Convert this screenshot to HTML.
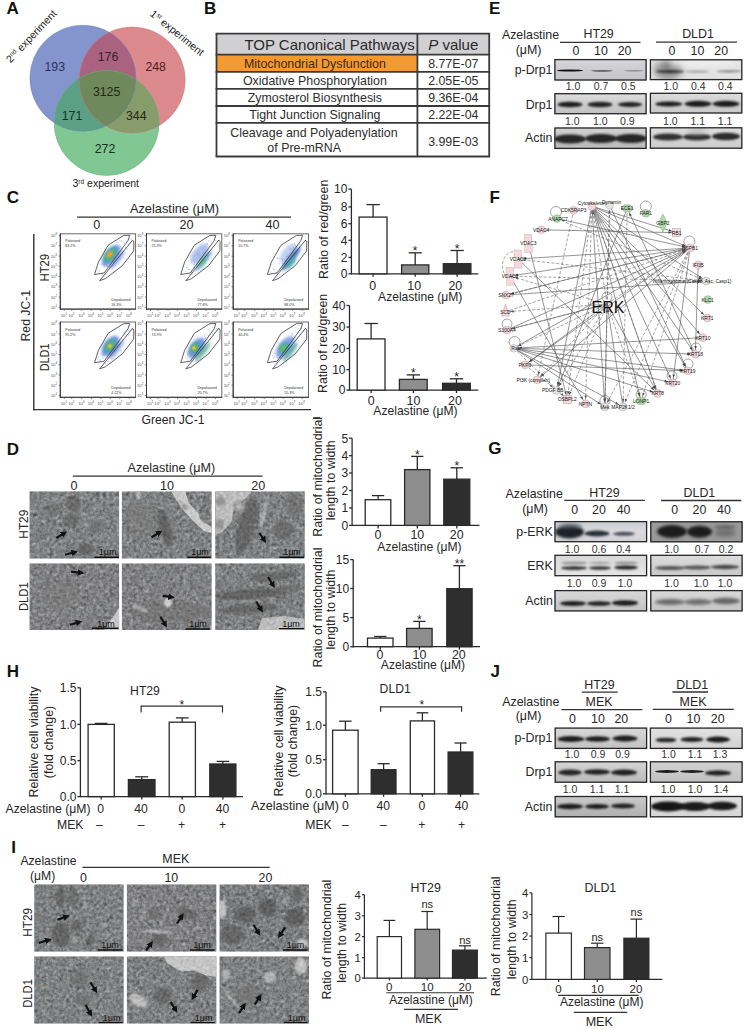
<!DOCTYPE html>
<html><head><meta charset="utf-8"><style>
html,body{margin:0;padding:0;background:#fff;}
body{width:747px;height:1030px;overflow:hidden;}
svg{display:block;font-family:"Liberation Sans", sans-serif;}
</style></head><body>
<svg width="747" height="1030" viewBox="0 0 747 1030">
<defs>
<filter id="b06" x="-50%" y="-50%" width="200%" height="200%"><feGaussianBlur stdDeviation="0.6"/></filter>
<filter id="b1" x="-50%" y="-50%" width="200%" height="200%"><feGaussianBlur stdDeviation="1"/></filter>
<filter id="b15" x="-50%" y="-50%" width="200%" height="200%"><feGaussianBlur stdDeviation="1.5"/></filter>
<filter id="b2" x="-50%" y="-50%" width="200%" height="200%"><feGaussianBlur stdDeviation="2"/></filter>
<filter id="b3" x="-50%" y="-50%" width="200%" height="200%"><feGaussianBlur stdDeviation="3"/></filter>
<clipPath id="cB"><circle cx="82.9" cy="78.2" r="53"/></clipPath>
<clipPath id="cR"><circle cx="132.2" cy="80" r="53"/></clipPath>
<clipPath id="cG"><circle cx="106.6" cy="123.0" r="52.5"/></clipPath>
<clipPath id="cl1"><rect x="554.3" y="59" width="92.40000000000009" height="21.599999999999994"/></clipPath>
<linearGradient id="g2" x1="0" y1="0" x2="0" y2="1"><stop offset="0" stop-color="#e0e0e4" stop-opacity="0.6"/><stop offset="1" stop-color="#b8b8bc" stop-opacity="0.4"/></linearGradient>
<clipPath id="cl3"><rect x="649.8" y="59.2" width="92.60000000000002" height="21.0"/></clipPath>
<clipPath id="cl4"><rect x="554.3" y="93.1" width="92.40000000000009" height="21.200000000000003"/></clipPath>
<linearGradient id="g5" x1="0" y1="0" x2="0" y2="1"><stop offset="0" stop-color="#e6e6e6" stop-opacity="0.6"/><stop offset="1" stop-color="#b0b0b0" stop-opacity="0.5"/></linearGradient>
<clipPath id="cl6"><rect x="649.8" y="92.7" width="92.60000000000002" height="20.89999999999999"/></clipPath>
<linearGradient id="g7" x1="0" y1="0" x2="0" y2="1"><stop offset="0" stop-color="#e2e2e2" stop-opacity="0.6"/><stop offset="1" stop-color="#bcbcbc" stop-opacity="0.5"/></linearGradient>
<clipPath id="cl8"><rect x="554.3" y="127.4" width="92.40000000000009" height="21.599999999999994"/></clipPath>
<linearGradient id="g9" x1="0" y1="0" x2="0" y2="1"><stop offset="0" stop-color="#dcdcdc" stop-opacity="0.6"/><stop offset="1" stop-color="#a8a8a8" stop-opacity="0.4"/></linearGradient>
<clipPath id="cl10"><rect x="649.8" y="127.2" width="92.60000000000002" height="21.60000000000001"/></clipPath>
<linearGradient id="g11" x1="0" y1="0" x2="0" y2="1"><stop offset="0" stop-color="#e4e4e4" stop-opacity="0.5"/><stop offset="1" stop-color="#c0c0c0" stop-opacity="0.5"/></linearGradient>
<clipPath id="cl12"><rect x="554.4" y="521" width="92.80000000000007" height="21.299999999999955"/></clipPath>
<linearGradient id="g13" x1="0" y1="0" x2="0" y2="1"><stop offset="0" stop-color="#b8bcc0" stop-opacity="0.5"/><stop offset="0.5" stop-color="#e4e4e8" stop-opacity="0.3"/><stop offset="1" stop-color="#c8c8cc" stop-opacity="0.4"/></linearGradient>
<clipPath id="cl14"><rect x="650.2" y="521.2" width="92.5" height="21.199999999999932"/></clipPath>
<clipPath id="cl15"><rect x="554.4" y="554.7" width="92.80000000000007" height="21.59999999999991"/></clipPath>
<linearGradient id="g16" x1="0" y1="0" x2="0" y2="1"><stop offset="0" stop-color="#cfcfcf" stop-opacity="0.4"/><stop offset="1" stop-color="#f0f0f0" stop-opacity="0.4"/></linearGradient>
<clipPath id="cl17"><rect x="650.2" y="554.7" width="92.5" height="21.59999999999991"/></clipPath>
<linearGradient id="g18" x1="0" y1="0" x2="0" y2="1"><stop offset="0" stop-color="#e4e4e4" stop-opacity="0.6"/><stop offset="1" stop-color="#bcbcbc" stop-opacity="0.5"/></linearGradient>
<clipPath id="cl19"><rect x="554.4" y="590" width="92.80000000000007" height="21.5"/></clipPath>
<linearGradient id="g20" x1="0" y1="0" x2="0" y2="1"><stop offset="0" stop-color="#e0e0e0" stop-opacity="0.5"/><stop offset="1" stop-color="#b4b4b4" stop-opacity="0.5"/></linearGradient>
<clipPath id="cl21"><rect x="650.2" y="590" width="92.5" height="21.5"/></clipPath>
<linearGradient id="g22" x1="0" y1="0" x2="0" y2="1"><stop offset="0" stop-color="#e2e2e2" stop-opacity="0.5"/><stop offset="1" stop-color="#b8b8b8" stop-opacity="0.5"/></linearGradient>
<clipPath id="cl23"><rect x="554.6" y="727.5" width="92.60000000000002" height="21.5"/></clipPath>
<linearGradient id="g24" x1="0" y1="0" x2="0" y2="1"><stop offset="0" stop-color="#e2e2e2" stop-opacity="0.5"/><stop offset="1" stop-color="#b4b4b4" stop-opacity="0.5"/></linearGradient>
<clipPath id="cl25"><rect x="649.8" y="727.5" width="92.90000000000009" height="21.5"/></clipPath>
<linearGradient id="g26" x1="0" y1="0" x2="0" y2="1"><stop offset="0" stop-color="#e8e8e8" stop-opacity="0.5"/><stop offset="1" stop-color="#c8c8c8" stop-opacity="0.5"/></linearGradient>
<clipPath id="cl27"><rect x="554.6" y="761.2" width="92.60000000000002" height="21.59999999999991"/></clipPath>
<linearGradient id="g28" x1="0" y1="0" x2="0" y2="1"><stop offset="0" stop-color="#e0e0e0" stop-opacity="0.5"/><stop offset="1" stop-color="#a8a8a8" stop-opacity="0.5"/></linearGradient>
<clipPath id="cl29"><rect x="649.8" y="761.2" width="92.90000000000009" height="21.59999999999991"/></clipPath>
<linearGradient id="g30" x1="0" y1="0" x2="0" y2="1"><stop offset="0" stop-color="#d8d8d8" stop-opacity="0.5"/><stop offset="1" stop-color="#b8b8b8" stop-opacity="0.5"/></linearGradient>
<clipPath id="cl31"><rect x="554.6" y="795.9" width="92.60000000000002" height="21.5"/></clipPath>
<linearGradient id="g32" x1="0" y1="0" x2="0" y2="1"><stop offset="0" stop-color="#d8d8d8" stop-opacity="0.5"/><stop offset="1" stop-color="#a0a0a0" stop-opacity="0.5"/></linearGradient>
<clipPath id="cl33"><rect x="649.8" y="795.9" width="92.90000000000009" height="21.5"/></clipPath>
<linearGradient id="g34" x1="0" y1="0" x2="0" y2="1"><stop offset="0" stop-color="#e8e8e8" stop-opacity="0.5"/><stop offset="1" stop-color="#d0d0d0" stop-opacity="0.5"/></linearGradient>
<clipPath id="cf35"><rect x="60.3" y="233.8" width="75.3" height="75.3"/></clipPath>
<clipPath id="cf36"><rect x="146.5" y="233.8" width="75.3" height="75.3"/></clipPath>
<clipPath id="cf37"><rect x="233.2" y="233.8" width="75.3" height="75.3"/></clipPath>
<clipPath id="cf38"><rect x="60.3" y="322" width="75.3" height="75.3"/></clipPath>
<clipPath id="cf39"><rect x="146.5" y="322" width="75.3" height="75.3"/></clipPath>
<clipPath id="cf40"><rect x="233.2" y="322" width="75.3" height="75.3"/></clipPath>
<filter id="emn1" x="0%" y="0%" width="100%" height="100%" color-interpolation-filters="sRGB"><feTurbulence type="fractalNoise" baseFrequency="0.3" numOctaves="3" seed="1"/><feColorMatrix type="matrix" values="0.33 0.33 0.33 0 0 0.33 0.33 0.33 0 0 0.33 0.33 0.33 0 0 0 0 0 0 1"/><feComponentTransfer><feFuncR type="linear" slope="1.6" intercept="-0.3"/><feFuncG type="linear" slope="1.6" intercept="-0.3"/><feFuncB type="linear" slope="1.6" intercept="-0.3"/></feComponentTransfer><feGaussianBlur stdDeviation="0.45"/></filter>
<filter id="emm1" x="0%" y="0%" width="100%" height="100%" color-interpolation-filters="sRGB"><feTurbulence type="fractalNoise" baseFrequency="0.12" numOctaves="2" seed="21"/><feColorMatrix type="matrix" values="0.33 0.33 0.33 0 0 0.33 0.33 0.33 0 0 0.33 0.33 0.33 0 0 0 0 0 0 1"/></filter>
<filter id="emn2" x="0%" y="0%" width="100%" height="100%" color-interpolation-filters="sRGB"><feTurbulence type="fractalNoise" baseFrequency="0.3" numOctaves="3" seed="2"/><feColorMatrix type="matrix" values="0.33 0.33 0.33 0 0 0.33 0.33 0.33 0 0 0.33 0.33 0.33 0 0 0 0 0 0 1"/><feComponentTransfer><feFuncR type="linear" slope="1.6" intercept="-0.3"/><feFuncG type="linear" slope="1.6" intercept="-0.3"/><feFuncB type="linear" slope="1.6" intercept="-0.3"/></feComponentTransfer><feGaussianBlur stdDeviation="0.45"/></filter>
<filter id="emm2" x="0%" y="0%" width="100%" height="100%" color-interpolation-filters="sRGB"><feTurbulence type="fractalNoise" baseFrequency="0.12" numOctaves="2" seed="22"/><feColorMatrix type="matrix" values="0.33 0.33 0.33 0 0 0.33 0.33 0.33 0 0 0.33 0.33 0.33 0 0 0 0 0 0 1"/></filter>
<filter id="emn3" x="0%" y="0%" width="100%" height="100%" color-interpolation-filters="sRGB"><feTurbulence type="fractalNoise" baseFrequency="0.3" numOctaves="3" seed="3"/><feColorMatrix type="matrix" values="0.33 0.33 0.33 0 0 0.33 0.33 0.33 0 0 0.33 0.33 0.33 0 0 0 0 0 0 1"/><feComponentTransfer><feFuncR type="linear" slope="1.6" intercept="-0.3"/><feFuncG type="linear" slope="1.6" intercept="-0.3"/><feFuncB type="linear" slope="1.6" intercept="-0.3"/></feComponentTransfer><feGaussianBlur stdDeviation="0.45"/></filter>
<filter id="emm3" x="0%" y="0%" width="100%" height="100%" color-interpolation-filters="sRGB"><feTurbulence type="fractalNoise" baseFrequency="0.12" numOctaves="2" seed="23"/><feColorMatrix type="matrix" values="0.33 0.33 0.33 0 0 0.33 0.33 0.33 0 0 0.33 0.33 0.33 0 0 0 0 0 0 1"/></filter>
<filter id="emn4" x="0%" y="0%" width="100%" height="100%" color-interpolation-filters="sRGB"><feTurbulence type="fractalNoise" baseFrequency="0.3" numOctaves="3" seed="4"/><feColorMatrix type="matrix" values="0.33 0.33 0.33 0 0 0.33 0.33 0.33 0 0 0.33 0.33 0.33 0 0 0 0 0 0 1"/><feComponentTransfer><feFuncR type="linear" slope="1.6" intercept="-0.3"/><feFuncG type="linear" slope="1.6" intercept="-0.3"/><feFuncB type="linear" slope="1.6" intercept="-0.3"/></feComponentTransfer><feGaussianBlur stdDeviation="0.45"/></filter>
<filter id="emm4" x="0%" y="0%" width="100%" height="100%" color-interpolation-filters="sRGB"><feTurbulence type="fractalNoise" baseFrequency="0.12" numOctaves="2" seed="24"/><feColorMatrix type="matrix" values="0.33 0.33 0.33 0 0 0.33 0.33 0.33 0 0 0.33 0.33 0.33 0 0 0 0 0 0 1"/></filter>
<filter id="emn5" x="0%" y="0%" width="100%" height="100%" color-interpolation-filters="sRGB"><feTurbulence type="fractalNoise" baseFrequency="0.3" numOctaves="3" seed="5"/><feColorMatrix type="matrix" values="0.33 0.33 0.33 0 0 0.33 0.33 0.33 0 0 0.33 0.33 0.33 0 0 0 0 0 0 1"/><feComponentTransfer><feFuncR type="linear" slope="1.6" intercept="-0.3"/><feFuncG type="linear" slope="1.6" intercept="-0.3"/><feFuncB type="linear" slope="1.6" intercept="-0.3"/></feComponentTransfer><feGaussianBlur stdDeviation="0.45"/></filter>
<filter id="emm5" x="0%" y="0%" width="100%" height="100%" color-interpolation-filters="sRGB"><feTurbulence type="fractalNoise" baseFrequency="0.12" numOctaves="2" seed="25"/><feColorMatrix type="matrix" values="0.33 0.33 0.33 0 0 0.33 0.33 0.33 0 0 0.33 0.33 0.33 0 0 0 0 0 0 1"/></filter>
<filter id="emn6" x="0%" y="0%" width="100%" height="100%" color-interpolation-filters="sRGB"><feTurbulence type="fractalNoise" baseFrequency="0.3" numOctaves="3" seed="6"/><feColorMatrix type="matrix" values="0.33 0.33 0.33 0 0 0.33 0.33 0.33 0 0 0.33 0.33 0.33 0 0 0 0 0 0 1"/><feComponentTransfer><feFuncR type="linear" slope="1.6" intercept="-0.3"/><feFuncG type="linear" slope="1.6" intercept="-0.3"/><feFuncB type="linear" slope="1.6" intercept="-0.3"/></feComponentTransfer><feGaussianBlur stdDeviation="0.45"/></filter>
<filter id="emm6" x="0%" y="0%" width="100%" height="100%" color-interpolation-filters="sRGB"><feTurbulence type="fractalNoise" baseFrequency="0.12" numOctaves="2" seed="26"/><feColorMatrix type="matrix" values="0.33 0.33 0.33 0 0 0.33 0.33 0.33 0 0 0.33 0.33 0.33 0 0 0 0 0 0 1"/></filter>
<filter id="emn7" x="0%" y="0%" width="100%" height="100%" color-interpolation-filters="sRGB"><feTurbulence type="fractalNoise" baseFrequency="0.3" numOctaves="3" seed="7"/><feColorMatrix type="matrix" values="0.33 0.33 0.33 0 0 0.33 0.33 0.33 0 0 0.33 0.33 0.33 0 0 0 0 0 0 1"/><feComponentTransfer><feFuncR type="linear" slope="1.6" intercept="-0.3"/><feFuncG type="linear" slope="1.6" intercept="-0.3"/><feFuncB type="linear" slope="1.6" intercept="-0.3"/></feComponentTransfer><feGaussianBlur stdDeviation="0.45"/></filter>
<filter id="emm7" x="0%" y="0%" width="100%" height="100%" color-interpolation-filters="sRGB"><feTurbulence type="fractalNoise" baseFrequency="0.12" numOctaves="2" seed="27"/><feColorMatrix type="matrix" values="0.33 0.33 0.33 0 0 0.33 0.33 0.33 0 0 0.33 0.33 0.33 0 0 0 0 0 0 1"/></filter>
<filter id="emn8" x="0%" y="0%" width="100%" height="100%" color-interpolation-filters="sRGB"><feTurbulence type="fractalNoise" baseFrequency="0.3" numOctaves="3" seed="8"/><feColorMatrix type="matrix" values="0.33 0.33 0.33 0 0 0.33 0.33 0.33 0 0 0.33 0.33 0.33 0 0 0 0 0 0 1"/><feComponentTransfer><feFuncR type="linear" slope="1.6" intercept="-0.3"/><feFuncG type="linear" slope="1.6" intercept="-0.3"/><feFuncB type="linear" slope="1.6" intercept="-0.3"/></feComponentTransfer><feGaussianBlur stdDeviation="0.45"/></filter>
<filter id="emm8" x="0%" y="0%" width="100%" height="100%" color-interpolation-filters="sRGB"><feTurbulence type="fractalNoise" baseFrequency="0.12" numOctaves="2" seed="28"/><feColorMatrix type="matrix" values="0.33 0.33 0.33 0 0 0.33 0.33 0.33 0 0 0.33 0.33 0.33 0 0 0 0 0 0 1"/></filter>
<filter id="emn9" x="0%" y="0%" width="100%" height="100%" color-interpolation-filters="sRGB"><feTurbulence type="fractalNoise" baseFrequency="0.3" numOctaves="3" seed="9"/><feColorMatrix type="matrix" values="0.33 0.33 0.33 0 0 0.33 0.33 0.33 0 0 0.33 0.33 0.33 0 0 0 0 0 0 1"/><feComponentTransfer><feFuncR type="linear" slope="1.6" intercept="-0.3"/><feFuncG type="linear" slope="1.6" intercept="-0.3"/><feFuncB type="linear" slope="1.6" intercept="-0.3"/></feComponentTransfer><feGaussianBlur stdDeviation="0.45"/></filter>
<filter id="emm9" x="0%" y="0%" width="100%" height="100%" color-interpolation-filters="sRGB"><feTurbulence type="fractalNoise" baseFrequency="0.12" numOctaves="2" seed="29"/><feColorMatrix type="matrix" values="0.33 0.33 0.33 0 0 0.33 0.33 0.33 0 0 0.33 0.33 0.33 0 0 0 0 0 0 1"/></filter>
<filter id="emn10" x="0%" y="0%" width="100%" height="100%" color-interpolation-filters="sRGB"><feTurbulence type="fractalNoise" baseFrequency="0.3" numOctaves="3" seed="10"/><feColorMatrix type="matrix" values="0.33 0.33 0.33 0 0 0.33 0.33 0.33 0 0 0.33 0.33 0.33 0 0 0 0 0 0 1"/><feComponentTransfer><feFuncR type="linear" slope="1.6" intercept="-0.3"/><feFuncG type="linear" slope="1.6" intercept="-0.3"/><feFuncB type="linear" slope="1.6" intercept="-0.3"/></feComponentTransfer><feGaussianBlur stdDeviation="0.45"/></filter>
<filter id="emm10" x="0%" y="0%" width="100%" height="100%" color-interpolation-filters="sRGB"><feTurbulence type="fractalNoise" baseFrequency="0.12" numOctaves="2" seed="30"/><feColorMatrix type="matrix" values="0.33 0.33 0.33 0 0 0.33 0.33 0.33 0 0 0.33 0.33 0.33 0 0 0 0 0 0 1"/></filter>
<filter id="emn11" x="0%" y="0%" width="100%" height="100%" color-interpolation-filters="sRGB"><feTurbulence type="fractalNoise" baseFrequency="0.3" numOctaves="3" seed="11"/><feColorMatrix type="matrix" values="0.33 0.33 0.33 0 0 0.33 0.33 0.33 0 0 0.33 0.33 0.33 0 0 0 0 0 0 1"/><feComponentTransfer><feFuncR type="linear" slope="1.6" intercept="-0.3"/><feFuncG type="linear" slope="1.6" intercept="-0.3"/><feFuncB type="linear" slope="1.6" intercept="-0.3"/></feComponentTransfer><feGaussianBlur stdDeviation="0.45"/></filter>
<filter id="emm11" x="0%" y="0%" width="100%" height="100%" color-interpolation-filters="sRGB"><feTurbulence type="fractalNoise" baseFrequency="0.12" numOctaves="2" seed="31"/><feColorMatrix type="matrix" values="0.33 0.33 0.33 0 0 0.33 0.33 0.33 0 0 0.33 0.33 0.33 0 0 0 0 0 0 1"/></filter>
<filter id="emn12" x="0%" y="0%" width="100%" height="100%" color-interpolation-filters="sRGB"><feTurbulence type="fractalNoise" baseFrequency="0.3" numOctaves="3" seed="12"/><feColorMatrix type="matrix" values="0.33 0.33 0.33 0 0 0.33 0.33 0.33 0 0 0.33 0.33 0.33 0 0 0 0 0 0 1"/><feComponentTransfer><feFuncR type="linear" slope="1.6" intercept="-0.3"/><feFuncG type="linear" slope="1.6" intercept="-0.3"/><feFuncB type="linear" slope="1.6" intercept="-0.3"/></feComponentTransfer><feGaussianBlur stdDeviation="0.45"/></filter>
<filter id="emm12" x="0%" y="0%" width="100%" height="100%" color-interpolation-filters="sRGB"><feTurbulence type="fractalNoise" baseFrequency="0.12" numOctaves="2" seed="32"/><feColorMatrix type="matrix" values="0.33 0.33 0.33 0 0 0.33 0.33 0.33 0 0 0.33 0.33 0.33 0 0 0 0 0 0 1"/></filter>
<marker id="ah" viewBox="0 0 10 10" refX="5" refY="5" markerWidth="3" markerHeight="3" orient="auto"><path d="M0,0 L10,5 L0,10 z" fill="#111"/></marker>
<clipPath id="ce41"><rect x="29.6" y="491.5" width="89.5" height="66.9"/></clipPath>
<clipPath id="ce42"><rect x="121.9" y="491.5" width="89.7" height="66.9"/></clipPath>
<clipPath id="ce43"><rect x="215.3" y="491.5" width="89.4" height="66.9"/></clipPath>
<clipPath id="ce44"><rect x="29.6" y="563.5" width="89.5" height="66.6"/></clipPath>
<clipPath id="ce45"><rect x="121.9" y="563.5" width="89.7" height="66.6"/></clipPath>
<clipPath id="ce46"><rect x="215.3" y="563.5" width="89.4" height="66.6"/></clipPath>
<clipPath id="ce47"><rect x="34.3" y="884.5" width="89.3" height="67.0"/></clipPath>
<clipPath id="ce48"><rect x="126.9" y="884.5" width="89.4" height="67.0"/></clipPath>
<clipPath id="ce49"><rect x="219.6" y="884.5" width="89.4" height="67.0"/></clipPath>
<clipPath id="ce50"><rect x="34.3" y="956.5" width="89.3" height="67.0"/></clipPath>
<clipPath id="ce51"><rect x="126.9" y="956.5" width="89.4" height="67.0"/></clipPath>
<clipPath id="ce52"><rect x="219.6" y="956.5" width="89.4" height="67.0"/></clipPath>
</defs>
<text x="6.5" y="14.2" font-size="17" text-anchor="start" fill="#111" font-weight="bold">A</text>
<circle cx="82.9" cy="78.2" r="53" fill="#8395cc"/>
<circle cx="132.2" cy="80" r="53" fill="#dc8a8e"/>
<circle cx="106.6" cy="123.0" r="52.5" fill="#80c793"/>
<circle cx="132.2" cy="80" r="53" fill="#a9627f" clip-path="url(#cB)"/>
<g clip-path="url(#cB)">
<circle cx="106.6" cy="123.0" r="52.5" fill="#5ca085"/>
</g>
<g clip-path="url(#cR)">
<circle cx="106.6" cy="123.0" r="52.5" fill="#869c6b"/>
</g>
<g clip-path="url(#cB)"><g clip-path="url(#cR)">
<circle cx="106.6" cy="123.0" r="52.5" fill="#6f885c"/>
</g></g>
<circle cx="82.9" cy="78.2" r="53" fill="none" stroke="#7083bd" stroke-width="0.8" opacity="0.6"/>
<circle cx="132.2" cy="80" r="53" fill="none" stroke="#c8767c" stroke-width="0.8" opacity="0.6"/>
<circle cx="106.6" cy="123.0" r="52.5" fill="none" stroke="#68ad7c" stroke-width="0.8" opacity="0.6"/>
<text x="54.8" y="70.8" font-size="12.3" text-anchor="middle" fill="#2a3160">193</text>
<text x="108.0" y="61.3" font-size="12.3" text-anchor="middle" fill="#3a1f2c">176</text>
<text x="155.7" y="70.5" font-size="12.3" text-anchor="middle" fill="#4a1c22">248</text>
<text x="106.6" y="96.1" font-size="12.3" text-anchor="middle" fill="#1f2a1a">3125</text>
<text x="72.0" y="119.5" font-size="12.3" text-anchor="middle" fill="#17302a">171</text>
<text x="136.3" y="119.5" font-size="12.3" text-anchor="middle" fill="#262a16">344</text>
<text x="105.0" y="153.3" font-size="12.3" text-anchor="middle" fill="#163020">272</text>
<text x="0" y="0" font-size="10.5" fill="#222" transform="translate(10.5,63.5) rotate(-46.5)">2<tspan font-size="6.5" dy="-3.5">nd</tspan><tspan dy="3.5"> experiment</tspan></text>
<text x="0" y="0" font-size="10.5" fill="#222" transform="translate(149.3,15) rotate(39)">1<tspan font-size="6.5" dy="-3.5">st</tspan><tspan dy="3.5"> experiment</tspan></text>
<text x="0" y="0" font-size="10.5" fill="#222" transform="translate(72.5,187)">3<tspan font-size="6.5" dy="-3.5">rd</tspan><tspan dy="3.5"> experiment</tspan></text>
<text x="204.0" y="14.2" font-size="17" text-anchor="start" fill="#111" font-weight="bold">B</text>
<rect x="216.5" y="33.7" width="272.7" height="20.9" fill="#d0d0d2" stroke="none" stroke-width="1"/>
<rect x="216.5" y="54.6" width="200.9" height="17.2" fill="#f39a33" stroke="none" stroke-width="1"/>
<line x1="215.6" y1="33.7" x2="490.1" y2="33.7" stroke="#3a3a3a" stroke-width="1.8"/>
<line x1="215.6" y1="54.6" x2="490.1" y2="54.6" stroke="#3a3a3a" stroke-width="1.8"/>
<line x1="215.6" y1="71.8" x2="490.1" y2="71.8" stroke="#3a3a3a" stroke-width="1.8"/>
<line x1="215.6" y1="88.9" x2="490.1" y2="88.9" stroke="#3a3a3a" stroke-width="1.8"/>
<line x1="215.6" y1="106.0" x2="490.1" y2="106.0" stroke="#3a3a3a" stroke-width="1.8"/>
<line x1="215.6" y1="122.9" x2="490.1" y2="122.9" stroke="#3a3a3a" stroke-width="1.8"/>
<line x1="215.6" y1="156.5" x2="490.1" y2="156.5" stroke="#3a3a3a" stroke-width="1.8"/>
<line x1="216.5" y1="33.7" x2="216.5" y2="156.5" stroke="#3a3a3a" stroke-width="1.8"/>
<line x1="417.4" y1="33.7" x2="417.4" y2="156.5" stroke="#3a3a3a" stroke-width="1.8"/>
<line x1="489.2" y1="33.7" x2="489.2" y2="156.5" stroke="#3a3a3a" stroke-width="1.8"/>
<text x="329.6" y="49.5" font-size="15" text-anchor="middle" fill="#2a2a2a">TOP Canonical Pathways</text>
<text x="453.3" y="49.5" font-size="15" text-anchor="middle" fill="#2a2a2a"><tspan font-style="italic">P</tspan> value</text>
<text x="314.9" y="67.6" font-size="12.4" text-anchor="middle" fill="#3a2a1a">Mitochondrial Dysfunction</text>
<text x="453.3" y="67.6" font-size="12.4" text-anchor="middle" fill="#2e2e2e">8.77E-07</text>
<text x="314.9" y="84.8" font-size="12.4" text-anchor="middle" fill="#2e2e2e">Oxidative Phosphorylation</text>
<text x="453.3" y="84.8" font-size="12.4" text-anchor="middle" fill="#2e2e2e">2.05E-05</text>
<text x="314.9" y="101.9" font-size="12.4" text-anchor="middle" fill="#2e2e2e">Zymosterol Biosynthesis</text>
<text x="453.3" y="101.9" font-size="12.4" text-anchor="middle" fill="#2e2e2e">9.36E-04</text>
<text x="314.9" y="118.9" font-size="12.4" text-anchor="middle" fill="#2e2e2e">Tight Junction Signaling</text>
<text x="453.3" y="118.9" font-size="12.4" text-anchor="middle" fill="#2e2e2e">2.22E-04</text>
<text x="313.9" y="136.5" font-size="12.4" text-anchor="middle" fill="#2e2e2e">Cleavage and Polyadenylation</text>
<text x="304.2" y="151.6" font-size="12.4" text-anchor="middle" fill="#2e2e2e">of Pre-mRNA</text>
<text x="453.3" y="145.6" font-size="12.4" text-anchor="middle" fill="#2e2e2e">3.99E-03</text>
<text x="489.0" y="14.4" font-size="17" text-anchor="start" fill="#111" font-weight="bold">E</text>
<text x="530.5" y="39.2" font-size="12.4" text-anchor="middle" fill="#262626">Azelastine</text>
<text x="528.6" y="54.3" font-size="12.4" text-anchor="middle" fill="#262626">(μM)</text>
<text x="598.6" y="37.9" font-size="12.4" text-anchor="middle" fill="#262626">HT29</text>
<text x="698.0" y="37.8" font-size="12.4" text-anchor="middle" fill="#262626">DLD1</text>
<line x1="560.0" y1="42.4" x2="640.5" y2="42.4" stroke="#333" stroke-width="1.3"/>
<line x1="656.0" y1="42.2" x2="737.0" y2="42.2" stroke="#333" stroke-width="1.3"/>
<text x="575.9" y="55.3" font-size="12.4" text-anchor="middle" fill="#262626">0</text>
<text x="601.0" y="55.3" font-size="12.4" text-anchor="middle" fill="#262626">10</text>
<text x="624.6" y="55.3" font-size="12.4" text-anchor="middle" fill="#262626">20</text>
<text x="671.9" y="55.3" font-size="12.4" text-anchor="middle" fill="#262626">0</text>
<text x="697.4" y="55.3" font-size="12.4" text-anchor="middle" fill="#262626">10</text>
<text x="721.2" y="55.3" font-size="12.4" text-anchor="middle" fill="#262626">20</text>
<text x="552.5" y="73.8" font-size="12.4" text-anchor="end" fill="#262626">p-Drp1</text>
<text x="552.5" y="108.6" font-size="12.4" text-anchor="end" fill="#262626">Drp1</text>
<text x="552.5" y="141.8" font-size="12.4" text-anchor="end" fill="#262626">Actin</text>
<g clip-path="url(#cl1)">
<rect x="554.3" y="59.0" width="92.4" height="21.6" fill="#cbcbd0" stroke="none" stroke-width="1"/>
<rect x="554.3" y="59.0" width="92.4" height="21.6" fill="url(#g2)" stroke="none" stroke-width="1"/>
<ellipse cx="570.0" cy="70.5" rx="13.0" ry="1.1" fill="#111" filter="url(#b06)" opacity="1"/>
<ellipse cx="602.0" cy="70.8" rx="11.0" ry="0.9" fill="#444" filter="url(#b06)" opacity="0.8"/>
<ellipse cx="634.0" cy="70.8" rx="10.0" ry="0.7" fill="#666" filter="url(#b06)" opacity="0.6"/>
</g>
<rect x="554.9" y="59.6" width="91.2" height="20.4" fill="none" stroke="#262626" stroke-width="1.3"/>
<g clip-path="url(#cl3)">
<rect x="649.8" y="59.2" width="92.6" height="21.0" fill="#e2e2e2" stroke="none" stroke-width="1"/>
<ellipse cx="668.0" cy="70.0" rx="14.0" ry="10.0" fill="#555" filter="url(#b3)" opacity="0.55"/>
<ellipse cx="670.0" cy="71.5" rx="14.0" ry="1.5" fill="#222" filter="url(#b1)" opacity="0.9"/>
<ellipse cx="667.0" cy="64.0" rx="4.0" ry="4.0" fill="#333" filter="url(#b2)" opacity="0.6"/>
<ellipse cx="697.0" cy="71.5" rx="12.0" ry="1.0" fill="#777" filter="url(#b1)" opacity="0.7"/>
<ellipse cx="729.0" cy="71.3" rx="12.0" ry="1.1" fill="#555" filter="url(#b1)" opacity="0.7"/>
<ellipse cx="700.0" cy="62.0" rx="40.0" ry="5.0" fill="#f4f4f4" filter="url(#b3)" opacity="0.7"/>
</g>
<rect x="650.4" y="59.8" width="91.4" height="19.8" fill="none" stroke="#262626" stroke-width="1.3"/>
<text x="573.0" y="90.0" font-size="10.5" text-anchor="middle" fill="#333">1.0</text>
<text x="601.0" y="90.0" font-size="10.5" text-anchor="middle" fill="#333">0.7</text>
<text x="628.4" y="90.0" font-size="10.5" text-anchor="middle" fill="#333">0.5</text>
<text x="670.7" y="90.0" font-size="10.5" text-anchor="middle" fill="#333">1.0</text>
<text x="698.2" y="90.0" font-size="10.5" text-anchor="middle" fill="#333">0.4</text>
<text x="725.4" y="90.0" font-size="10.5" text-anchor="middle" fill="#333">0.4</text>
<g clip-path="url(#cl4)">
<rect x="554.3" y="93.1" width="92.4" height="21.2" fill="#d2d2d2" stroke="none" stroke-width="1"/>
<rect x="554.3" y="93.1" width="92.4" height="21.2" fill="url(#g5)" stroke="none" stroke-width="1"/>
<ellipse cx="570.0" cy="104.5" rx="12.5" ry="2.8" fill="#1a1a1a" filter="url(#b1)" opacity="1"/>
<ellipse cx="600.0" cy="104.5" rx="12.5" ry="2.8" fill="#222" filter="url(#b1)" opacity="1"/>
<ellipse cx="630.0" cy="104.5" rx="12.0" ry="2.6" fill="#222" filter="url(#b1)" opacity="1"/>
</g>
<rect x="554.9" y="93.7" width="91.2" height="20.0" fill="none" stroke="#262626" stroke-width="1.3"/>
<g clip-path="url(#cl6)">
<rect x="649.8" y="92.7" width="92.6" height="20.9" fill="#d4d4d4" stroke="none" stroke-width="1"/>
<rect x="649.8" y="92.7" width="92.6" height="20.9" fill="url(#g7)" stroke="none" stroke-width="1"/>
<ellipse cx="668.8" cy="104.0" rx="13.5" ry="2.6" fill="#1e1e1e" filter="url(#b1)" opacity="1"/>
<ellipse cx="698.0" cy="103.8" rx="13.5" ry="3.0" fill="#1e1e1e" filter="url(#b1)" opacity="1"/>
<ellipse cx="726.0" cy="103.8" rx="13.5" ry="3.0" fill="#1e1e1e" filter="url(#b1)" opacity="1"/>
</g>
<rect x="650.4" y="93.3" width="91.4" height="19.7" fill="none" stroke="#262626" stroke-width="1.3"/>
<text x="572.2" y="124.6" font-size="10.5" text-anchor="middle" fill="#333">1.0</text>
<text x="600.3" y="124.6" font-size="10.5" text-anchor="middle" fill="#333">1.0</text>
<text x="627.4" y="124.6" font-size="10.5" text-anchor="middle" fill="#333">0.9</text>
<text x="670.4" y="124.6" font-size="10.5" text-anchor="middle" fill="#333">1.0</text>
<text x="697.8" y="124.6" font-size="10.5" text-anchor="middle" fill="#333">1.1</text>
<text x="725.0" y="124.6" font-size="10.5" text-anchor="middle" fill="#333">1.1</text>
<g clip-path="url(#cl8)">
<rect x="554.3" y="127.4" width="92.4" height="21.6" fill="#c6c6c6" stroke="none" stroke-width="1"/>
<rect x="554.3" y="127.4" width="92.4" height="21.6" fill="url(#g9)" stroke="none" stroke-width="1"/>
<ellipse cx="570.0" cy="139.0" rx="16.0" ry="4.5" fill="#262626" filter="url(#b1)" opacity="1"/>
<ellipse cx="601.0" cy="138.5" rx="16.0" ry="4.5" fill="#262626" filter="url(#b1)" opacity="1"/>
<ellipse cx="631.0" cy="138.5" rx="16.0" ry="4.5" fill="#262626" filter="url(#b1)" opacity="1"/>
</g>
<rect x="554.9" y="128.0" width="91.2" height="20.4" fill="none" stroke="#262626" stroke-width="1.3"/>
<g clip-path="url(#cl10)">
<rect x="649.8" y="127.2" width="92.6" height="21.6" fill="#d6d6d6" stroke="none" stroke-width="1"/>
<rect x="649.8" y="127.2" width="92.6" height="21.6" fill="url(#g11)" stroke="none" stroke-width="1"/>
<ellipse cx="668.0" cy="137.0" rx="15.0" ry="3.6" fill="#303030" filter="url(#b1)" opacity="1"/>
<ellipse cx="697.0" cy="137.0" rx="14.0" ry="3.6" fill="#303030" filter="url(#b1)" opacity="1"/>
<ellipse cx="726.0" cy="136.5" rx="14.0" ry="3.8" fill="#2a2a2a" filter="url(#b1)" opacity="1"/>
<ellipse cx="697.0" cy="131.0" rx="10.0" ry="3.0" fill="#c0c0c0" filter="url(#b2)" opacity="1"/>
</g>
<rect x="650.4" y="127.8" width="91.4" height="20.4" fill="none" stroke="#262626" stroke-width="1.3"/>
<text x="488.2" y="454.3" font-size="17" text-anchor="start" fill="#111" font-weight="bold">G</text>
<text x="534.2" y="497.7" font-size="12.4" text-anchor="middle" fill="#262626">Azelastine</text>
<text x="535.1" y="513.0" font-size="12.4" text-anchor="middle" fill="#262626">(μM)</text>
<text x="604.5" y="496.6" font-size="12.4" text-anchor="middle" fill="#262626">HT29</text>
<text x="699.4" y="496.6" font-size="12.4" text-anchor="middle" fill="#262626">DLD1</text>
<line x1="564.3" y1="500.3" x2="644.9" y2="500.3" stroke="#333" stroke-width="1.3"/>
<line x1="661.0" y1="500.5" x2="741.3" y2="500.5" stroke="#333" stroke-width="1.3"/>
<text x="574.6" y="513.5" font-size="12.4" text-anchor="middle" fill="#262626">0</text>
<text x="599.0" y="513.5" font-size="12.4" text-anchor="middle" fill="#262626">20</text>
<text x="623.6" y="513.5" font-size="12.4" text-anchor="middle" fill="#262626">40</text>
<text x="674.8" y="513.5" font-size="12.4" text-anchor="middle" fill="#262626">0</text>
<text x="699.4" y="513.5" font-size="12.4" text-anchor="middle" fill="#262626">20</text>
<text x="724.0" y="513.5" font-size="12.4" text-anchor="middle" fill="#262626">40</text>
<text x="552.8" y="536.3" font-size="12.4" text-anchor="end" fill="#262626">p-ERK</text>
<text x="552.8" y="570.0" font-size="12.4" text-anchor="end" fill="#262626">ERK</text>
<text x="552.8" y="605.3" font-size="12.4" text-anchor="end" fill="#262626">Actin</text>
<g clip-path="url(#cl12)">
<rect x="554.4" y="521.0" width="92.8" height="21.3" fill="#d6d6da" stroke="none" stroke-width="1"/>
<rect x="554.4" y="521.0" width="92.8" height="21.3" fill="url(#g13)" stroke="none" stroke-width="1"/>
<ellipse cx="569.5" cy="532.0" rx="14.5" ry="6.5" fill="#1c2228" filter="url(#b15)" opacity="1"/>
<ellipse cx="597.0" cy="533.5" rx="12.5" ry="3.0" fill="#2a3038" filter="url(#b1)" opacity="1"/>
<ellipse cx="624.0" cy="533.8" rx="11.0" ry="2.0" fill="#3a4048" filter="url(#b1)" opacity="0.9"/>
<ellipse cx="570.0" cy="526.0" rx="12.0" ry="3.0" fill="#55606a" filter="url(#b15)" opacity="0.6"/>
</g>
<rect x="555.0" y="521.6" width="91.6" height="20.1" fill="none" stroke="#262626" stroke-width="1.3"/>
<g clip-path="url(#cl14)">
<rect x="650.2" y="521.2" width="92.5" height="21.2" fill="#9a9a9a" stroke="none" stroke-width="1"/>
<ellipse cx="672.0" cy="531.5" rx="15.0" ry="6.5" fill="#1a1a1a" filter="url(#b15)" opacity="1"/>
<ellipse cx="699.5" cy="531.8" rx="12.5" ry="6.0" fill="#1c1c1c" filter="url(#b15)" opacity="1"/>
<ellipse cx="725.0" cy="533.0" rx="11.0" ry="3.5" fill="#606060" filter="url(#b2)" opacity="0.8"/>
<ellipse cx="725.0" cy="527.0" rx="11.0" ry="2.0" fill="#505050" filter="url(#b15)" opacity="0.7"/>
</g>
<rect x="650.8" y="521.8" width="91.3" height="20.0" fill="none" stroke="#262626" stroke-width="1.3"/>
<text x="572.0" y="552.5" font-size="10.5" text-anchor="middle" fill="#333">1.0</text>
<text x="599.0" y="552.5" font-size="10.5" text-anchor="middle" fill="#333">0.6</text>
<text x="623.5" y="552.5" font-size="10.5" text-anchor="middle" fill="#333">0.4</text>
<text x="671.5" y="552.5" font-size="10.5" text-anchor="middle" fill="#333">1.0</text>
<text x="702.0" y="552.5" font-size="10.5" text-anchor="middle" fill="#333">0.7</text>
<text x="726.0" y="552.5" font-size="10.5" text-anchor="middle" fill="#333">0.2</text>
<g clip-path="url(#cl15)">
<rect x="554.4" y="554.7" width="92.8" height="21.6" fill="#dedede" stroke="none" stroke-width="1"/>
<rect x="554.4" y="554.7" width="92.8" height="21.6" fill="url(#g16)" stroke="none" stroke-width="1"/>
<ellipse cx="574.0" cy="563.0" rx="13.0" ry="1.3" fill="#777" filter="url(#b1)" opacity="0.8"/>
<ellipse cx="600.0" cy="563.0" rx="12.0" ry="1.2" fill="#888" filter="url(#b1)" opacity="0.7"/>
<ellipse cx="626.0" cy="563.0" rx="12.0" ry="1.3" fill="#777" filter="url(#b1)" opacity="0.8"/>
<ellipse cx="574.0" cy="568.0" rx="13.0" ry="1.8" fill="#2a2a2a" filter="url(#b1)" opacity="1"/>
<ellipse cx="600.0" cy="568.0" rx="11.0" ry="1.7" fill="#333" filter="url(#b1)" opacity="1"/>
<ellipse cx="626.0" cy="567.5" rx="12.0" ry="2.0" fill="#222" filter="url(#b1)" opacity="1"/>
</g>
<rect x="555.0" y="555.3" width="91.6" height="20.4" fill="none" stroke="#262626" stroke-width="1.3"/>
<g clip-path="url(#cl17)">
<rect x="650.2" y="554.7" width="92.5" height="21.6" fill="#d4d4d4" stroke="none" stroke-width="1"/>
<rect x="650.2" y="554.7" width="92.5" height="21.6" fill="url(#g18)" stroke="none" stroke-width="1"/>
<ellipse cx="670.0" cy="568.0" rx="15.0" ry="2.0" fill="#555" filter="url(#b1)" opacity="1"/>
<ellipse cx="697.0" cy="567.5" rx="14.0" ry="2.0" fill="#555" filter="url(#b1)" opacity="1"/>
<ellipse cx="725.0" cy="567.0" rx="14.0" ry="2.2" fill="#4a4a4a" filter="url(#b1)" opacity="1"/>
</g>
<rect x="650.8" y="555.3" width="91.3" height="20.4" fill="none" stroke="#262626" stroke-width="1.3"/>
<text x="574.0" y="586.6" font-size="10.5" text-anchor="middle" fill="#333">1.0</text>
<text x="599.0" y="586.6" font-size="10.5" text-anchor="middle" fill="#333">0.9</text>
<text x="625.0" y="586.6" font-size="10.5" text-anchor="middle" fill="#333">1.0</text>
<text x="671.5" y="586.6" font-size="10.5" text-anchor="middle" fill="#333">1.0</text>
<text x="701.0" y="586.6" font-size="10.5" text-anchor="middle" fill="#333">1.0</text>
<text x="725.0" y="586.6" font-size="10.5" text-anchor="middle" fill="#333">1.0</text>
<g clip-path="url(#cl19)">
<rect x="554.4" y="590.0" width="92.8" height="21.5" fill="#d2d2d2" stroke="none" stroke-width="1"/>
<rect x="554.4" y="590.0" width="92.8" height="21.5" fill="url(#g20)" stroke="none" stroke-width="1"/>
<ellipse cx="573.0" cy="603.5" rx="13.0" ry="2.4" fill="#1e1e1e" filter="url(#b1)" opacity="1"/>
<ellipse cx="599.0" cy="603.5" rx="12.0" ry="2.3" fill="#222" filter="url(#b1)" opacity="1"/>
<ellipse cx="625.0" cy="603.0" rx="13.0" ry="2.7" fill="#1a1a1a" filter="url(#b1)" opacity="1"/>
</g>
<rect x="555.0" y="590.6" width="91.6" height="20.3" fill="none" stroke="#262626" stroke-width="1.3"/>
<g clip-path="url(#cl21)">
<rect x="650.2" y="590.0" width="92.5" height="21.5" fill="#d0d0d0" stroke="none" stroke-width="1"/>
<rect x="650.2" y="590.0" width="92.5" height="21.5" fill="url(#g22)" stroke="none" stroke-width="1"/>
<ellipse cx="670.0" cy="602.0" rx="15.0" ry="3.0" fill="#6a6a6a" filter="url(#b15)" opacity="1"/>
<ellipse cx="698.0" cy="602.0" rx="14.0" ry="3.0" fill="#6e6e6e" filter="url(#b15)" opacity="1"/>
<ellipse cx="726.0" cy="601.0" rx="14.0" ry="3.2" fill="#666" filter="url(#b15)" opacity="1"/>
</g>
<rect x="650.8" y="590.6" width="91.3" height="20.3" fill="none" stroke="#262626" stroke-width="1.3"/>
<text x="490.4" y="676.9" font-size="17" text-anchor="start" fill="#111" font-weight="bold">J</text>
<text x="530.8" y="705.9" font-size="12.4" text-anchor="middle" fill="#262626">Azelastine</text>
<text x="528.5" y="719.5" font-size="12.4" text-anchor="middle" fill="#262626">(μM)</text>
<text x="599.5" y="689.0" font-size="12.4" text-anchor="middle" fill="#262626">HT29</text>
<line x1="581.8" y1="692.2" x2="617.7" y2="692.2" stroke="#333" stroke-width="1.3"/>
<text x="692.2" y="689.1" font-size="12.4" text-anchor="middle" fill="#262626">DLD1</text>
<line x1="672.4" y1="692.0" x2="708.0" y2="692.0" stroke="#333" stroke-width="1.3"/>
<text x="599.0" y="705.9" font-size="12.4" text-anchor="middle" fill="#262626">MEK</text>
<text x="693.0" y="706.2" font-size="12.4" text-anchor="middle" fill="#262626">MEK</text>
<line x1="561.5" y1="709.7" x2="642.3" y2="709.7" stroke="#333" stroke-width="1.3"/>
<line x1="652.7" y1="709.4" x2="733.8" y2="709.4" stroke="#333" stroke-width="1.3"/>
<text x="572.4" y="722.8" font-size="12.4" text-anchor="middle" fill="#262626">0</text>
<text x="598.0" y="722.8" font-size="12.4" text-anchor="middle" fill="#262626">10</text>
<text x="621.3" y="722.8" font-size="12.4" text-anchor="middle" fill="#262626">20</text>
<text x="668.5" y="722.8" font-size="12.4" text-anchor="middle" fill="#262626">0</text>
<text x="693.5" y="722.8" font-size="12.4" text-anchor="middle" fill="#262626">10</text>
<text x="717.7" y="722.8" font-size="12.4" text-anchor="middle" fill="#262626">20</text>
<text x="552.3" y="742.0" font-size="12.4" text-anchor="end" fill="#262626">p-Drp1</text>
<text x="552.3" y="776.0" font-size="12.4" text-anchor="end" fill="#262626">Drp1</text>
<text x="552.3" y="810.5" font-size="12.4" text-anchor="end" fill="#262626">Actin</text>
<g clip-path="url(#cl23)">
<rect x="554.6" y="727.5" width="92.6" height="21.5" fill="#cfcfcf" stroke="none" stroke-width="1"/>
<rect x="554.6" y="727.5" width="92.6" height="21.5" fill="url(#g24)" stroke="none" stroke-width="1"/>
<ellipse cx="571.0" cy="739.0" rx="13.5" ry="3.0" fill="#1a1a1a" filter="url(#b1)" opacity="1"/>
<ellipse cx="597.5" cy="739.0" rx="12.5" ry="2.8" fill="#1e1e1e" filter="url(#b1)" opacity="1"/>
<ellipse cx="625.0" cy="738.5" rx="12.5" ry="3.0" fill="#1a1a1a" filter="url(#b1)" opacity="1"/>
</g>
<rect x="555.2" y="728.1" width="91.4" height="20.3" fill="none" stroke="#262626" stroke-width="1.3"/>
<g clip-path="url(#cl25)">
<rect x="649.8" y="727.5" width="92.9" height="21.5" fill="#dcdcdc" stroke="none" stroke-width="1"/>
<rect x="649.8" y="727.5" width="92.9" height="21.5" fill="url(#g26)" stroke="none" stroke-width="1"/>
<ellipse cx="666.0" cy="740.0" rx="10.5" ry="2.3" fill="#262626" filter="url(#b1)" opacity="1"/>
<ellipse cx="692.0" cy="739.5" rx="11.5" ry="2.6" fill="#222" filter="url(#b1)" opacity="1"/>
<ellipse cx="718.0" cy="739.5" rx="12.0" ry="3.0" fill="#1a1a1a" filter="url(#b1)" opacity="1"/>
</g>
<rect x="650.4" y="728.1" width="91.7" height="20.3" fill="none" stroke="#262626" stroke-width="1.3"/>
<text x="572.0" y="758.4" font-size="10.5" text-anchor="middle" fill="#333">1.0</text>
<text x="598.0" y="758.4" font-size="10.5" text-anchor="middle" fill="#333">0.9</text>
<text x="622.5" y="758.4" font-size="10.5" text-anchor="middle" fill="#333">0.9</text>
<text x="668.5" y="758.4" font-size="10.5" text-anchor="middle" fill="#333">1.0</text>
<text x="695.0" y="758.4" font-size="10.5" text-anchor="middle" fill="#333">1.1</text>
<text x="720.0" y="758.4" font-size="10.5" text-anchor="middle" fill="#333">1.3</text>
<g clip-path="url(#cl27)">
<rect x="554.6" y="761.2" width="92.6" height="21.6" fill="#cbcbcb" stroke="none" stroke-width="1"/>
<rect x="554.6" y="761.2" width="92.6" height="21.6" fill="url(#g28)" stroke="none" stroke-width="1"/>
<ellipse cx="570.0" cy="772.5" rx="12.0" ry="3.0" fill="#262626" filter="url(#b1)" opacity="1"/>
<ellipse cx="597.0" cy="772.0" rx="13.0" ry="2.8" fill="#222" filter="url(#b1)" opacity="1"/>
<ellipse cx="624.0" cy="772.5" rx="13.0" ry="3.0" fill="#222" filter="url(#b1)" opacity="1"/>
</g>
<rect x="555.2" y="761.8" width="91.4" height="20.4" fill="none" stroke="#262626" stroke-width="1.3"/>
<g clip-path="url(#cl29)">
<rect x="649.8" y="761.2" width="92.9" height="21.6" fill="#cacaca" stroke="none" stroke-width="1"/>
<rect x="649.8" y="761.2" width="92.9" height="21.6" fill="url(#g30)" stroke="none" stroke-width="1"/>
<ellipse cx="667.0" cy="771.5" rx="12.0" ry="1.4" fill="#1e1e1e" filter="url(#b06)" opacity="1"/>
<ellipse cx="692.0" cy="771.5" rx="12.0" ry="1.4" fill="#222" filter="url(#b06)" opacity="1"/>
<ellipse cx="718.0" cy="773.0" rx="13.0" ry="2.6" fill="#1a1a1a" filter="url(#b1)" opacity="1"/>
</g>
<rect x="650.4" y="761.8" width="91.7" height="20.4" fill="none" stroke="#262626" stroke-width="1.3"/>
<text x="570.0" y="793.0" font-size="10.5" text-anchor="middle" fill="#333">1.0</text>
<text x="597.0" y="793.0" font-size="10.5" text-anchor="middle" fill="#333">1.1</text>
<text x="622.0" y="793.0" font-size="10.5" text-anchor="middle" fill="#333">1.1</text>
<text x="668.0" y="793.0" font-size="10.5" text-anchor="middle" fill="#333">1.0</text>
<text x="695.0" y="793.0" font-size="10.5" text-anchor="middle" fill="#333">1.0</text>
<text x="721.0" y="793.0" font-size="10.5" text-anchor="middle" fill="#333">1.4</text>
<g clip-path="url(#cl31)">
<rect x="554.6" y="795.9" width="92.6" height="21.5" fill="#bdbdbd" stroke="none" stroke-width="1"/>
<rect x="554.6" y="795.9" width="92.6" height="21.5" fill="url(#g32)" stroke="none" stroke-width="1"/>
<ellipse cx="570.0" cy="806.5" rx="13.0" ry="2.8" fill="#1e1e1e" filter="url(#b1)" opacity="1"/>
<ellipse cx="597.0" cy="806.5" rx="12.0" ry="2.6" fill="#1e1e1e" filter="url(#b1)" opacity="1"/>
<ellipse cx="623.0" cy="806.0" rx="12.0" ry="2.6" fill="#222" filter="url(#b1)" opacity="1"/>
</g>
<rect x="555.2" y="796.5" width="91.4" height="20.3" fill="none" stroke="#262626" stroke-width="1.3"/>
<g clip-path="url(#cl33)">
<rect x="649.8" y="795.9" width="92.9" height="21.5" fill="#dadada" stroke="none" stroke-width="1"/>
<rect x="649.8" y="795.9" width="92.9" height="21.5" fill="url(#g34)" stroke="none" stroke-width="1"/>
<ellipse cx="668.0" cy="806.5" rx="17.0" ry="5.0" fill="#141414" filter="url(#b1)" opacity="1"/>
<ellipse cx="695.0" cy="806.5" rx="15.0" ry="4.5" fill="#1a1a1a" filter="url(#b1)" opacity="1"/>
<ellipse cx="722.0" cy="806.0" rx="15.0" ry="4.2" fill="#1a1a1a" filter="url(#b1)" opacity="1"/>
</g>
<rect x="650.4" y="796.5" width="91.7" height="20.3" fill="none" stroke="#262626" stroke-width="1.3"/>
<line x1="351.4" y1="273.8" x2="478.4" y2="273.8" stroke="#2a2a2a" stroke-width="1.3"/>
<line x1="351.4" y1="189.1" x2="351.4" y2="274.4" stroke="#2a2a2a" stroke-width="1.3"/>
<line x1="348.4" y1="189.1" x2="351.4" y2="189.1" stroke="#2a2a2a" stroke-width="1.3"/>
<text x="347.4" y="193.4" font-size="12" text-anchor="end" fill="#262626">10</text>
<line x1="348.4" y1="206.9" x2="351.4" y2="206.9" stroke="#2a2a2a" stroke-width="1.3"/>
<text x="347.4" y="211.2" font-size="12" text-anchor="end" fill="#262626">8</text>
<line x1="348.4" y1="223.7" x2="351.4" y2="223.7" stroke="#2a2a2a" stroke-width="1.3"/>
<text x="347.4" y="228.0" font-size="12" text-anchor="end" fill="#262626">6</text>
<line x1="348.4" y1="240.3" x2="351.4" y2="240.3" stroke="#2a2a2a" stroke-width="1.3"/>
<text x="347.4" y="244.6" font-size="12" text-anchor="end" fill="#262626">4</text>
<line x1="348.4" y1="257.4" x2="351.4" y2="257.4" stroke="#2a2a2a" stroke-width="1.3"/>
<text x="347.4" y="261.7" font-size="12" text-anchor="end" fill="#262626">2</text>
<line x1="348.4" y1="273.8" x2="351.4" y2="273.8" stroke="#2a2a2a" stroke-width="1.3"/>
<text x="347.4" y="278.1" font-size="12" text-anchor="end" fill="#262626">0</text>
<line x1="373.1" y1="217.1" x2="373.1" y2="204.6" stroke="#2a2a2a" stroke-width="1.3"/>
<line x1="366.4" y1="204.6" x2="379.8" y2="204.6" stroke="#2a2a2a" stroke-width="1.3"/>
<rect x="359.1" y="217.1" width="27.9" height="56.7" fill="#ffffff" stroke="#2a2a2a" stroke-width="1.3"/>
<line x1="373.1" y1="273.8" x2="373.1" y2="276.8" stroke="#2a2a2a" stroke-width="1.3"/>
<line x1="415.2" y1="264.9" x2="415.2" y2="252.8" stroke="#2a2a2a" stroke-width="1.3"/>
<line x1="408.7" y1="252.8" x2="421.8" y2="252.8" stroke="#2a2a2a" stroke-width="1.3"/>
<rect x="401.6" y="264.9" width="27.2" height="8.9" fill="#8e8e8e" stroke="#2a2a2a" stroke-width="1.3"/>
<line x1="415.2" y1="273.8" x2="415.2" y2="276.8" stroke="#2a2a2a" stroke-width="1.3"/>
<text x="415.2" y="255.0" font-size="12" text-anchor="middle" fill="#262626">*</text>
<line x1="457.1" y1="263.7" x2="457.1" y2="250.5" stroke="#2a2a2a" stroke-width="1.3"/>
<line x1="450.5" y1="250.5" x2="463.8" y2="250.5" stroke="#2a2a2a" stroke-width="1.3"/>
<rect x="443.3" y="263.7" width="27.6" height="10.1" fill="#2e2e2e" stroke="#2a2a2a" stroke-width="1.3"/>
<line x1="457.1" y1="273.8" x2="457.1" y2="276.8" stroke="#2a2a2a" stroke-width="1.3"/>
<text x="457.1" y="252.7" font-size="12" text-anchor="middle" fill="#262626">*</text>
<text x="372.8" y="289.9" font-size="12.4" text-anchor="middle" fill="#262626">0</text>
<text x="414.2" y="289.9" font-size="12.4" text-anchor="middle" fill="#262626">10</text>
<text x="455.3" y="289.9" font-size="12.4" text-anchor="middle" fill="#262626">20</text>
<text x="420.2" y="301.0" font-size="12.1" text-anchor="middle" fill="#262626">Azelastine (μM)</text>
<text x="0" y="0" font-size="12.4" text-anchor="middle" fill="#262626" transform="translate(328.2,229.3) rotate(-90)">Ratio of red/green</text>
<line x1="349.5" y1="390.1" x2="478.4" y2="390.1" stroke="#2a2a2a" stroke-width="1.3"/>
<line x1="349.5" y1="305.5" x2="349.5" y2="390.8" stroke="#2a2a2a" stroke-width="1.3"/>
<line x1="346.5" y1="305.5" x2="349.5" y2="305.5" stroke="#2a2a2a" stroke-width="1.3"/>
<text x="345.5" y="309.8" font-size="12" text-anchor="end" fill="#262626">40</text>
<line x1="346.5" y1="327.1" x2="349.5" y2="327.1" stroke="#2a2a2a" stroke-width="1.3"/>
<text x="345.5" y="331.4" font-size="12" text-anchor="end" fill="#262626">30</text>
<line x1="346.5" y1="348.5" x2="349.5" y2="348.5" stroke="#2a2a2a" stroke-width="1.3"/>
<text x="345.5" y="352.8" font-size="12" text-anchor="end" fill="#262626">20</text>
<line x1="346.5" y1="369.7" x2="349.5" y2="369.7" stroke="#2a2a2a" stroke-width="1.3"/>
<text x="345.5" y="374.0" font-size="12" text-anchor="end" fill="#262626">10</text>
<line x1="346.5" y1="390.1" x2="349.5" y2="390.1" stroke="#2a2a2a" stroke-width="1.3"/>
<text x="345.5" y="394.4" font-size="12" text-anchor="end" fill="#262626">0</text>
<line x1="371.1" y1="338.9" x2="371.1" y2="323.5" stroke="#2a2a2a" stroke-width="1.3"/>
<line x1="364.5" y1="323.5" x2="377.8" y2="323.5" stroke="#2a2a2a" stroke-width="1.3"/>
<rect x="357.2" y="338.9" width="27.8" height="51.2" fill="#ffffff" stroke="#2a2a2a" stroke-width="1.3"/>
<line x1="371.1" y1="390.1" x2="371.1" y2="393.1" stroke="#2a2a2a" stroke-width="1.3"/>
<line x1="413.4" y1="379.4" x2="413.4" y2="374.9" stroke="#2a2a2a" stroke-width="1.3"/>
<line x1="406.7" y1="374.9" x2="420.0" y2="374.9" stroke="#2a2a2a" stroke-width="1.3"/>
<rect x="399.4" y="379.4" width="27.8" height="10.7" fill="#8e8e8e" stroke="#2a2a2a" stroke-width="1.3"/>
<line x1="413.4" y1="390.1" x2="413.4" y2="393.1" stroke="#2a2a2a" stroke-width="1.3"/>
<text x="413.4" y="377.2" font-size="12" text-anchor="middle" fill="#262626">*</text>
<line x1="456.5" y1="383.3" x2="456.5" y2="378.8" stroke="#2a2a2a" stroke-width="1.3"/>
<line x1="449.8" y1="378.8" x2="463.2" y2="378.8" stroke="#2a2a2a" stroke-width="1.3"/>
<rect x="442.6" y="383.3" width="27.7" height="6.8" fill="#2e2e2e" stroke="#2a2a2a" stroke-width="1.3"/>
<line x1="456.5" y1="390.1" x2="456.5" y2="393.1" stroke="#2a2a2a" stroke-width="1.3"/>
<text x="456.5" y="381.2" font-size="12" text-anchor="middle" fill="#262626">*</text>
<text x="371.2" y="405.4" font-size="12.4" text-anchor="middle" fill="#262626">0</text>
<text x="413.4" y="405.4" font-size="12.4" text-anchor="middle" fill="#262626">10</text>
<text x="455.0" y="405.4" font-size="12.4" text-anchor="middle" fill="#262626">20</text>
<text x="415.5" y="415.3" font-size="12.1" text-anchor="middle" fill="#262626">Azelastine (μM)</text>
<text x="0" y="0" font-size="12.4" text-anchor="middle" fill="#262626" transform="translate(327.4,343.4) rotate(-90)">Ratio of red/green</text>
<line x1="352.1" y1="525.4" x2="479.5" y2="525.4" stroke="#2a2a2a" stroke-width="1.3"/>
<line x1="352.1" y1="438.2" x2="352.1" y2="526.0" stroke="#2a2a2a" stroke-width="1.3"/>
<line x1="349.1" y1="438.2" x2="352.1" y2="438.2" stroke="#2a2a2a" stroke-width="1.3"/>
<text x="348.1" y="442.5" font-size="12" text-anchor="end" fill="#262626">5</text>
<line x1="349.1" y1="455.7" x2="352.1" y2="455.7" stroke="#2a2a2a" stroke-width="1.3"/>
<text x="348.1" y="460.0" font-size="12" text-anchor="end" fill="#262626">4</text>
<line x1="349.1" y1="473.0" x2="352.1" y2="473.0" stroke="#2a2a2a" stroke-width="1.3"/>
<text x="348.1" y="477.3" font-size="12" text-anchor="end" fill="#262626">3</text>
<line x1="349.1" y1="490.5" x2="352.1" y2="490.5" stroke="#2a2a2a" stroke-width="1.3"/>
<text x="348.1" y="494.8" font-size="12" text-anchor="end" fill="#262626">2</text>
<line x1="349.1" y1="508.0" x2="352.1" y2="508.0" stroke="#2a2a2a" stroke-width="1.3"/>
<text x="348.1" y="512.3" font-size="12" text-anchor="end" fill="#262626">1</text>
<line x1="349.1" y1="525.4" x2="352.1" y2="525.4" stroke="#2a2a2a" stroke-width="1.3"/>
<text x="348.1" y="529.7" font-size="12" text-anchor="end" fill="#262626">0</text>
<line x1="378.1" y1="499.7" x2="378.1" y2="495.6" stroke="#2a2a2a" stroke-width="1.3"/>
<line x1="371.9" y1="495.6" x2="384.2" y2="495.6" stroke="#2a2a2a" stroke-width="1.3"/>
<rect x="365.2" y="499.7" width="25.6" height="25.7" fill="#ffffff" stroke="#2a2a2a" stroke-width="1.3"/>
<line x1="378.1" y1="525.4" x2="378.1" y2="528.4" stroke="#2a2a2a" stroke-width="1.3"/>
<line x1="417.3" y1="469.6" x2="417.3" y2="456.4" stroke="#2a2a2a" stroke-width="1.3"/>
<line x1="411.2" y1="456.4" x2="423.4" y2="456.4" stroke="#2a2a2a" stroke-width="1.3"/>
<rect x="404.6" y="469.6" width="25.3" height="55.8" fill="#8e8e8e" stroke="#2a2a2a" stroke-width="1.3"/>
<line x1="417.3" y1="525.4" x2="417.3" y2="528.4" stroke="#2a2a2a" stroke-width="1.3"/>
<text x="417.3" y="458.7" font-size="12" text-anchor="middle" fill="#262626">*</text>
<line x1="456.8" y1="479.2" x2="456.8" y2="467.8" stroke="#2a2a2a" stroke-width="1.3"/>
<line x1="450.5" y1="467.8" x2="463.0" y2="467.8" stroke="#2a2a2a" stroke-width="1.3"/>
<rect x="443.8" y="479.2" width="26.0" height="46.2" fill="#2e2e2e" stroke="#2a2a2a" stroke-width="1.3"/>
<line x1="456.8" y1="525.4" x2="456.8" y2="528.4" stroke="#2a2a2a" stroke-width="1.3"/>
<text x="456.8" y="470.2" font-size="12" text-anchor="middle" fill="#262626">*</text>
<text x="378.0" y="539.2" font-size="12.4" text-anchor="middle" fill="#262626">0</text>
<text x="417.3" y="539.2" font-size="12.4" text-anchor="middle" fill="#262626">10</text>
<text x="456.7" y="539.2" font-size="12.4" text-anchor="middle" fill="#262626">20</text>
<text x="419.5" y="551.0" font-size="12.1" text-anchor="middle" fill="#262626">Azelastine (μM)</text>
<text x="0" y="0" font-size="12.4" text-anchor="middle" fill="#262626" transform="translate(321.8,476.8) rotate(-90)">Ratio of mitochondrial</text>
<text x="0" y="0" font-size="12.4" text-anchor="middle" fill="#262626" transform="translate(334.5,480.3) rotate(-90)">length to width</text>
<line x1="353.2" y1="646.7" x2="480.0" y2="646.7" stroke="#2a2a2a" stroke-width="1.3"/>
<line x1="353.2" y1="559.6" x2="353.2" y2="647.4" stroke="#2a2a2a" stroke-width="1.3"/>
<line x1="350.2" y1="559.6" x2="353.2" y2="559.6" stroke="#2a2a2a" stroke-width="1.3"/>
<text x="349.2" y="563.9" font-size="12" text-anchor="end" fill="#262626">15</text>
<line x1="350.2" y1="588.5" x2="353.2" y2="588.5" stroke="#2a2a2a" stroke-width="1.3"/>
<text x="349.2" y="592.8" font-size="12" text-anchor="end" fill="#262626">10</text>
<line x1="350.2" y1="617.6" x2="353.2" y2="617.6" stroke="#2a2a2a" stroke-width="1.3"/>
<text x="349.2" y="621.9" font-size="12" text-anchor="end" fill="#262626">5</text>
<line x1="350.2" y1="646.7" x2="353.2" y2="646.7" stroke="#2a2a2a" stroke-width="1.3"/>
<text x="349.2" y="651.0" font-size="12" text-anchor="end" fill="#262626">0</text>
<line x1="380.3" y1="638.1" x2="380.3" y2="636.5" stroke="#2a2a2a" stroke-width="1.3"/>
<line x1="374.1" y1="636.5" x2="386.5" y2="636.5" stroke="#2a2a2a" stroke-width="1.3"/>
<rect x="367.5" y="638.1" width="25.5" height="8.6" fill="#ffffff" stroke="#2a2a2a" stroke-width="1.3"/>
<line x1="380.3" y1="646.7" x2="380.3" y2="649.7" stroke="#2a2a2a" stroke-width="1.3"/>
<line x1="419.4" y1="628.4" x2="419.4" y2="621.4" stroke="#2a2a2a" stroke-width="1.3"/>
<line x1="413.2" y1="621.4" x2="425.6" y2="621.4" stroke="#2a2a2a" stroke-width="1.3"/>
<rect x="406.6" y="628.4" width="25.5" height="18.3" fill="#8e8e8e" stroke="#2a2a2a" stroke-width="1.3"/>
<line x1="419.4" y1="646.7" x2="419.4" y2="649.7" stroke="#2a2a2a" stroke-width="1.3"/>
<text x="419.4" y="623.9" font-size="12" text-anchor="middle" fill="#262626">*</text>
<line x1="459.4" y1="588.7" x2="459.4" y2="565.7" stroke="#2a2a2a" stroke-width="1.3"/>
<line x1="453.3" y1="565.7" x2="465.5" y2="565.7" stroke="#2a2a2a" stroke-width="1.3"/>
<rect x="446.8" y="588.7" width="25.3" height="58.0" fill="#2e2e2e" stroke="#2a2a2a" stroke-width="1.3"/>
<line x1="459.4" y1="646.7" x2="459.4" y2="649.7" stroke="#2a2a2a" stroke-width="1.3"/>
<text x="459.4" y="568.2" font-size="12" text-anchor="middle" fill="#262626">**</text>
<text x="380.0" y="659.2" font-size="12.4" text-anchor="middle" fill="#262626">0</text>
<text x="419.4" y="659.2" font-size="12.4" text-anchor="middle" fill="#262626">10</text>
<text x="458.8" y="659.2" font-size="12.4" text-anchor="middle" fill="#262626">20</text>
<text x="423.0" y="669.2" font-size="12.1" text-anchor="middle" fill="#262626">Azelastine (μM)</text>
<text x="0" y="0" font-size="12.4" text-anchor="middle" fill="#262626" transform="translate(321.8,607.5) rotate(-90)">Ratio of mitochondrial</text>
<text x="0" y="0" font-size="12.4" text-anchor="middle" fill="#262626" transform="translate(334.5,609.5) rotate(-90)">length to width</text>
<text x="6.8" y="676.9" font-size="17" text-anchor="start" fill="#111" font-weight="bold">H</text>
<line x1="80.4" y1="796.6" x2="243.0" y2="796.6" stroke="#2a2a2a" stroke-width="1.3"/>
<line x1="80.4" y1="687.8" x2="80.4" y2="797.2" stroke="#2a2a2a" stroke-width="1.3"/>
<line x1="77.4" y1="687.8" x2="80.4" y2="687.8" stroke="#2a2a2a" stroke-width="1.3"/>
<text x="76.4" y="692.1" font-size="12" text-anchor="end" fill="#262626">1.5</text>
<line x1="77.4" y1="724.4" x2="80.4" y2="724.4" stroke="#2a2a2a" stroke-width="1.3"/>
<text x="76.4" y="728.7" font-size="12" text-anchor="end" fill="#262626">1.0</text>
<line x1="77.4" y1="760.6" x2="80.4" y2="760.6" stroke="#2a2a2a" stroke-width="1.3"/>
<text x="76.4" y="764.9" font-size="12" text-anchor="end" fill="#262626">0.5</text>
<line x1="77.4" y1="796.6" x2="80.4" y2="796.6" stroke="#2a2a2a" stroke-width="1.3"/>
<text x="76.4" y="800.9" font-size="12" text-anchor="end" fill="#262626">0.0</text>
<line x1="101.2" y1="724.4" x2="101.2" y2="723.4" stroke="#2a2a2a" stroke-width="1.3"/>
<line x1="94.8" y1="723.4" x2="107.5" y2="723.4" stroke="#2a2a2a" stroke-width="1.3"/>
<rect x="88.1" y="724.4" width="26.2" height="72.2" fill="#ffffff" stroke="#2a2a2a" stroke-width="1.3"/>
<line x1="101.2" y1="796.6" x2="101.2" y2="799.6" stroke="#2a2a2a" stroke-width="1.3"/>
<line x1="141.8" y1="779.6" x2="141.8" y2="776.8" stroke="#2a2a2a" stroke-width="1.3"/>
<line x1="135.3" y1="776.8" x2="148.2" y2="776.8" stroke="#2a2a2a" stroke-width="1.3"/>
<rect x="128.4" y="779.6" width="26.6" height="17.0" fill="#2e2e2e" stroke="#2a2a2a" stroke-width="1.3"/>
<line x1="141.8" y1="796.6" x2="141.8" y2="799.6" stroke="#2a2a2a" stroke-width="1.3"/>
<line x1="182.2" y1="722.2" x2="182.2" y2="717.9" stroke="#2a2a2a" stroke-width="1.3"/>
<line x1="175.9" y1="717.9" x2="188.6" y2="717.9" stroke="#2a2a2a" stroke-width="1.3"/>
<rect x="169.2" y="722.2" width="26.2" height="74.4" fill="#ffffff" stroke="#2a2a2a" stroke-width="1.3"/>
<line x1="182.2" y1="796.6" x2="182.2" y2="799.6" stroke="#2a2a2a" stroke-width="1.3"/>
<line x1="222.9" y1="764.0" x2="222.9" y2="761.4" stroke="#2a2a2a" stroke-width="1.3"/>
<line x1="216.6" y1="761.4" x2="229.2" y2="761.4" stroke="#2a2a2a" stroke-width="1.3"/>
<rect x="209.8" y="764.0" width="26.1" height="32.6" fill="#2e2e2e" stroke="#2a2a2a" stroke-width="1.3"/>
<line x1="222.9" y1="796.6" x2="222.9" y2="799.6" stroke="#2a2a2a" stroke-width="1.3"/>
<text x="145.0" y="694.6" font-size="12.2" text-anchor="middle" fill="#262626">HT29</text>
<line x1="141.1" y1="706.1" x2="222.5" y2="706.1" stroke="#333" stroke-width="1.2"/>
<line x1="141.1" y1="705.5" x2="141.1" y2="712.6" stroke="#333" stroke-width="1.2"/>
<line x1="222.5" y1="705.5" x2="222.5" y2="712.6" stroke="#333" stroke-width="1.2"/>
<text x="181.8" y="708.6" font-size="12" text-anchor="middle" fill="#262626">*</text>
<text x="5.6" y="812.5" font-size="12.2" text-anchor="start" fill="#262626">Azelastine (μM)</text>
<text x="100.6" y="812.5" font-size="12.2" text-anchor="middle" fill="#262626">0</text>
<text x="141.1" y="812.5" font-size="12.2" text-anchor="middle" fill="#262626">40</text>
<text x="181.8" y="812.5" font-size="12.2" text-anchor="middle" fill="#262626">0</text>
<text x="222.5" y="812.5" font-size="12.2" text-anchor="middle" fill="#262626">40</text>
<text x="57.0" y="829.4" font-size="12.2" text-anchor="start" fill="#262626">MEK</text>
<text x="99.4" y="829.4" font-size="12.2" text-anchor="middle" fill="#262626">–</text>
<text x="141.1" y="829.4" font-size="12.2" text-anchor="middle" fill="#262626">–</text>
<text x="181.5" y="829.4" font-size="12.2" text-anchor="middle" fill="#262626">+</text>
<text x="222.5" y="829.4" font-size="12.2" text-anchor="middle" fill="#262626">+</text>
<text x="0" y="0" font-size="12.4" text-anchor="middle" fill="#262626" transform="translate(38.0,742.0) rotate(-90)">Relative cell viability</text>
<text x="0" y="0" font-size="12.4" text-anchor="middle" fill="#262626" transform="translate(53.0,742.0) rotate(-90)">(fold change)</text>
<line x1="326.0" y1="793.8" x2="479.3" y2="793.8" stroke="#2a2a2a" stroke-width="1.3"/>
<line x1="326.0" y1="691.8" x2="326.0" y2="794.4" stroke="#2a2a2a" stroke-width="1.3"/>
<line x1="323.0" y1="691.8" x2="326.0" y2="691.8" stroke="#2a2a2a" stroke-width="1.3"/>
<text x="322.0" y="696.1" font-size="12" text-anchor="end" fill="#262626">1.5</text>
<line x1="323.0" y1="725.2" x2="326.0" y2="725.2" stroke="#2a2a2a" stroke-width="1.3"/>
<text x="322.0" y="729.5" font-size="12" text-anchor="end" fill="#262626">1.0</text>
<line x1="323.0" y1="759.7" x2="326.0" y2="759.7" stroke="#2a2a2a" stroke-width="1.3"/>
<text x="322.0" y="764.0" font-size="12" text-anchor="end" fill="#262626">0.5</text>
<line x1="323.0" y1="793.8" x2="326.0" y2="793.8" stroke="#2a2a2a" stroke-width="1.3"/>
<text x="322.0" y="798.1" font-size="12" text-anchor="end" fill="#262626">0.0</text>
<line x1="345.4" y1="730.2" x2="345.4" y2="721.2" stroke="#2a2a2a" stroke-width="1.3"/>
<line x1="339.2" y1="721.2" x2="351.6" y2="721.2" stroke="#2a2a2a" stroke-width="1.3"/>
<rect x="332.6" y="730.2" width="25.5" height="63.6" fill="#ffffff" stroke="#2a2a2a" stroke-width="1.3"/>
<line x1="345.4" y1="793.8" x2="345.4" y2="796.8" stroke="#2a2a2a" stroke-width="1.3"/>
<line x1="383.6" y1="769.7" x2="383.6" y2="763.7" stroke="#2a2a2a" stroke-width="1.3"/>
<line x1="377.6" y1="763.7" x2="389.7" y2="763.7" stroke="#2a2a2a" stroke-width="1.3"/>
<rect x="371.2" y="769.7" width="24.8" height="24.1" fill="#2e2e2e" stroke="#2a2a2a" stroke-width="1.3"/>
<line x1="383.6" y1="793.8" x2="383.6" y2="796.8" stroke="#2a2a2a" stroke-width="1.3"/>
<line x1="422.4" y1="720.9" x2="422.4" y2="712.8" stroke="#2a2a2a" stroke-width="1.3"/>
<line x1="416.6" y1="712.8" x2="428.3" y2="712.8" stroke="#2a2a2a" stroke-width="1.3"/>
<rect x="410.3" y="720.9" width="24.2" height="72.9" fill="#ffffff" stroke="#2a2a2a" stroke-width="1.3"/>
<line x1="422.4" y1="793.8" x2="422.4" y2="796.8" stroke="#2a2a2a" stroke-width="1.3"/>
<line x1="460.6" y1="752.0" x2="460.6" y2="743.0" stroke="#2a2a2a" stroke-width="1.3"/>
<line x1="454.5" y1="743.0" x2="466.6" y2="743.0" stroke="#2a2a2a" stroke-width="1.3"/>
<rect x="448.1" y="752.0" width="24.8" height="41.8" fill="#2e2e2e" stroke="#2a2a2a" stroke-width="1.3"/>
<line x1="460.6" y1="793.8" x2="460.6" y2="796.8" stroke="#2a2a2a" stroke-width="1.3"/>
<text x="395.2" y="692.8" font-size="12.2" text-anchor="middle" fill="#262626">DLD1</text>
<line x1="380.6" y1="706.8" x2="461.6" y2="706.8" stroke="#333" stroke-width="1.2"/>
<line x1="380.6" y1="706.2" x2="380.6" y2="711.8" stroke="#333" stroke-width="1.2"/>
<line x1="461.6" y1="706.2" x2="461.6" y2="711.8" stroke="#333" stroke-width="1.2"/>
<text x="421.8" y="709.0" font-size="12" text-anchor="middle" fill="#262626">*</text>
<text x="251.1" y="810.2" font-size="12.6" text-anchor="start" fill="#262626">Azelastine (μM)</text>
<text x="345.5" y="809.9" font-size="12.2" text-anchor="middle" fill="#262626">0</text>
<text x="383.3" y="809.9" font-size="12.2" text-anchor="middle" fill="#262626">40</text>
<text x="421.8" y="809.9" font-size="12.2" text-anchor="middle" fill="#262626">0</text>
<text x="461.6" y="809.9" font-size="12.2" text-anchor="middle" fill="#262626">40</text>
<text x="305.3" y="829.0" font-size="12.2" text-anchor="start" fill="#262626">MEK</text>
<text x="345.5" y="829.0" font-size="12.2" text-anchor="middle" fill="#262626">–</text>
<text x="383.3" y="829.0" font-size="12.2" text-anchor="middle" fill="#262626">–</text>
<text x="421.8" y="829.0" font-size="12.2" text-anchor="middle" fill="#262626">+</text>
<text x="461.6" y="829.0" font-size="12.2" text-anchor="middle" fill="#262626">+</text>
<text x="0" y="0" font-size="12.4" text-anchor="middle" fill="#262626" transform="translate(282.5,741.0) rotate(-90)">Relative cell viability</text>
<text x="0" y="0" font-size="12.4" text-anchor="middle" fill="#262626" transform="translate(297.0,741.0) rotate(-90)">(fold change)</text>
<line x1="364.4" y1="978.1" x2="486.8" y2="978.1" stroke="#2a2a2a" stroke-width="1.2"/>
<line x1="364.4" y1="894.7" x2="364.4" y2="978.7" stroke="#2a2a2a" stroke-width="1.2"/>
<line x1="361.9" y1="894.7" x2="364.4" y2="894.7" stroke="#2a2a2a" stroke-width="1.2"/>
<text x="360.9" y="898.8" font-size="11.3" text-anchor="end" fill="#262626">4</text>
<line x1="361.9" y1="915.8" x2="364.4" y2="915.8" stroke="#2a2a2a" stroke-width="1.2"/>
<text x="360.9" y="919.9" font-size="11.3" text-anchor="end" fill="#262626">3</text>
<line x1="361.9" y1="936.6" x2="364.4" y2="936.6" stroke="#2a2a2a" stroke-width="1.2"/>
<text x="360.9" y="940.7" font-size="11.3" text-anchor="end" fill="#262626">2</text>
<line x1="361.9" y1="957.7" x2="364.4" y2="957.7" stroke="#2a2a2a" stroke-width="1.2"/>
<text x="360.9" y="961.8" font-size="11.3" text-anchor="end" fill="#262626">1</text>
<line x1="361.9" y1="978.1" x2="364.4" y2="978.1" stroke="#2a2a2a" stroke-width="1.2"/>
<text x="360.9" y="982.2" font-size="11.3" text-anchor="end" fill="#262626">0</text>
<line x1="389.4" y1="936.6" x2="389.4" y2="920.4" stroke="#2a2a2a" stroke-width="1.2"/>
<line x1="383.5" y1="920.4" x2="395.2" y2="920.4" stroke="#2a2a2a" stroke-width="1.2"/>
<rect x="377.2" y="936.6" width="24.3" height="41.5" fill="#ffffff" stroke="#2a2a2a" stroke-width="1.2"/>
<line x1="389.4" y1="978.1" x2="389.4" y2="980.6" stroke="#2a2a2a" stroke-width="1.2"/>
<line x1="427.2" y1="929.3" x2="427.2" y2="911.5" stroke="#2a2a2a" stroke-width="1.2"/>
<line x1="421.3" y1="911.5" x2="433.2" y2="911.5" stroke="#2a2a2a" stroke-width="1.2"/>
<rect x="414.9" y="929.3" width="24.7" height="48.8" fill="#8e8e8e" stroke="#2a2a2a" stroke-width="1.2"/>
<line x1="427.2" y1="978.1" x2="427.2" y2="980.6" stroke="#2a2a2a" stroke-width="1.2"/>
<line x1="464.9" y1="950.1" x2="464.9" y2="945.8" stroke="#2a2a2a" stroke-width="1.2"/>
<line x1="458.9" y1="945.8" x2="470.9" y2="945.8" stroke="#2a2a2a" stroke-width="1.2"/>
<rect x="452.5" y="950.1" width="24.8" height="28.0" fill="#2e2e2e" stroke="#2a2a2a" stroke-width="1.2"/>
<line x1="464.9" y1="978.1" x2="464.9" y2="980.6" stroke="#2a2a2a" stroke-width="1.2"/>
<text x="425.7" y="892.4" font-size="12.4" text-anchor="middle" fill="#262626">HT29</text>
<text x="427.2" y="907.6" font-size="11" text-anchor="middle" fill="#262626">ns</text>
<text x="465.0" y="943.8" font-size="11" text-anchor="middle" fill="#262626">ns</text>
<text x="389.3" y="990.8" font-size="11.5" text-anchor="middle" fill="#262626">0</text>
<text x="427.2" y="990.8" font-size="11.5" text-anchor="middle" fill="#262626">10</text>
<text x="464.9" y="990.8" font-size="11.5" text-anchor="middle" fill="#262626">20</text>
<line x1="386.3" y1="992.8" x2="474.0" y2="992.8" stroke="#333" stroke-width="1.1"/>
<text x="431.0" y="1004.0" font-size="12" text-anchor="middle" fill="#262626">Azelastine (μM)</text>
<line x1="404.1" y1="1009.4" x2="458.0" y2="1009.4" stroke="#333" stroke-width="1.1"/>
<text x="428.5" y="1022.6" font-size="12.5" text-anchor="middle" fill="#262626">MEK</text>
<text x="0" y="0" font-size="12.4" text-anchor="middle" fill="#262626" transform="translate(330.9,939.7) rotate(-90)">Ratio of mitochondrial</text>
<text x="0" y="0" font-size="12.4" text-anchor="middle" fill="#262626" transform="translate(346.4,942.8) rotate(-90)">length to width</text>
<line x1="531.9" y1="979.4" x2="662.3" y2="979.4" stroke="#2a2a2a" stroke-width="1.2"/>
<line x1="531.9" y1="892.9" x2="531.9" y2="980.0" stroke="#2a2a2a" stroke-width="1.2"/>
<line x1="529.4" y1="892.9" x2="531.9" y2="892.9" stroke="#2a2a2a" stroke-width="1.2"/>
<text x="528.4" y="897.0" font-size="11.3" text-anchor="end" fill="#262626">4</text>
<line x1="529.4" y1="914.5" x2="531.9" y2="914.5" stroke="#2a2a2a" stroke-width="1.2"/>
<text x="528.4" y="918.6" font-size="11.3" text-anchor="end" fill="#262626">3</text>
<line x1="529.4" y1="936.1" x2="531.9" y2="936.1" stroke="#2a2a2a" stroke-width="1.2"/>
<text x="528.4" y="940.2" font-size="11.3" text-anchor="end" fill="#262626">2</text>
<line x1="529.4" y1="957.7" x2="531.9" y2="957.7" stroke="#2a2a2a" stroke-width="1.2"/>
<text x="528.4" y="961.8" font-size="11.3" text-anchor="end" fill="#262626">1</text>
<line x1="529.4" y1="979.4" x2="531.9" y2="979.4" stroke="#2a2a2a" stroke-width="1.2"/>
<text x="528.4" y="983.5" font-size="11.3" text-anchor="end" fill="#262626">0</text>
<line x1="558.6" y1="933.1" x2="558.6" y2="916.5" stroke="#2a2a2a" stroke-width="1.2"/>
<line x1="552.5" y1="916.5" x2="564.8" y2="916.5" stroke="#2a2a2a" stroke-width="1.2"/>
<rect x="545.9" y="933.1" width="25.5" height="46.3" fill="#ffffff" stroke="#2a2a2a" stroke-width="1.2"/>
<line x1="558.6" y1="979.4" x2="558.6" y2="981.9" stroke="#2a2a2a" stroke-width="1.2"/>
<line x1="597.2" y1="947.6" x2="597.2" y2="943.2" stroke="#2a2a2a" stroke-width="1.2"/>
<line x1="591.1" y1="943.2" x2="603.4" y2="943.2" stroke="#2a2a2a" stroke-width="1.2"/>
<rect x="584.5" y="947.6" width="25.5" height="31.8" fill="#8e8e8e" stroke="#2a2a2a" stroke-width="1.2"/>
<line x1="597.2" y1="979.4" x2="597.2" y2="981.9" stroke="#2a2a2a" stroke-width="1.2"/>
<line x1="636.4" y1="938.2" x2="636.4" y2="919.1" stroke="#2a2a2a" stroke-width="1.2"/>
<line x1="630.4" y1="919.1" x2="642.4" y2="919.1" stroke="#2a2a2a" stroke-width="1.2"/>
<rect x="623.9" y="938.2" width="25.0" height="41.2" fill="#2e2e2e" stroke="#2a2a2a" stroke-width="1.2"/>
<line x1="636.4" y1="979.4" x2="636.4" y2="981.9" stroke="#2a2a2a" stroke-width="1.2"/>
<text x="600.4" y="891.6" font-size="12.4" text-anchor="middle" fill="#262626">DLD1</text>
<text x="597.3" y="941.2" font-size="11" text-anchor="middle" fill="#262626">ns</text>
<text x="636.4" y="915.8" font-size="11" text-anchor="middle" fill="#262626">ns</text>
<text x="558.5" y="992.6" font-size="11.5" text-anchor="middle" fill="#262626">0</text>
<text x="597.4" y="992.6" font-size="11.5" text-anchor="middle" fill="#262626">10</text>
<text x="636.0" y="992.6" font-size="11.5" text-anchor="middle" fill="#262626">20</text>
<line x1="558.0" y1="995.4" x2="638.6" y2="995.4" stroke="#333" stroke-width="1.1"/>
<text x="601.7" y="1006.0" font-size="12" text-anchor="middle" fill="#262626">Azelastine (μM)</text>
<line x1="573.8" y1="1012.4" x2="627.2" y2="1012.4" stroke="#333" stroke-width="1.1"/>
<text x="599.2" y="1025.6" font-size="12.5" text-anchor="middle" fill="#262626">MEK</text>
<text x="0" y="0" font-size="12.4" text-anchor="middle" fill="#262626" transform="translate(500.1,936.3) rotate(-90)">Ratio of mitochondrial</text>
<text x="0" y="0" font-size="12.4" text-anchor="middle" fill="#262626" transform="translate(515.6,939.4) rotate(-90)">length to width</text>
<text x="6.8" y="203.0" font-size="17" text-anchor="start" fill="#111" font-weight="bold">C</text>
<text x="174.5" y="212.6" font-size="12.8" text-anchor="middle" fill="#262626">Azelastine (μM)</text>
<line x1="77.1" y1="217.2" x2="291.0" y2="217.2" stroke="#333" stroke-width="1.3"/>
<text x="96.8" y="229.2" font-size="12.6" text-anchor="middle" fill="#262626">0</text>
<text x="186.5" y="229.2" font-size="12.6" text-anchor="middle" fill="#262626">20</text>
<text x="272.4" y="229.2" font-size="12.6" text-anchor="middle" fill="#262626">40</text>
<line x1="33.8" y1="233.9" x2="33.8" y2="410.2" stroke="#333" stroke-width="1.4"/>
<line x1="33.1" y1="409.6" x2="311.0" y2="409.6" stroke="#333" stroke-width="1.4"/>
<line x1="313.4" y1="417.8" x2="320.0" y2="417.8" stroke="#333" stroke-width="1.2"/>
<text x="0" y="0" font-size="12.2" text-anchor="middle" fill="#262626" transform="translate(30.0,315.7) rotate(-90)">Red JC-1</text>
<text x="173.0" y="423.7" font-size="12.2" text-anchor="middle" fill="#262626">Green JC-1</text>
<text x="0" y="0" font-size="12.4" text-anchor="middle" fill="#262626" textLength="27.7" lengthAdjust="spacingAndGlyphs" transform="translate(48.7,267.7) rotate(-90)">HT29</text>
<text x="0" y="0" font-size="12.4" text-anchor="middle" fill="#262626" textLength="27.8" lengthAdjust="spacingAndGlyphs" transform="translate(48.7,357.4) rotate(-90)">DLD1</text>
<rect x="60.3" y="233.8" width="75.3" height="75.3" fill="#fff" stroke="#5a5a5a" stroke-width="0.9"/>
<line x1="60.3" y1="233.4" x2="60.3" y2="309.5" stroke="#333" stroke-width="1"/>
<line x1="59.9" y1="309.1" x2="136.0" y2="309.1" stroke="#333" stroke-width="1"/>
<line x1="58.5" y1="307.3" x2="60.3" y2="307.3" stroke="#444" stroke-width="0.6"/>
<text x="57.1" y="308.9" font-size="4.2" text-anchor="end" fill="#555">10<tspan font-size="3" dy="-2">1</tspan></text>
<line x1="58.5" y1="297.1" x2="60.3" y2="297.1" stroke="#444" stroke-width="0.6"/>
<text x="57.1" y="298.7" font-size="4.2" text-anchor="end" fill="#555">10<tspan font-size="3" dy="-2">2</tspan></text>
<line x1="58.5" y1="286.8" x2="60.3" y2="286.8" stroke="#444" stroke-width="0.6"/>
<text x="57.1" y="288.4" font-size="4.2" text-anchor="end" fill="#555">10<tspan font-size="3" dy="-2">3</tspan></text>
<line x1="58.5" y1="276.6" x2="60.3" y2="276.6" stroke="#444" stroke-width="0.6"/>
<text x="57.1" y="278.2" font-size="4.2" text-anchor="end" fill="#555">10<tspan font-size="3" dy="-2">4</tspan></text>
<line x1="58.5" y1="266.3" x2="60.3" y2="266.3" stroke="#444" stroke-width="0.6"/>
<text x="57.1" y="267.9" font-size="4.2" text-anchor="end" fill="#555">10<tspan font-size="3" dy="-2">5</tspan></text>
<line x1="58.5" y1="256.1" x2="60.3" y2="256.1" stroke="#444" stroke-width="0.6"/>
<text x="57.1" y="257.7" font-size="4.2" text-anchor="end" fill="#555">10<tspan font-size="3" dy="-2">6</tspan></text>
<line x1="58.5" y1="245.8" x2="60.3" y2="245.8" stroke="#444" stroke-width="0.6"/>
<text x="57.1" y="247.4" font-size="4.2" text-anchor="end" fill="#555">10<tspan font-size="3" dy="-2">7</tspan></text>
<line x1="58.5" y1="235.6" x2="60.3" y2="235.6" stroke="#444" stroke-width="0.6"/>
<text x="57.1" y="237.2" font-size="4.2" text-anchor="end" fill="#555">10<tspan font-size="3" dy="-2">8</tspan></text>
<line x1="64.3" y1="309.1" x2="64.3" y2="310.9" stroke="#444" stroke-width="0.6"/>
<text x="63.8" y="316.6" font-size="4.2" text-anchor="middle" fill="#555">10<tspan font-size="3" dy="-2">1</tspan></text>
<line x1="71.8" y1="309.1" x2="71.8" y2="310.9" stroke="#444" stroke-width="0.6"/>
<text x="71.3" y="316.6" font-size="4.2" text-anchor="middle" fill="#555">10<tspan font-size="3" dy="-2">2</tspan></text>
<line x1="81.8" y1="309.1" x2="81.8" y2="310.9" stroke="#444" stroke-width="0.6"/>
<text x="81.3" y="316.6" font-size="4.2" text-anchor="middle" fill="#555">10<tspan font-size="3" dy="-2">3</tspan></text>
<line x1="91.3" y1="309.1" x2="91.3" y2="310.9" stroke="#444" stroke-width="0.6"/>
<text x="90.8" y="316.6" font-size="4.2" text-anchor="middle" fill="#555">10<tspan font-size="3" dy="-2">4</tspan></text>
<line x1="100.8" y1="309.1" x2="100.8" y2="310.9" stroke="#444" stroke-width="0.6"/>
<text x="100.3" y="316.6" font-size="4.2" text-anchor="middle" fill="#555">10<tspan font-size="3" dy="-2">5</tspan></text>
<line x1="110.3" y1="309.1" x2="110.3" y2="310.9" stroke="#444" stroke-width="0.6"/>
<text x="109.8" y="316.6" font-size="4.2" text-anchor="middle" fill="#555">10<tspan font-size="3" dy="-2">6</tspan></text>
<line x1="119.8" y1="309.1" x2="119.8" y2="310.9" stroke="#444" stroke-width="0.6"/>
<text x="119.3" y="316.6" font-size="4.2" text-anchor="middle" fill="#555">10<tspan font-size="3" dy="-2">7</tspan></text>
<line x1="129.3" y1="309.1" x2="129.3" y2="310.9" stroke="#444" stroke-width="0.6"/>
<text x="128.8" y="316.6" font-size="4.2" text-anchor="middle" fill="#555">10<tspan font-size="3" dy="-2">8</tspan></text>
<line x1="59.3" y1="236.8" x2="60.3" y2="236.8" stroke="#777" stroke-width="0.4"/>
<line x1="63.3" y1="309.1" x2="63.3" y2="310.1" stroke="#777" stroke-width="0.4"/>
<line x1="59.3" y1="240.1" x2="60.3" y2="240.1" stroke="#777" stroke-width="0.4"/>
<line x1="66.6" y1="309.1" x2="66.6" y2="310.1" stroke="#777" stroke-width="0.4"/>
<line x1="59.3" y1="243.4" x2="60.3" y2="243.4" stroke="#777" stroke-width="0.4"/>
<line x1="69.9" y1="309.1" x2="69.9" y2="310.1" stroke="#777" stroke-width="0.4"/>
<line x1="59.3" y1="246.7" x2="60.3" y2="246.7" stroke="#777" stroke-width="0.4"/>
<line x1="73.2" y1="309.1" x2="73.2" y2="310.1" stroke="#777" stroke-width="0.4"/>
<line x1="59.3" y1="250.0" x2="60.3" y2="250.0" stroke="#777" stroke-width="0.4"/>
<line x1="76.5" y1="309.1" x2="76.5" y2="310.1" stroke="#777" stroke-width="0.4"/>
<line x1="59.3" y1="253.3" x2="60.3" y2="253.3" stroke="#777" stroke-width="0.4"/>
<line x1="79.8" y1="309.1" x2="79.8" y2="310.1" stroke="#777" stroke-width="0.4"/>
<line x1="59.3" y1="256.6" x2="60.3" y2="256.6" stroke="#777" stroke-width="0.4"/>
<line x1="83.1" y1="309.1" x2="83.1" y2="310.1" stroke="#777" stroke-width="0.4"/>
<line x1="59.3" y1="259.9" x2="60.3" y2="259.9" stroke="#777" stroke-width="0.4"/>
<line x1="86.4" y1="309.1" x2="86.4" y2="310.1" stroke="#777" stroke-width="0.4"/>
<line x1="59.3" y1="263.2" x2="60.3" y2="263.2" stroke="#777" stroke-width="0.4"/>
<line x1="89.7" y1="309.1" x2="89.7" y2="310.1" stroke="#777" stroke-width="0.4"/>
<line x1="59.3" y1="266.5" x2="60.3" y2="266.5" stroke="#777" stroke-width="0.4"/>
<line x1="93.0" y1="309.1" x2="93.0" y2="310.1" stroke="#777" stroke-width="0.4"/>
<line x1="59.3" y1="269.8" x2="60.3" y2="269.8" stroke="#777" stroke-width="0.4"/>
<line x1="96.3" y1="309.1" x2="96.3" y2="310.1" stroke="#777" stroke-width="0.4"/>
<line x1="59.3" y1="273.1" x2="60.3" y2="273.1" stroke="#777" stroke-width="0.4"/>
<line x1="99.6" y1="309.1" x2="99.6" y2="310.1" stroke="#777" stroke-width="0.4"/>
<line x1="59.3" y1="276.4" x2="60.3" y2="276.4" stroke="#777" stroke-width="0.4"/>
<line x1="102.9" y1="309.1" x2="102.9" y2="310.1" stroke="#777" stroke-width="0.4"/>
<line x1="59.3" y1="279.7" x2="60.3" y2="279.7" stroke="#777" stroke-width="0.4"/>
<line x1="106.2" y1="309.1" x2="106.2" y2="310.1" stroke="#777" stroke-width="0.4"/>
<line x1="59.3" y1="283.0" x2="60.3" y2="283.0" stroke="#777" stroke-width="0.4"/>
<line x1="109.5" y1="309.1" x2="109.5" y2="310.1" stroke="#777" stroke-width="0.4"/>
<line x1="59.3" y1="286.3" x2="60.3" y2="286.3" stroke="#777" stroke-width="0.4"/>
<line x1="112.8" y1="309.1" x2="112.8" y2="310.1" stroke="#777" stroke-width="0.4"/>
<line x1="59.3" y1="289.6" x2="60.3" y2="289.6" stroke="#777" stroke-width="0.4"/>
<line x1="116.1" y1="309.1" x2="116.1" y2="310.1" stroke="#777" stroke-width="0.4"/>
<line x1="59.3" y1="292.9" x2="60.3" y2="292.9" stroke="#777" stroke-width="0.4"/>
<line x1="119.4" y1="309.1" x2="119.4" y2="310.1" stroke="#777" stroke-width="0.4"/>
<line x1="59.3" y1="296.2" x2="60.3" y2="296.2" stroke="#777" stroke-width="0.4"/>
<line x1="122.7" y1="309.1" x2="122.7" y2="310.1" stroke="#777" stroke-width="0.4"/>
<line x1="59.3" y1="299.5" x2="60.3" y2="299.5" stroke="#777" stroke-width="0.4"/>
<line x1="126.0" y1="309.1" x2="126.0" y2="310.1" stroke="#777" stroke-width="0.4"/>
<line x1="59.3" y1="302.8" x2="60.3" y2="302.8" stroke="#777" stroke-width="0.4"/>
<line x1="129.3" y1="309.1" x2="129.3" y2="310.1" stroke="#777" stroke-width="0.4"/>
<line x1="59.3" y1="306.1" x2="60.3" y2="306.1" stroke="#777" stroke-width="0.4"/>
<line x1="132.6" y1="309.1" x2="132.6" y2="310.1" stroke="#777" stroke-width="0.4"/>
<g clip-path="url(#cf35)">
<ellipse cx="111.3" cy="255.8" rx="13" ry="6" fill="#4f78d8" opacity="0.7" filter="url(#b15)" transform="rotate(-52 111.3 255.8)"/>
<ellipse cx="110.3" cy="254.8" rx="10" ry="5" fill="#39a0b8" opacity="0.9" filter="url(#b15)" transform="rotate(-52 110.3 254.8)"/>
<ellipse cx="110.3" cy="254.8" rx="6" ry="3.5" fill="#7ac040" opacity="0.95" filter="url(#b15)" transform="rotate(-52 110.3 254.8)"/>
<ellipse cx="109.8" cy="254.3" rx="3" ry="2.2" fill="#f0a030" opacity="1" filter="url(#b06)" transform="rotate(-52 109.8 254.3)"/>
<ellipse cx="117.3" cy="259.8" rx="12" ry="2.5" fill="#4a70d0" opacity="0.6" filter="url(#b15)" transform="rotate(-52 117.3 259.8)"/>
<rect x="107.4" y="271.6" width="0.8" height="0.8" fill="#6a88d8" opacity="0.6"/>
<rect x="103.6" y="260.9" width="0.8" height="0.8" fill="#6a88d8" opacity="0.6"/>
<rect x="110.8" y="252.2" width="0.8" height="0.8" fill="#6a88d8" opacity="0.6"/>
<rect x="125.4" y="246.6" width="0.8" height="0.8" fill="#6a88d8" opacity="0.6"/>
<rect x="109.0" y="275.5" width="0.8" height="0.8" fill="#6a88d8" opacity="0.6"/>
<rect x="114.3" y="259.1" width="0.8" height="0.8" fill="#6a88d8" opacity="0.6"/>
<rect x="126.6" y="249.3" width="0.8" height="0.8" fill="#6a88d8" opacity="0.6"/>
<rect x="122.0" y="247.9" width="0.8" height="0.8" fill="#6a88d8" opacity="0.6"/>
<rect x="113.5" y="271.0" width="0.8" height="0.8" fill="#6a88d8" opacity="0.6"/>
<rect x="98.9" y="270.7" width="0.8" height="0.8" fill="#6a88d8" opacity="0.6"/>
<rect x="93.9" y="266.7" width="0.8" height="0.8" fill="#6a88d8" opacity="0.6"/>
<rect x="109.8" y="258.4" width="0.8" height="0.8" fill="#6a88d8" opacity="0.6"/>
<rect x="106.1" y="265.4" width="0.8" height="0.8" fill="#6a88d8" opacity="0.6"/>
<rect x="107.3" y="266.1" width="0.8" height="0.8" fill="#6a88d8" opacity="0.6"/>
<rect x="111.1" y="256.1" width="0.8" height="0.8" fill="#6a88d8" opacity="0.6"/>
<rect x="107.3" y="265.5" width="0.8" height="0.8" fill="#6a88d8" opacity="0.6"/>
<rect x="104.3" y="263.8" width="0.8" height="0.8" fill="#6a88d8" opacity="0.6"/>
<rect x="101.6" y="273.6" width="0.8" height="0.8" fill="#6a88d8" opacity="0.6"/>
<rect x="121.2" y="240.0" width="0.8" height="0.8" fill="#6a88d8" opacity="0.6"/>
<rect x="104.3" y="265.8" width="0.8" height="0.8" fill="#6a88d8" opacity="0.6"/>
<rect x="131.1" y="238.9" width="0.8" height="0.8" fill="#6a88d8" opacity="0.6"/>
<rect x="109.0" y="260.8" width="0.8" height="0.8" fill="#6a88d8" opacity="0.6"/>
<rect x="120.2" y="246.3" width="0.8" height="0.8" fill="#6a88d8" opacity="0.6"/>
<rect x="105.8" y="252.5" width="0.8" height="0.8" fill="#6a88d8" opacity="0.6"/>
<rect x="123.9" y="242.8" width="0.8" height="0.8" fill="#6a88d8" opacity="0.6"/>
<rect x="115.6" y="250.6" width="0.8" height="0.8" fill="#6a88d8" opacity="0.6"/>
<rect x="128.9" y="243.9" width="0.8" height="0.8" fill="#6a88d8" opacity="0.6"/>
<rect x="114.9" y="250.0" width="0.8" height="0.8" fill="#6a88d8" opacity="0.6"/>
<rect x="101.6" y="272.8" width="0.8" height="0.8" fill="#6a88d8" opacity="0.6"/>
<rect x="118.4" y="263.7" width="0.8" height="0.8" fill="#6a88d8" opacity="0.6"/>
<rect x="100.8" y="263.6" width="0.8" height="0.8" fill="#6a88d8" opacity="0.6"/>
<rect x="119.1" y="248.2" width="0.8" height="0.8" fill="#6a88d8" opacity="0.6"/>
<rect x="108.1" y="257.3" width="0.8" height="0.8" fill="#6a88d8" opacity="0.6"/>
<rect x="125.1" y="247.0" width="0.8" height="0.8" fill="#6a88d8" opacity="0.6"/>
<rect x="113.1" y="252.6" width="0.8" height="0.8" fill="#6a88d8" opacity="0.6"/>
<rect x="103.5" y="274.7" width="0.8" height="0.8" fill="#6a88d8" opacity="0.6"/>
<rect x="99.0" y="270.0" width="0.8" height="0.8" fill="#6a88d8" opacity="0.6"/>
<rect x="109.5" y="245.1" width="0.8" height="0.8" fill="#6a88d8" opacity="0.6"/>
<rect x="113.9" y="261.2" width="0.8" height="0.8" fill="#6a88d8" opacity="0.6"/>
<rect x="133.0" y="241.2" width="0.8" height="0.8" fill="#6a88d8" opacity="0.6"/>
<rect x="117.4" y="240.9" width="0.8" height="0.8" fill="#6a88d8" opacity="0.6"/>
<rect x="105.7" y="264.1" width="0.8" height="0.8" fill="#6a88d8" opacity="0.6"/>
<rect x="119.7" y="258.7" width="0.8" height="0.8" fill="#6a88d8" opacity="0.6"/>
<rect x="112.9" y="256.2" width="0.8" height="0.8" fill="#6a88d8" opacity="0.6"/>
<rect x="100.8" y="257.6" width="0.8" height="0.8" fill="#6a88d8" opacity="0.6"/>
<rect x="98.1" y="271.6" width="0.8" height="0.8" fill="#6a88d8" opacity="0.6"/>
<rect x="126.6" y="248.0" width="0.8" height="0.8" fill="#6a88d8" opacity="0.6"/>
<rect x="116.6" y="242.1" width="0.8" height="0.8" fill="#6a88d8" opacity="0.6"/>
<rect x="120.6" y="241.2" width="0.8" height="0.8" fill="#6a88d8" opacity="0.6"/>
<rect x="112.6" y="258.1" width="0.8" height="0.8" fill="#6a88d8" opacity="0.6"/>
<rect x="104.8" y="274.2" width="0.8" height="0.8" fill="#6a88d8" opacity="0.6"/>
<rect x="103.3" y="264.0" width="0.8" height="0.8" fill="#6a88d8" opacity="0.6"/>
<rect x="112.5" y="253.1" width="0.8" height="0.8" fill="#6a88d8" opacity="0.6"/>
<rect x="111.0" y="261.6" width="0.8" height="0.8" fill="#6a88d8" opacity="0.6"/>
<rect x="113.4" y="251.8" width="0.8" height="0.8" fill="#6a88d8" opacity="0.6"/>
<rect x="111.0" y="254.7" width="0.8" height="0.8" fill="#6a88d8" opacity="0.6"/>
<rect x="101.4" y="273.0" width="0.8" height="0.8" fill="#6a88d8" opacity="0.6"/>
<rect x="119.8" y="254.4" width="0.8" height="0.8" fill="#6a88d8" opacity="0.6"/>
<rect x="127.8" y="244.2" width="0.8" height="0.8" fill="#6a88d8" opacity="0.6"/>
<rect x="119.4" y="239.8" width="0.8" height="0.8" fill="#6a88d8" opacity="0.6"/>
</g>
<polygon points="94.5,274.5 98.4,262.2 108.1,245.2 123.5,235.5 129.7,235.2 128.0,240.6 104.1,273.0" fill="none" stroke="#3a3a3a" stroke-width="0.8"/>
<polygon points="99.6,280.7 132.6,240.1 133.9,241.8 133.7,250.9 122.3,265.7 105.3,278.7" fill="none" stroke="#3a3a3a" stroke-width="0.8"/>
<text x="65.3" y="242.4" font-size="3.6" text-anchor="start" fill="#333">Polarized</text>
<text x="65.3" y="247.3" font-size="3.6" text-anchor="start" fill="#333">83.2%</text>
<text x="111.3" y="300.8" font-size="3.6" text-anchor="start" fill="#333">Depolarized</text>
<text x="111.3" y="305.8" font-size="3.6" text-anchor="start" fill="#333">16.3%</text>
<rect x="146.5" y="233.8" width="75.3" height="75.3" fill="#fff" stroke="#5a5a5a" stroke-width="0.9"/>
<line x1="146.5" y1="233.4" x2="146.5" y2="309.5" stroke="#333" stroke-width="1"/>
<line x1="146.1" y1="309.1" x2="222.2" y2="309.1" stroke="#333" stroke-width="1"/>
<line x1="144.7" y1="307.3" x2="146.5" y2="307.3" stroke="#444" stroke-width="0.6"/>
<text x="143.3" y="308.9" font-size="4.2" text-anchor="end" fill="#555">10<tspan font-size="3" dy="-2">1</tspan></text>
<line x1="144.7" y1="297.1" x2="146.5" y2="297.1" stroke="#444" stroke-width="0.6"/>
<text x="143.3" y="298.7" font-size="4.2" text-anchor="end" fill="#555">10<tspan font-size="3" dy="-2">2</tspan></text>
<line x1="144.7" y1="286.8" x2="146.5" y2="286.8" stroke="#444" stroke-width="0.6"/>
<text x="143.3" y="288.4" font-size="4.2" text-anchor="end" fill="#555">10<tspan font-size="3" dy="-2">3</tspan></text>
<line x1="144.7" y1="276.6" x2="146.5" y2="276.6" stroke="#444" stroke-width="0.6"/>
<text x="143.3" y="278.2" font-size="4.2" text-anchor="end" fill="#555">10<tspan font-size="3" dy="-2">4</tspan></text>
<line x1="144.7" y1="266.3" x2="146.5" y2="266.3" stroke="#444" stroke-width="0.6"/>
<text x="143.3" y="267.9" font-size="4.2" text-anchor="end" fill="#555">10<tspan font-size="3" dy="-2">5</tspan></text>
<line x1="144.7" y1="256.1" x2="146.5" y2="256.1" stroke="#444" stroke-width="0.6"/>
<text x="143.3" y="257.7" font-size="4.2" text-anchor="end" fill="#555">10<tspan font-size="3" dy="-2">6</tspan></text>
<line x1="144.7" y1="245.8" x2="146.5" y2="245.8" stroke="#444" stroke-width="0.6"/>
<text x="143.3" y="247.4" font-size="4.2" text-anchor="end" fill="#555">10<tspan font-size="3" dy="-2">7</tspan></text>
<line x1="144.7" y1="235.6" x2="146.5" y2="235.6" stroke="#444" stroke-width="0.6"/>
<text x="143.3" y="237.2" font-size="4.2" text-anchor="end" fill="#555">10<tspan font-size="3" dy="-2">8</tspan></text>
<line x1="150.5" y1="309.1" x2="150.5" y2="310.9" stroke="#444" stroke-width="0.6"/>
<text x="150.0" y="316.6" font-size="4.2" text-anchor="middle" fill="#555">10<tspan font-size="3" dy="-2">1</tspan></text>
<line x1="158.0" y1="309.1" x2="158.0" y2="310.9" stroke="#444" stroke-width="0.6"/>
<text x="157.5" y="316.6" font-size="4.2" text-anchor="middle" fill="#555">10<tspan font-size="3" dy="-2">2</tspan></text>
<line x1="168.0" y1="309.1" x2="168.0" y2="310.9" stroke="#444" stroke-width="0.6"/>
<text x="167.5" y="316.6" font-size="4.2" text-anchor="middle" fill="#555">10<tspan font-size="3" dy="-2">3</tspan></text>
<line x1="177.5" y1="309.1" x2="177.5" y2="310.9" stroke="#444" stroke-width="0.6"/>
<text x="177.0" y="316.6" font-size="4.2" text-anchor="middle" fill="#555">10<tspan font-size="3" dy="-2">4</tspan></text>
<line x1="187.0" y1="309.1" x2="187.0" y2="310.9" stroke="#444" stroke-width="0.6"/>
<text x="186.5" y="316.6" font-size="4.2" text-anchor="middle" fill="#555">10<tspan font-size="3" dy="-2">5</tspan></text>
<line x1="196.5" y1="309.1" x2="196.5" y2="310.9" stroke="#444" stroke-width="0.6"/>
<text x="196.0" y="316.6" font-size="4.2" text-anchor="middle" fill="#555">10<tspan font-size="3" dy="-2">6</tspan></text>
<line x1="206.0" y1="309.1" x2="206.0" y2="310.9" stroke="#444" stroke-width="0.6"/>
<text x="205.5" y="316.6" font-size="4.2" text-anchor="middle" fill="#555">10<tspan font-size="3" dy="-2">7</tspan></text>
<line x1="215.5" y1="309.1" x2="215.5" y2="310.9" stroke="#444" stroke-width="0.6"/>
<text x="215.0" y="316.6" font-size="4.2" text-anchor="middle" fill="#555">10<tspan font-size="3" dy="-2">8</tspan></text>
<line x1="145.5" y1="236.8" x2="146.5" y2="236.8" stroke="#777" stroke-width="0.4"/>
<line x1="149.5" y1="309.1" x2="149.5" y2="310.1" stroke="#777" stroke-width="0.4"/>
<line x1="145.5" y1="240.1" x2="146.5" y2="240.1" stroke="#777" stroke-width="0.4"/>
<line x1="152.8" y1="309.1" x2="152.8" y2="310.1" stroke="#777" stroke-width="0.4"/>
<line x1="145.5" y1="243.4" x2="146.5" y2="243.4" stroke="#777" stroke-width="0.4"/>
<line x1="156.1" y1="309.1" x2="156.1" y2="310.1" stroke="#777" stroke-width="0.4"/>
<line x1="145.5" y1="246.7" x2="146.5" y2="246.7" stroke="#777" stroke-width="0.4"/>
<line x1="159.4" y1="309.1" x2="159.4" y2="310.1" stroke="#777" stroke-width="0.4"/>
<line x1="145.5" y1="250.0" x2="146.5" y2="250.0" stroke="#777" stroke-width="0.4"/>
<line x1="162.7" y1="309.1" x2="162.7" y2="310.1" stroke="#777" stroke-width="0.4"/>
<line x1="145.5" y1="253.3" x2="146.5" y2="253.3" stroke="#777" stroke-width="0.4"/>
<line x1="166.0" y1="309.1" x2="166.0" y2="310.1" stroke="#777" stroke-width="0.4"/>
<line x1="145.5" y1="256.6" x2="146.5" y2="256.6" stroke="#777" stroke-width="0.4"/>
<line x1="169.3" y1="309.1" x2="169.3" y2="310.1" stroke="#777" stroke-width="0.4"/>
<line x1="145.5" y1="259.9" x2="146.5" y2="259.9" stroke="#777" stroke-width="0.4"/>
<line x1="172.6" y1="309.1" x2="172.6" y2="310.1" stroke="#777" stroke-width="0.4"/>
<line x1="145.5" y1="263.2" x2="146.5" y2="263.2" stroke="#777" stroke-width="0.4"/>
<line x1="175.9" y1="309.1" x2="175.9" y2="310.1" stroke="#777" stroke-width="0.4"/>
<line x1="145.5" y1="266.5" x2="146.5" y2="266.5" stroke="#777" stroke-width="0.4"/>
<line x1="179.2" y1="309.1" x2="179.2" y2="310.1" stroke="#777" stroke-width="0.4"/>
<line x1="145.5" y1="269.8" x2="146.5" y2="269.8" stroke="#777" stroke-width="0.4"/>
<line x1="182.5" y1="309.1" x2="182.5" y2="310.1" stroke="#777" stroke-width="0.4"/>
<line x1="145.5" y1="273.1" x2="146.5" y2="273.1" stroke="#777" stroke-width="0.4"/>
<line x1="185.8" y1="309.1" x2="185.8" y2="310.1" stroke="#777" stroke-width="0.4"/>
<line x1="145.5" y1="276.4" x2="146.5" y2="276.4" stroke="#777" stroke-width="0.4"/>
<line x1="189.1" y1="309.1" x2="189.1" y2="310.1" stroke="#777" stroke-width="0.4"/>
<line x1="145.5" y1="279.7" x2="146.5" y2="279.7" stroke="#777" stroke-width="0.4"/>
<line x1="192.4" y1="309.1" x2="192.4" y2="310.1" stroke="#777" stroke-width="0.4"/>
<line x1="145.5" y1="283.0" x2="146.5" y2="283.0" stroke="#777" stroke-width="0.4"/>
<line x1="195.7" y1="309.1" x2="195.7" y2="310.1" stroke="#777" stroke-width="0.4"/>
<line x1="145.5" y1="286.3" x2="146.5" y2="286.3" stroke="#777" stroke-width="0.4"/>
<line x1="199.0" y1="309.1" x2="199.0" y2="310.1" stroke="#777" stroke-width="0.4"/>
<line x1="145.5" y1="289.6" x2="146.5" y2="289.6" stroke="#777" stroke-width="0.4"/>
<line x1="202.3" y1="309.1" x2="202.3" y2="310.1" stroke="#777" stroke-width="0.4"/>
<line x1="145.5" y1="292.9" x2="146.5" y2="292.9" stroke="#777" stroke-width="0.4"/>
<line x1="205.6" y1="309.1" x2="205.6" y2="310.1" stroke="#777" stroke-width="0.4"/>
<line x1="145.5" y1="296.2" x2="146.5" y2="296.2" stroke="#777" stroke-width="0.4"/>
<line x1="208.9" y1="309.1" x2="208.9" y2="310.1" stroke="#777" stroke-width="0.4"/>
<line x1="145.5" y1="299.5" x2="146.5" y2="299.5" stroke="#777" stroke-width="0.4"/>
<line x1="212.2" y1="309.1" x2="212.2" y2="310.1" stroke="#777" stroke-width="0.4"/>
<line x1="145.5" y1="302.8" x2="146.5" y2="302.8" stroke="#777" stroke-width="0.4"/>
<line x1="215.5" y1="309.1" x2="215.5" y2="310.1" stroke="#777" stroke-width="0.4"/>
<line x1="145.5" y1="306.1" x2="146.5" y2="306.1" stroke="#777" stroke-width="0.4"/>
<line x1="218.8" y1="309.1" x2="218.8" y2="310.1" stroke="#777" stroke-width="0.4"/>
<g clip-path="url(#cf36)">
<ellipse cx="199.5" cy="253.8" rx="12" ry="6" fill="#5a80dc" opacity="0.5" filter="url(#b15)" transform="rotate(-52 199.5 253.8)"/>
<ellipse cx="203.5" cy="260.8" rx="13" ry="2.5" fill="#3a8ac0" opacity="0.8" filter="url(#b15)" transform="rotate(-52 203.5 260.8)"/>
<ellipse cx="202.5" cy="261.8" rx="5" ry="2" fill="#60c070" opacity="0.9" filter="url(#b15)" transform="rotate(-52 202.5 261.8)"/>
<rect x="188.4" y="268.8" width="0.8" height="0.8" fill="#6a88d8" opacity="0.6"/>
<rect x="210.3" y="236.2" width="0.8" height="0.8" fill="#6a88d8" opacity="0.6"/>
<rect x="194.4" y="263.9" width="0.8" height="0.8" fill="#6a88d8" opacity="0.6"/>
<rect x="211.4" y="254.5" width="0.8" height="0.8" fill="#6a88d8" opacity="0.6"/>
<rect x="194.3" y="261.8" width="0.8" height="0.8" fill="#6a88d8" opacity="0.6"/>
<rect x="206.9" y="243.3" width="0.8" height="0.8" fill="#6a88d8" opacity="0.6"/>
<rect x="191.2" y="270.5" width="0.8" height="0.8" fill="#6a88d8" opacity="0.6"/>
<rect x="203.9" y="266.6" width="0.8" height="0.8" fill="#6a88d8" opacity="0.6"/>
<rect x="195.8" y="265.7" width="0.8" height="0.8" fill="#6a88d8" opacity="0.6"/>
<rect x="186.8" y="264.8" width="0.8" height="0.8" fill="#6a88d8" opacity="0.6"/>
<rect x="202.1" y="253.1" width="0.8" height="0.8" fill="#6a88d8" opacity="0.6"/>
<rect x="204.4" y="248.9" width="0.8" height="0.8" fill="#6a88d8" opacity="0.6"/>
<rect x="189.5" y="268.8" width="0.8" height="0.8" fill="#6a88d8" opacity="0.6"/>
<rect x="193.8" y="267.4" width="0.8" height="0.8" fill="#6a88d8" opacity="0.6"/>
<rect x="207.9" y="231.8" width="0.8" height="0.8" fill="#6a88d8" opacity="0.6"/>
<rect x="205.1" y="262.7" width="0.8" height="0.8" fill="#6a88d8" opacity="0.6"/>
<rect x="208.1" y="254.8" width="0.8" height="0.8" fill="#6a88d8" opacity="0.6"/>
<rect x="186.4" y="266.8" width="0.8" height="0.8" fill="#6a88d8" opacity="0.6"/>
<rect x="202.8" y="251.5" width="0.8" height="0.8" fill="#6a88d8" opacity="0.6"/>
<rect x="187.9" y="269.1" width="0.8" height="0.8" fill="#6a88d8" opacity="0.6"/>
<rect x="210.7" y="240.5" width="0.8" height="0.8" fill="#6a88d8" opacity="0.6"/>
<rect x="199.9" y="257.4" width="0.8" height="0.8" fill="#6a88d8" opacity="0.6"/>
<rect x="194.2" y="266.9" width="0.8" height="0.8" fill="#6a88d8" opacity="0.6"/>
<rect x="186.0" y="267.1" width="0.8" height="0.8" fill="#6a88d8" opacity="0.6"/>
<rect x="213.2" y="246.2" width="0.8" height="0.8" fill="#6a88d8" opacity="0.6"/>
<rect x="188.7" y="274.0" width="0.8" height="0.8" fill="#6a88d8" opacity="0.6"/>
<rect x="211.6" y="249.6" width="0.8" height="0.8" fill="#6a88d8" opacity="0.6"/>
<rect x="191.8" y="272.6" width="0.8" height="0.8" fill="#6a88d8" opacity="0.6"/>
<rect x="199.4" y="255.2" width="0.8" height="0.8" fill="#6a88d8" opacity="0.6"/>
<rect x="196.6" y="254.3" width="0.8" height="0.8" fill="#6a88d8" opacity="0.6"/>
<rect x="197.1" y="253.0" width="0.8" height="0.8" fill="#6a88d8" opacity="0.6"/>
<rect x="191.0" y="271.8" width="0.8" height="0.8" fill="#6a88d8" opacity="0.6"/>
<rect x="201.3" y="257.2" width="0.8" height="0.8" fill="#6a88d8" opacity="0.6"/>
<rect x="221.0" y="245.4" width="0.8" height="0.8" fill="#6a88d8" opacity="0.6"/>
<rect x="191.5" y="274.0" width="0.8" height="0.8" fill="#6a88d8" opacity="0.6"/>
<rect x="207.5" y="256.5" width="0.8" height="0.8" fill="#6a88d8" opacity="0.6"/>
<rect x="185.0" y="271.3" width="0.8" height="0.8" fill="#6a88d8" opacity="0.6"/>
<rect x="191.9" y="252.3" width="0.8" height="0.8" fill="#6a88d8" opacity="0.6"/>
<rect x="190.2" y="255.5" width="0.8" height="0.8" fill="#6a88d8" opacity="0.6"/>
<rect x="191.3" y="261.6" width="0.8" height="0.8" fill="#6a88d8" opacity="0.6"/>
<rect x="197.2" y="264.3" width="0.8" height="0.8" fill="#6a88d8" opacity="0.6"/>
<rect x="204.7" y="260.4" width="0.8" height="0.8" fill="#6a88d8" opacity="0.6"/>
<rect x="193.5" y="264.0" width="0.8" height="0.8" fill="#6a88d8" opacity="0.6"/>
<rect x="196.4" y="263.0" width="0.8" height="0.8" fill="#6a88d8" opacity="0.6"/>
<rect x="213.8" y="236.5" width="0.8" height="0.8" fill="#6a88d8" opacity="0.6"/>
<rect x="213.3" y="239.0" width="0.8" height="0.8" fill="#6a88d8" opacity="0.6"/>
<rect x="197.2" y="260.9" width="0.8" height="0.8" fill="#6a88d8" opacity="0.6"/>
<rect x="191.7" y="269.3" width="0.8" height="0.8" fill="#6a88d8" opacity="0.6"/>
<rect x="193.3" y="267.3" width="0.8" height="0.8" fill="#6a88d8" opacity="0.6"/>
<rect x="200.8" y="269.7" width="0.8" height="0.8" fill="#6a88d8" opacity="0.6"/>
<rect x="188.4" y="260.1" width="0.8" height="0.8" fill="#6a88d8" opacity="0.6"/>
<rect x="191.0" y="259.6" width="0.8" height="0.8" fill="#6a88d8" opacity="0.6"/>
<rect x="206.6" y="244.0" width="0.8" height="0.8" fill="#6a88d8" opacity="0.6"/>
<rect x="207.3" y="254.9" width="0.8" height="0.8" fill="#6a88d8" opacity="0.6"/>
<rect x="214.9" y="240.0" width="0.8" height="0.8" fill="#6a88d8" opacity="0.6"/>
<rect x="208.0" y="240.3" width="0.8" height="0.8" fill="#6a88d8" opacity="0.6"/>
<rect x="191.5" y="255.5" width="0.8" height="0.8" fill="#6a88d8" opacity="0.6"/>
<rect x="208.2" y="258.7" width="0.8" height="0.8" fill="#6a88d8" opacity="0.6"/>
<rect x="206.9" y="243.6" width="0.8" height="0.8" fill="#6a88d8" opacity="0.6"/>
<rect x="211.3" y="257.3" width="0.8" height="0.8" fill="#6a88d8" opacity="0.6"/>
</g>
<polygon points="180.7,274.5 184.6,262.2 194.3,245.2 209.7,235.5 215.9,235.2 214.2,240.6 190.3,273.0" fill="none" stroke="#3a3a3a" stroke-width="0.8"/>
<polygon points="185.8,280.7 218.8,240.1 220.1,241.8 219.9,250.9 208.5,265.7 191.5,278.7" fill="none" stroke="#3a3a3a" stroke-width="0.8"/>
<text x="151.5" y="242.4" font-size="3.6" text-anchor="start" fill="#333">Polarized</text>
<text x="151.5" y="247.3" font-size="3.6" text-anchor="start" fill="#333">21.3%</text>
<text x="197.5" y="300.8" font-size="3.6" text-anchor="start" fill="#333">Depolarized</text>
<text x="197.5" y="305.8" font-size="3.6" text-anchor="start" fill="#333">77.8%</text>
<rect x="233.2" y="233.8" width="75.3" height="75.3" fill="#fff" stroke="#5a5a5a" stroke-width="0.9"/>
<line x1="233.2" y1="233.4" x2="233.2" y2="309.5" stroke="#333" stroke-width="1"/>
<line x1="232.8" y1="309.1" x2="308.9" y2="309.1" stroke="#333" stroke-width="1"/>
<line x1="231.4" y1="307.3" x2="233.2" y2="307.3" stroke="#444" stroke-width="0.6"/>
<text x="230.0" y="308.9" font-size="4.2" text-anchor="end" fill="#555">10<tspan font-size="3" dy="-2">1</tspan></text>
<line x1="231.4" y1="297.1" x2="233.2" y2="297.1" stroke="#444" stroke-width="0.6"/>
<text x="230.0" y="298.7" font-size="4.2" text-anchor="end" fill="#555">10<tspan font-size="3" dy="-2">2</tspan></text>
<line x1="231.4" y1="286.8" x2="233.2" y2="286.8" stroke="#444" stroke-width="0.6"/>
<text x="230.0" y="288.4" font-size="4.2" text-anchor="end" fill="#555">10<tspan font-size="3" dy="-2">3</tspan></text>
<line x1="231.4" y1="276.6" x2="233.2" y2="276.6" stroke="#444" stroke-width="0.6"/>
<text x="230.0" y="278.2" font-size="4.2" text-anchor="end" fill="#555">10<tspan font-size="3" dy="-2">4</tspan></text>
<line x1="231.4" y1="266.3" x2="233.2" y2="266.3" stroke="#444" stroke-width="0.6"/>
<text x="230.0" y="267.9" font-size="4.2" text-anchor="end" fill="#555">10<tspan font-size="3" dy="-2">5</tspan></text>
<line x1="231.4" y1="256.1" x2="233.2" y2="256.1" stroke="#444" stroke-width="0.6"/>
<text x="230.0" y="257.7" font-size="4.2" text-anchor="end" fill="#555">10<tspan font-size="3" dy="-2">6</tspan></text>
<line x1="231.4" y1="245.8" x2="233.2" y2="245.8" stroke="#444" stroke-width="0.6"/>
<text x="230.0" y="247.4" font-size="4.2" text-anchor="end" fill="#555">10<tspan font-size="3" dy="-2">7</tspan></text>
<line x1="231.4" y1="235.6" x2="233.2" y2="235.6" stroke="#444" stroke-width="0.6"/>
<text x="230.0" y="237.2" font-size="4.2" text-anchor="end" fill="#555">10<tspan font-size="3" dy="-2">8</tspan></text>
<line x1="237.2" y1="309.1" x2="237.2" y2="310.9" stroke="#444" stroke-width="0.6"/>
<text x="236.7" y="316.6" font-size="4.2" text-anchor="middle" fill="#555">10<tspan font-size="3" dy="-2">1</tspan></text>
<line x1="244.7" y1="309.1" x2="244.7" y2="310.9" stroke="#444" stroke-width="0.6"/>
<text x="244.2" y="316.6" font-size="4.2" text-anchor="middle" fill="#555">10<tspan font-size="3" dy="-2">2</tspan></text>
<line x1="254.7" y1="309.1" x2="254.7" y2="310.9" stroke="#444" stroke-width="0.6"/>
<text x="254.2" y="316.6" font-size="4.2" text-anchor="middle" fill="#555">10<tspan font-size="3" dy="-2">3</tspan></text>
<line x1="264.2" y1="309.1" x2="264.2" y2="310.9" stroke="#444" stroke-width="0.6"/>
<text x="263.7" y="316.6" font-size="4.2" text-anchor="middle" fill="#555">10<tspan font-size="3" dy="-2">4</tspan></text>
<line x1="273.7" y1="309.1" x2="273.7" y2="310.9" stroke="#444" stroke-width="0.6"/>
<text x="273.2" y="316.6" font-size="4.2" text-anchor="middle" fill="#555">10<tspan font-size="3" dy="-2">5</tspan></text>
<line x1="283.2" y1="309.1" x2="283.2" y2="310.9" stroke="#444" stroke-width="0.6"/>
<text x="282.7" y="316.6" font-size="4.2" text-anchor="middle" fill="#555">10<tspan font-size="3" dy="-2">6</tspan></text>
<line x1="292.7" y1="309.1" x2="292.7" y2="310.9" stroke="#444" stroke-width="0.6"/>
<text x="292.2" y="316.6" font-size="4.2" text-anchor="middle" fill="#555">10<tspan font-size="3" dy="-2">7</tspan></text>
<line x1="302.2" y1="309.1" x2="302.2" y2="310.9" stroke="#444" stroke-width="0.6"/>
<text x="301.7" y="316.6" font-size="4.2" text-anchor="middle" fill="#555">10<tspan font-size="3" dy="-2">8</tspan></text>
<line x1="232.2" y1="236.8" x2="233.2" y2="236.8" stroke="#777" stroke-width="0.4"/>
<line x1="236.2" y1="309.1" x2="236.2" y2="310.1" stroke="#777" stroke-width="0.4"/>
<line x1="232.2" y1="240.1" x2="233.2" y2="240.1" stroke="#777" stroke-width="0.4"/>
<line x1="239.5" y1="309.1" x2="239.5" y2="310.1" stroke="#777" stroke-width="0.4"/>
<line x1="232.2" y1="243.4" x2="233.2" y2="243.4" stroke="#777" stroke-width="0.4"/>
<line x1="242.8" y1="309.1" x2="242.8" y2="310.1" stroke="#777" stroke-width="0.4"/>
<line x1="232.2" y1="246.7" x2="233.2" y2="246.7" stroke="#777" stroke-width="0.4"/>
<line x1="246.1" y1="309.1" x2="246.1" y2="310.1" stroke="#777" stroke-width="0.4"/>
<line x1="232.2" y1="250.0" x2="233.2" y2="250.0" stroke="#777" stroke-width="0.4"/>
<line x1="249.4" y1="309.1" x2="249.4" y2="310.1" stroke="#777" stroke-width="0.4"/>
<line x1="232.2" y1="253.3" x2="233.2" y2="253.3" stroke="#777" stroke-width="0.4"/>
<line x1="252.7" y1="309.1" x2="252.7" y2="310.1" stroke="#777" stroke-width="0.4"/>
<line x1="232.2" y1="256.6" x2="233.2" y2="256.6" stroke="#777" stroke-width="0.4"/>
<line x1="256.0" y1="309.1" x2="256.0" y2="310.1" stroke="#777" stroke-width="0.4"/>
<line x1="232.2" y1="259.9" x2="233.2" y2="259.9" stroke="#777" stroke-width="0.4"/>
<line x1="259.3" y1="309.1" x2="259.3" y2="310.1" stroke="#777" stroke-width="0.4"/>
<line x1="232.2" y1="263.2" x2="233.2" y2="263.2" stroke="#777" stroke-width="0.4"/>
<line x1="262.6" y1="309.1" x2="262.6" y2="310.1" stroke="#777" stroke-width="0.4"/>
<line x1="232.2" y1="266.5" x2="233.2" y2="266.5" stroke="#777" stroke-width="0.4"/>
<line x1="265.9" y1="309.1" x2="265.9" y2="310.1" stroke="#777" stroke-width="0.4"/>
<line x1="232.2" y1="269.8" x2="233.2" y2="269.8" stroke="#777" stroke-width="0.4"/>
<line x1="269.2" y1="309.1" x2="269.2" y2="310.1" stroke="#777" stroke-width="0.4"/>
<line x1="232.2" y1="273.1" x2="233.2" y2="273.1" stroke="#777" stroke-width="0.4"/>
<line x1="272.5" y1="309.1" x2="272.5" y2="310.1" stroke="#777" stroke-width="0.4"/>
<line x1="232.2" y1="276.4" x2="233.2" y2="276.4" stroke="#777" stroke-width="0.4"/>
<line x1="275.8" y1="309.1" x2="275.8" y2="310.1" stroke="#777" stroke-width="0.4"/>
<line x1="232.2" y1="279.7" x2="233.2" y2="279.7" stroke="#777" stroke-width="0.4"/>
<line x1="279.1" y1="309.1" x2="279.1" y2="310.1" stroke="#777" stroke-width="0.4"/>
<line x1="232.2" y1="283.0" x2="233.2" y2="283.0" stroke="#777" stroke-width="0.4"/>
<line x1="282.4" y1="309.1" x2="282.4" y2="310.1" stroke="#777" stroke-width="0.4"/>
<line x1="232.2" y1="286.3" x2="233.2" y2="286.3" stroke="#777" stroke-width="0.4"/>
<line x1="285.7" y1="309.1" x2="285.7" y2="310.1" stroke="#777" stroke-width="0.4"/>
<line x1="232.2" y1="289.6" x2="233.2" y2="289.6" stroke="#777" stroke-width="0.4"/>
<line x1="289.0" y1="309.1" x2="289.0" y2="310.1" stroke="#777" stroke-width="0.4"/>
<line x1="232.2" y1="292.9" x2="233.2" y2="292.9" stroke="#777" stroke-width="0.4"/>
<line x1="292.3" y1="309.1" x2="292.3" y2="310.1" stroke="#777" stroke-width="0.4"/>
<line x1="232.2" y1="296.2" x2="233.2" y2="296.2" stroke="#777" stroke-width="0.4"/>
<line x1="295.6" y1="309.1" x2="295.6" y2="310.1" stroke="#777" stroke-width="0.4"/>
<line x1="232.2" y1="299.5" x2="233.2" y2="299.5" stroke="#777" stroke-width="0.4"/>
<line x1="298.9" y1="309.1" x2="298.9" y2="310.1" stroke="#777" stroke-width="0.4"/>
<line x1="232.2" y1="302.8" x2="233.2" y2="302.8" stroke="#777" stroke-width="0.4"/>
<line x1="302.2" y1="309.1" x2="302.2" y2="310.1" stroke="#777" stroke-width="0.4"/>
<line x1="232.2" y1="306.1" x2="233.2" y2="306.1" stroke="#777" stroke-width="0.4"/>
<line x1="305.5" y1="309.1" x2="305.5" y2="310.1" stroke="#777" stroke-width="0.4"/>
<g clip-path="url(#cf37)">
<ellipse cx="288.2" cy="253.8" rx="12" ry="6" fill="#6a8ce0" opacity="0.4" filter="url(#b15)" transform="rotate(-52 288.2 253.8)"/>
<ellipse cx="291.2" cy="258.8" rx="15" ry="3" fill="#2f66b8" opacity="0.85" filter="url(#b15)" transform="rotate(-52 291.2 258.8)"/>
<ellipse cx="291.2" cy="262.8" rx="7" ry="2.5" fill="#40b0a0" opacity="0.9" filter="url(#b15)" transform="rotate(-52 291.2 262.8)"/>
<rect x="290.3" y="248.4" width="0.8" height="0.8" fill="#6a88d8" opacity="0.6"/>
<rect x="271.6" y="260.3" width="0.8" height="0.8" fill="#6a88d8" opacity="0.6"/>
<rect x="276.4" y="272.5" width="0.8" height="0.8" fill="#6a88d8" opacity="0.6"/>
<rect x="281.8" y="258.2" width="0.8" height="0.8" fill="#6a88d8" opacity="0.6"/>
<rect x="300.5" y="246.9" width="0.8" height="0.8" fill="#6a88d8" opacity="0.6"/>
<rect x="294.2" y="261.5" width="0.8" height="0.8" fill="#6a88d8" opacity="0.6"/>
<rect x="278.9" y="274.3" width="0.8" height="0.8" fill="#6a88d8" opacity="0.6"/>
<rect x="273.5" y="269.2" width="0.8" height="0.8" fill="#6a88d8" opacity="0.6"/>
<rect x="299.2" y="244.3" width="0.8" height="0.8" fill="#6a88d8" opacity="0.6"/>
<rect x="287.8" y="245.7" width="0.8" height="0.8" fill="#6a88d8" opacity="0.6"/>
<rect x="311.5" y="245.4" width="0.8" height="0.8" fill="#6a88d8" opacity="0.6"/>
<rect x="293.1" y="251.2" width="0.8" height="0.8" fill="#6a88d8" opacity="0.6"/>
<rect x="278.6" y="262.8" width="0.8" height="0.8" fill="#6a88d8" opacity="0.6"/>
<rect x="290.9" y="248.8" width="0.8" height="0.8" fill="#6a88d8" opacity="0.6"/>
<rect x="292.9" y="247.2" width="0.8" height="0.8" fill="#6a88d8" opacity="0.6"/>
<rect x="284.7" y="259.5" width="0.8" height="0.8" fill="#6a88d8" opacity="0.6"/>
<rect x="282.2" y="262.9" width="0.8" height="0.8" fill="#6a88d8" opacity="0.6"/>
<rect x="289.2" y="239.6" width="0.8" height="0.8" fill="#6a88d8" opacity="0.6"/>
<rect x="291.5" y="256.7" width="0.8" height="0.8" fill="#6a88d8" opacity="0.6"/>
<rect x="285.5" y="268.0" width="0.8" height="0.8" fill="#6a88d8" opacity="0.6"/>
<rect x="307.0" y="241.2" width="0.8" height="0.8" fill="#6a88d8" opacity="0.6"/>
<rect x="281.0" y="279.5" width="0.8" height="0.8" fill="#6a88d8" opacity="0.6"/>
<rect x="294.2" y="243.7" width="0.8" height="0.8" fill="#6a88d8" opacity="0.6"/>
<rect x="289.1" y="261.7" width="0.8" height="0.8" fill="#6a88d8" opacity="0.6"/>
<rect x="277.1" y="258.1" width="0.8" height="0.8" fill="#6a88d8" opacity="0.6"/>
<rect x="286.0" y="263.0" width="0.8" height="0.8" fill="#6a88d8" opacity="0.6"/>
<rect x="284.4" y="261.1" width="0.8" height="0.8" fill="#6a88d8" opacity="0.6"/>
<rect x="282.0" y="259.3" width="0.8" height="0.8" fill="#6a88d8" opacity="0.6"/>
<rect x="286.8" y="253.6" width="0.8" height="0.8" fill="#6a88d8" opacity="0.6"/>
<rect x="295.9" y="246.1" width="0.8" height="0.8" fill="#6a88d8" opacity="0.6"/>
<rect x="290.3" y="258.3" width="0.8" height="0.8" fill="#6a88d8" opacity="0.6"/>
<rect x="276.5" y="273.1" width="0.8" height="0.8" fill="#6a88d8" opacity="0.6"/>
<rect x="285.3" y="263.0" width="0.8" height="0.8" fill="#6a88d8" opacity="0.6"/>
<rect x="291.5" y="255.1" width="0.8" height="0.8" fill="#6a88d8" opacity="0.6"/>
<rect x="292.8" y="248.0" width="0.8" height="0.8" fill="#6a88d8" opacity="0.6"/>
<rect x="291.9" y="258.2" width="0.8" height="0.8" fill="#6a88d8" opacity="0.6"/>
<rect x="292.6" y="254.3" width="0.8" height="0.8" fill="#6a88d8" opacity="0.6"/>
<rect x="295.2" y="244.9" width="0.8" height="0.8" fill="#6a88d8" opacity="0.6"/>
<rect x="293.6" y="257.1" width="0.8" height="0.8" fill="#6a88d8" opacity="0.6"/>
<rect x="270.4" y="271.1" width="0.8" height="0.8" fill="#6a88d8" opacity="0.6"/>
<rect x="275.7" y="272.4" width="0.8" height="0.8" fill="#6a88d8" opacity="0.6"/>
<rect x="289.1" y="249.5" width="0.8" height="0.8" fill="#6a88d8" opacity="0.6"/>
<rect x="273.1" y="267.7" width="0.8" height="0.8" fill="#6a88d8" opacity="0.6"/>
<rect x="285.8" y="256.2" width="0.8" height="0.8" fill="#6a88d8" opacity="0.6"/>
<rect x="278.1" y="277.8" width="0.8" height="0.8" fill="#6a88d8" opacity="0.6"/>
<rect x="291.8" y="243.9" width="0.8" height="0.8" fill="#6a88d8" opacity="0.6"/>
<rect x="292.1" y="251.7" width="0.8" height="0.8" fill="#6a88d8" opacity="0.6"/>
<rect x="300.4" y="245.4" width="0.8" height="0.8" fill="#6a88d8" opacity="0.6"/>
<rect x="278.3" y="257.8" width="0.8" height="0.8" fill="#6a88d8" opacity="0.6"/>
<rect x="287.9" y="265.1" width="0.8" height="0.8" fill="#6a88d8" opacity="0.6"/>
<rect x="305.5" y="240.2" width="0.8" height="0.8" fill="#6a88d8" opacity="0.6"/>
<rect x="287.7" y="268.0" width="0.8" height="0.8" fill="#6a88d8" opacity="0.6"/>
<rect x="271.6" y="264.0" width="0.8" height="0.8" fill="#6a88d8" opacity="0.6"/>
<rect x="277.7" y="271.3" width="0.8" height="0.8" fill="#6a88d8" opacity="0.6"/>
<rect x="291.5" y="252.8" width="0.8" height="0.8" fill="#6a88d8" opacity="0.6"/>
<rect x="287.3" y="255.6" width="0.8" height="0.8" fill="#6a88d8" opacity="0.6"/>
<rect x="276.8" y="257.6" width="0.8" height="0.8" fill="#6a88d8" opacity="0.6"/>
<rect x="287.5" y="259.1" width="0.8" height="0.8" fill="#6a88d8" opacity="0.6"/>
<rect x="284.0" y="264.3" width="0.8" height="0.8" fill="#6a88d8" opacity="0.6"/>
<rect x="283.3" y="273.2" width="0.8" height="0.8" fill="#6a88d8" opacity="0.6"/>
</g>
<polygon points="267.4,274.5 271.3,262.2 281.0,245.2 296.4,235.5 302.6,235.2 300.9,240.6 277.0,273.0" fill="none" stroke="#3a3a3a" stroke-width="0.8"/>
<polygon points="272.5,280.7 305.5,240.1 306.8,241.8 306.6,250.9 295.2,265.7 278.2,278.7" fill="none" stroke="#3a3a3a" stroke-width="0.8"/>
<text x="238.2" y="242.4" font-size="3.6" text-anchor="start" fill="#333">Polarized</text>
<text x="238.2" y="247.3" font-size="3.6" text-anchor="start" fill="#333">10.7%</text>
<text x="284.2" y="300.8" font-size="3.6" text-anchor="start" fill="#333">Depolarized</text>
<text x="284.2" y="305.8" font-size="3.6" text-anchor="start" fill="#333">88.0%</text>
<rect x="60.3" y="322.0" width="75.3" height="75.3" fill="#fff" stroke="#5a5a5a" stroke-width="0.9"/>
<line x1="60.3" y1="321.6" x2="60.3" y2="397.7" stroke="#333" stroke-width="1"/>
<line x1="59.9" y1="397.3" x2="136.0" y2="397.3" stroke="#333" stroke-width="1"/>
<line x1="58.5" y1="395.5" x2="60.3" y2="395.5" stroke="#444" stroke-width="0.6"/>
<text x="57.1" y="397.1" font-size="4.2" text-anchor="end" fill="#555">10<tspan font-size="3" dy="-2">1</tspan></text>
<line x1="58.5" y1="385.2" x2="60.3" y2="385.2" stroke="#444" stroke-width="0.6"/>
<text x="57.1" y="386.9" font-size="4.2" text-anchor="end" fill="#555">10<tspan font-size="3" dy="-2">2</tspan></text>
<line x1="58.5" y1="375.0" x2="60.3" y2="375.0" stroke="#444" stroke-width="0.6"/>
<text x="57.1" y="376.6" font-size="4.2" text-anchor="end" fill="#555">10<tspan font-size="3" dy="-2">3</tspan></text>
<line x1="58.5" y1="364.8" x2="60.3" y2="364.8" stroke="#444" stroke-width="0.6"/>
<text x="57.1" y="366.4" font-size="4.2" text-anchor="end" fill="#555">10<tspan font-size="3" dy="-2">4</tspan></text>
<line x1="58.5" y1="354.5" x2="60.3" y2="354.5" stroke="#444" stroke-width="0.6"/>
<text x="57.1" y="356.1" font-size="4.2" text-anchor="end" fill="#555">10<tspan font-size="3" dy="-2">5</tspan></text>
<line x1="58.5" y1="344.2" x2="60.3" y2="344.2" stroke="#444" stroke-width="0.6"/>
<text x="57.1" y="345.9" font-size="4.2" text-anchor="end" fill="#555">10<tspan font-size="3" dy="-2">6</tspan></text>
<line x1="58.5" y1="334.0" x2="60.3" y2="334.0" stroke="#444" stroke-width="0.6"/>
<text x="57.1" y="335.6" font-size="4.2" text-anchor="end" fill="#555">10<tspan font-size="3" dy="-2">7</tspan></text>
<line x1="58.5" y1="323.8" x2="60.3" y2="323.8" stroke="#444" stroke-width="0.6"/>
<text x="57.1" y="325.4" font-size="4.2" text-anchor="end" fill="#555">10<tspan font-size="3" dy="-2">8</tspan></text>
<line x1="64.3" y1="397.3" x2="64.3" y2="399.1" stroke="#444" stroke-width="0.6"/>
<text x="63.8" y="404.8" font-size="4.2" text-anchor="middle" fill="#555">10<tspan font-size="3" dy="-2">1</tspan></text>
<line x1="71.8" y1="397.3" x2="71.8" y2="399.1" stroke="#444" stroke-width="0.6"/>
<text x="71.3" y="404.8" font-size="4.2" text-anchor="middle" fill="#555">10<tspan font-size="3" dy="-2">2</tspan></text>
<line x1="81.8" y1="397.3" x2="81.8" y2="399.1" stroke="#444" stroke-width="0.6"/>
<text x="81.3" y="404.8" font-size="4.2" text-anchor="middle" fill="#555">10<tspan font-size="3" dy="-2">3</tspan></text>
<line x1="91.3" y1="397.3" x2="91.3" y2="399.1" stroke="#444" stroke-width="0.6"/>
<text x="90.8" y="404.8" font-size="4.2" text-anchor="middle" fill="#555">10<tspan font-size="3" dy="-2">4</tspan></text>
<line x1="100.8" y1="397.3" x2="100.8" y2="399.1" stroke="#444" stroke-width="0.6"/>
<text x="100.3" y="404.8" font-size="4.2" text-anchor="middle" fill="#555">10<tspan font-size="3" dy="-2">5</tspan></text>
<line x1="110.3" y1="397.3" x2="110.3" y2="399.1" stroke="#444" stroke-width="0.6"/>
<text x="109.8" y="404.8" font-size="4.2" text-anchor="middle" fill="#555">10<tspan font-size="3" dy="-2">6</tspan></text>
<line x1="119.8" y1="397.3" x2="119.8" y2="399.1" stroke="#444" stroke-width="0.6"/>
<text x="119.3" y="404.8" font-size="4.2" text-anchor="middle" fill="#555">10<tspan font-size="3" dy="-2">7</tspan></text>
<line x1="129.3" y1="397.3" x2="129.3" y2="399.1" stroke="#444" stroke-width="0.6"/>
<text x="128.8" y="404.8" font-size="4.2" text-anchor="middle" fill="#555">10<tspan font-size="3" dy="-2">8</tspan></text>
<line x1="59.3" y1="325.0" x2="60.3" y2="325.0" stroke="#777" stroke-width="0.4"/>
<line x1="63.3" y1="397.3" x2="63.3" y2="398.3" stroke="#777" stroke-width="0.4"/>
<line x1="59.3" y1="328.3" x2="60.3" y2="328.3" stroke="#777" stroke-width="0.4"/>
<line x1="66.6" y1="397.3" x2="66.6" y2="398.3" stroke="#777" stroke-width="0.4"/>
<line x1="59.3" y1="331.6" x2="60.3" y2="331.6" stroke="#777" stroke-width="0.4"/>
<line x1="69.9" y1="397.3" x2="69.9" y2="398.3" stroke="#777" stroke-width="0.4"/>
<line x1="59.3" y1="334.9" x2="60.3" y2="334.9" stroke="#777" stroke-width="0.4"/>
<line x1="73.2" y1="397.3" x2="73.2" y2="398.3" stroke="#777" stroke-width="0.4"/>
<line x1="59.3" y1="338.2" x2="60.3" y2="338.2" stroke="#777" stroke-width="0.4"/>
<line x1="76.5" y1="397.3" x2="76.5" y2="398.3" stroke="#777" stroke-width="0.4"/>
<line x1="59.3" y1="341.5" x2="60.3" y2="341.5" stroke="#777" stroke-width="0.4"/>
<line x1="79.8" y1="397.3" x2="79.8" y2="398.3" stroke="#777" stroke-width="0.4"/>
<line x1="59.3" y1="344.8" x2="60.3" y2="344.8" stroke="#777" stroke-width="0.4"/>
<line x1="83.1" y1="397.3" x2="83.1" y2="398.3" stroke="#777" stroke-width="0.4"/>
<line x1="59.3" y1="348.1" x2="60.3" y2="348.1" stroke="#777" stroke-width="0.4"/>
<line x1="86.4" y1="397.3" x2="86.4" y2="398.3" stroke="#777" stroke-width="0.4"/>
<line x1="59.3" y1="351.4" x2="60.3" y2="351.4" stroke="#777" stroke-width="0.4"/>
<line x1="89.7" y1="397.3" x2="89.7" y2="398.3" stroke="#777" stroke-width="0.4"/>
<line x1="59.3" y1="354.7" x2="60.3" y2="354.7" stroke="#777" stroke-width="0.4"/>
<line x1="93.0" y1="397.3" x2="93.0" y2="398.3" stroke="#777" stroke-width="0.4"/>
<line x1="59.3" y1="358.0" x2="60.3" y2="358.0" stroke="#777" stroke-width="0.4"/>
<line x1="96.3" y1="397.3" x2="96.3" y2="398.3" stroke="#777" stroke-width="0.4"/>
<line x1="59.3" y1="361.3" x2="60.3" y2="361.3" stroke="#777" stroke-width="0.4"/>
<line x1="99.6" y1="397.3" x2="99.6" y2="398.3" stroke="#777" stroke-width="0.4"/>
<line x1="59.3" y1="364.6" x2="60.3" y2="364.6" stroke="#777" stroke-width="0.4"/>
<line x1="102.9" y1="397.3" x2="102.9" y2="398.3" stroke="#777" stroke-width="0.4"/>
<line x1="59.3" y1="367.9" x2="60.3" y2="367.9" stroke="#777" stroke-width="0.4"/>
<line x1="106.2" y1="397.3" x2="106.2" y2="398.3" stroke="#777" stroke-width="0.4"/>
<line x1="59.3" y1="371.2" x2="60.3" y2="371.2" stroke="#777" stroke-width="0.4"/>
<line x1="109.5" y1="397.3" x2="109.5" y2="398.3" stroke="#777" stroke-width="0.4"/>
<line x1="59.3" y1="374.5" x2="60.3" y2="374.5" stroke="#777" stroke-width="0.4"/>
<line x1="112.8" y1="397.3" x2="112.8" y2="398.3" stroke="#777" stroke-width="0.4"/>
<line x1="59.3" y1="377.8" x2="60.3" y2="377.8" stroke="#777" stroke-width="0.4"/>
<line x1="116.1" y1="397.3" x2="116.1" y2="398.3" stroke="#777" stroke-width="0.4"/>
<line x1="59.3" y1="381.1" x2="60.3" y2="381.1" stroke="#777" stroke-width="0.4"/>
<line x1="119.4" y1="397.3" x2="119.4" y2="398.3" stroke="#777" stroke-width="0.4"/>
<line x1="59.3" y1="384.4" x2="60.3" y2="384.4" stroke="#777" stroke-width="0.4"/>
<line x1="122.7" y1="397.3" x2="122.7" y2="398.3" stroke="#777" stroke-width="0.4"/>
<line x1="59.3" y1="387.7" x2="60.3" y2="387.7" stroke="#777" stroke-width="0.4"/>
<line x1="126.0" y1="397.3" x2="126.0" y2="398.3" stroke="#777" stroke-width="0.4"/>
<line x1="59.3" y1="391.0" x2="60.3" y2="391.0" stroke="#777" stroke-width="0.4"/>
<line x1="129.3" y1="397.3" x2="129.3" y2="398.3" stroke="#777" stroke-width="0.4"/>
<line x1="59.3" y1="394.3" x2="60.3" y2="394.3" stroke="#777" stroke-width="0.4"/>
<line x1="132.6" y1="397.3" x2="132.6" y2="398.3" stroke="#777" stroke-width="0.4"/>
<g clip-path="url(#cf38)">
<ellipse cx="110.3" cy="346.0" rx="12" ry="6.5" fill="#4f78d8" opacity="0.75" filter="url(#b15)" transform="rotate(-52 110.3 346.0)"/>
<ellipse cx="110.3" cy="346.0" rx="8" ry="5" fill="#39a0b8" opacity="0.9" filter="url(#b15)" transform="rotate(-52 110.3 346.0)"/>
<ellipse cx="110.3" cy="346.0" rx="4.5" ry="3.5" fill="#7ac040" opacity="0.95" filter="url(#b15)" transform="rotate(-52 110.3 346.0)"/>
<ellipse cx="109.8" cy="346.0" rx="2" ry="1.8" fill="#e8c030" opacity="1" filter="url(#b06)" transform="rotate(-52 109.8 346.0)"/>
<ellipse cx="116.3" cy="350.0" rx="12" ry="2.5" fill="#4a70d0" opacity="0.6" filter="url(#b15)" transform="rotate(-52 116.3 350.0)"/>
<rect x="114.6" y="346.0" width="0.8" height="0.8" fill="#6a88d8" opacity="0.6"/>
<rect x="108.2" y="351.4" width="0.8" height="0.8" fill="#6a88d8" opacity="0.6"/>
<rect x="128.3" y="326.6" width="0.8" height="0.8" fill="#6a88d8" opacity="0.6"/>
<rect x="109.3" y="348.2" width="0.8" height="0.8" fill="#6a88d8" opacity="0.6"/>
<rect x="126.0" y="329.7" width="0.8" height="0.8" fill="#6a88d8" opacity="0.6"/>
<rect x="127.5" y="330.0" width="0.8" height="0.8" fill="#6a88d8" opacity="0.6"/>
<rect x="101.4" y="355.0" width="0.8" height="0.8" fill="#6a88d8" opacity="0.6"/>
<rect x="110.7" y="342.5" width="0.8" height="0.8" fill="#6a88d8" opacity="0.6"/>
<rect x="131.1" y="329.0" width="0.8" height="0.8" fill="#6a88d8" opacity="0.6"/>
<rect x="107.6" y="361.2" width="0.8" height="0.8" fill="#6a88d8" opacity="0.6"/>
<rect x="131.6" y="329.2" width="0.8" height="0.8" fill="#6a88d8" opacity="0.6"/>
<rect x="128.3" y="334.6" width="0.8" height="0.8" fill="#6a88d8" opacity="0.6"/>
<rect x="132.1" y="334.7" width="0.8" height="0.8" fill="#6a88d8" opacity="0.6"/>
<rect x="129.3" y="334.8" width="0.8" height="0.8" fill="#6a88d8" opacity="0.6"/>
<rect x="109.9" y="350.7" width="0.8" height="0.8" fill="#6a88d8" opacity="0.6"/>
<rect x="102.7" y="354.5" width="0.8" height="0.8" fill="#6a88d8" opacity="0.6"/>
<rect x="103.1" y="354.3" width="0.8" height="0.8" fill="#6a88d8" opacity="0.6"/>
<rect x="119.7" y="350.1" width="0.8" height="0.8" fill="#6a88d8" opacity="0.6"/>
<rect x="131.7" y="327.9" width="0.8" height="0.8" fill="#6a88d8" opacity="0.6"/>
<rect x="112.0" y="345.2" width="0.8" height="0.8" fill="#6a88d8" opacity="0.6"/>
<rect x="98.5" y="356.5" width="0.8" height="0.8" fill="#6a88d8" opacity="0.6"/>
<rect x="115.7" y="339.1" width="0.8" height="0.8" fill="#6a88d8" opacity="0.6"/>
<rect x="101.8" y="357.8" width="0.8" height="0.8" fill="#6a88d8" opacity="0.6"/>
<rect x="124.5" y="330.9" width="0.8" height="0.8" fill="#6a88d8" opacity="0.6"/>
<rect x="121.2" y="351.5" width="0.8" height="0.8" fill="#6a88d8" opacity="0.6"/>
<rect x="133.7" y="332.4" width="0.8" height="0.8" fill="#6a88d8" opacity="0.6"/>
<rect x="112.6" y="352.1" width="0.8" height="0.8" fill="#6a88d8" opacity="0.6"/>
<rect x="115.2" y="341.9" width="0.8" height="0.8" fill="#6a88d8" opacity="0.6"/>
<rect x="117.8" y="341.6" width="0.8" height="0.8" fill="#6a88d8" opacity="0.6"/>
<rect x="100.3" y="359.7" width="0.8" height="0.8" fill="#6a88d8" opacity="0.6"/>
<rect x="100.5" y="353.0" width="0.8" height="0.8" fill="#6a88d8" opacity="0.6"/>
<rect x="125.7" y="339.2" width="0.8" height="0.8" fill="#6a88d8" opacity="0.6"/>
<rect x="103.3" y="357.9" width="0.8" height="0.8" fill="#6a88d8" opacity="0.6"/>
<rect x="98.8" y="359.6" width="0.8" height="0.8" fill="#6a88d8" opacity="0.6"/>
<rect x="120.5" y="349.7" width="0.8" height="0.8" fill="#6a88d8" opacity="0.6"/>
<rect x="109.8" y="343.0" width="0.8" height="0.8" fill="#6a88d8" opacity="0.6"/>
<rect x="124.9" y="333.8" width="0.8" height="0.8" fill="#6a88d8" opacity="0.6"/>
<rect x="130.8" y="329.0" width="0.8" height="0.8" fill="#6a88d8" opacity="0.6"/>
<rect x="121.8" y="339.0" width="0.8" height="0.8" fill="#6a88d8" opacity="0.6"/>
<rect x="126.0" y="336.3" width="0.8" height="0.8" fill="#6a88d8" opacity="0.6"/>
<rect x="104.2" y="361.8" width="0.8" height="0.8" fill="#6a88d8" opacity="0.6"/>
<rect x="112.6" y="358.0" width="0.8" height="0.8" fill="#6a88d8" opacity="0.6"/>
<rect x="109.6" y="344.1" width="0.8" height="0.8" fill="#6a88d8" opacity="0.6"/>
<rect x="111.1" y="352.2" width="0.8" height="0.8" fill="#6a88d8" opacity="0.6"/>
<rect x="109.4" y="354.5" width="0.8" height="0.8" fill="#6a88d8" opacity="0.6"/>
<rect x="123.7" y="323.6" width="0.8" height="0.8" fill="#6a88d8" opacity="0.6"/>
<rect x="104.9" y="363.4" width="0.8" height="0.8" fill="#6a88d8" opacity="0.6"/>
<rect x="114.8" y="355.2" width="0.8" height="0.8" fill="#6a88d8" opacity="0.6"/>
<rect x="123.0" y="332.6" width="0.8" height="0.8" fill="#6a88d8" opacity="0.6"/>
<rect x="123.4" y="340.4" width="0.8" height="0.8" fill="#6a88d8" opacity="0.6"/>
<rect x="112.2" y="345.9" width="0.8" height="0.8" fill="#6a88d8" opacity="0.6"/>
<rect x="125.8" y="331.1" width="0.8" height="0.8" fill="#6a88d8" opacity="0.6"/>
<rect x="118.7" y="339.6" width="0.8" height="0.8" fill="#6a88d8" opacity="0.6"/>
<rect x="123.0" y="342.1" width="0.8" height="0.8" fill="#6a88d8" opacity="0.6"/>
<rect x="135.4" y="334.5" width="0.8" height="0.8" fill="#6a88d8" opacity="0.6"/>
<rect x="118.9" y="341.7" width="0.8" height="0.8" fill="#6a88d8" opacity="0.6"/>
<rect x="98.2" y="357.6" width="0.8" height="0.8" fill="#6a88d8" opacity="0.6"/>
<rect x="107.5" y="361.2" width="0.8" height="0.8" fill="#6a88d8" opacity="0.6"/>
<rect x="114.1" y="337.5" width="0.8" height="0.8" fill="#6a88d8" opacity="0.6"/>
<rect x="99.6" y="359.7" width="0.8" height="0.8" fill="#6a88d8" opacity="0.6"/>
</g>
<polygon points="94.5,362.7 98.4,350.4 108.1,333.4 123.5,323.7 129.7,323.4 128.0,328.8 104.1,361.2" fill="none" stroke="#3a3a3a" stroke-width="0.8"/>
<polygon points="99.6,368.9 132.6,328.3 133.9,330.0 133.7,339.1 122.3,353.9 105.3,366.9" fill="none" stroke="#3a3a3a" stroke-width="0.8"/>
<text x="65.3" y="330.6" font-size="3.6" text-anchor="start" fill="#333">Polarized</text>
<text x="65.3" y="335.5" font-size="3.6" text-anchor="start" fill="#333">95.2%</text>
<text x="111.3" y="389.0" font-size="3.6" text-anchor="start" fill="#333">Depolarized</text>
<text x="111.3" y="394.0" font-size="3.6" text-anchor="start" fill="#333">4.22%</text>
<rect x="146.5" y="322.0" width="75.3" height="75.3" fill="#fff" stroke="#5a5a5a" stroke-width="0.9"/>
<line x1="146.5" y1="321.6" x2="146.5" y2="397.7" stroke="#333" stroke-width="1"/>
<line x1="146.1" y1="397.3" x2="222.2" y2="397.3" stroke="#333" stroke-width="1"/>
<line x1="144.7" y1="395.5" x2="146.5" y2="395.5" stroke="#444" stroke-width="0.6"/>
<text x="143.3" y="397.1" font-size="4.2" text-anchor="end" fill="#555">10<tspan font-size="3" dy="-2">1</tspan></text>
<line x1="144.7" y1="385.2" x2="146.5" y2="385.2" stroke="#444" stroke-width="0.6"/>
<text x="143.3" y="386.9" font-size="4.2" text-anchor="end" fill="#555">10<tspan font-size="3" dy="-2">2</tspan></text>
<line x1="144.7" y1="375.0" x2="146.5" y2="375.0" stroke="#444" stroke-width="0.6"/>
<text x="143.3" y="376.6" font-size="4.2" text-anchor="end" fill="#555">10<tspan font-size="3" dy="-2">3</tspan></text>
<line x1="144.7" y1="364.8" x2="146.5" y2="364.8" stroke="#444" stroke-width="0.6"/>
<text x="143.3" y="366.4" font-size="4.2" text-anchor="end" fill="#555">10<tspan font-size="3" dy="-2">4</tspan></text>
<line x1="144.7" y1="354.5" x2="146.5" y2="354.5" stroke="#444" stroke-width="0.6"/>
<text x="143.3" y="356.1" font-size="4.2" text-anchor="end" fill="#555">10<tspan font-size="3" dy="-2">5</tspan></text>
<line x1="144.7" y1="344.2" x2="146.5" y2="344.2" stroke="#444" stroke-width="0.6"/>
<text x="143.3" y="345.9" font-size="4.2" text-anchor="end" fill="#555">10<tspan font-size="3" dy="-2">6</tspan></text>
<line x1="144.7" y1="334.0" x2="146.5" y2="334.0" stroke="#444" stroke-width="0.6"/>
<text x="143.3" y="335.6" font-size="4.2" text-anchor="end" fill="#555">10<tspan font-size="3" dy="-2">7</tspan></text>
<line x1="144.7" y1="323.8" x2="146.5" y2="323.8" stroke="#444" stroke-width="0.6"/>
<text x="143.3" y="325.4" font-size="4.2" text-anchor="end" fill="#555">10<tspan font-size="3" dy="-2">8</tspan></text>
<line x1="150.5" y1="397.3" x2="150.5" y2="399.1" stroke="#444" stroke-width="0.6"/>
<text x="150.0" y="404.8" font-size="4.2" text-anchor="middle" fill="#555">10<tspan font-size="3" dy="-2">1</tspan></text>
<line x1="158.0" y1="397.3" x2="158.0" y2="399.1" stroke="#444" stroke-width="0.6"/>
<text x="157.5" y="404.8" font-size="4.2" text-anchor="middle" fill="#555">10<tspan font-size="3" dy="-2">2</tspan></text>
<line x1="168.0" y1="397.3" x2="168.0" y2="399.1" stroke="#444" stroke-width="0.6"/>
<text x="167.5" y="404.8" font-size="4.2" text-anchor="middle" fill="#555">10<tspan font-size="3" dy="-2">3</tspan></text>
<line x1="177.5" y1="397.3" x2="177.5" y2="399.1" stroke="#444" stroke-width="0.6"/>
<text x="177.0" y="404.8" font-size="4.2" text-anchor="middle" fill="#555">10<tspan font-size="3" dy="-2">4</tspan></text>
<line x1="187.0" y1="397.3" x2="187.0" y2="399.1" stroke="#444" stroke-width="0.6"/>
<text x="186.5" y="404.8" font-size="4.2" text-anchor="middle" fill="#555">10<tspan font-size="3" dy="-2">5</tspan></text>
<line x1="196.5" y1="397.3" x2="196.5" y2="399.1" stroke="#444" stroke-width="0.6"/>
<text x="196.0" y="404.8" font-size="4.2" text-anchor="middle" fill="#555">10<tspan font-size="3" dy="-2">6</tspan></text>
<line x1="206.0" y1="397.3" x2="206.0" y2="399.1" stroke="#444" stroke-width="0.6"/>
<text x="205.5" y="404.8" font-size="4.2" text-anchor="middle" fill="#555">10<tspan font-size="3" dy="-2">7</tspan></text>
<line x1="215.5" y1="397.3" x2="215.5" y2="399.1" stroke="#444" stroke-width="0.6"/>
<text x="215.0" y="404.8" font-size="4.2" text-anchor="middle" fill="#555">10<tspan font-size="3" dy="-2">8</tspan></text>
<line x1="145.5" y1="325.0" x2="146.5" y2="325.0" stroke="#777" stroke-width="0.4"/>
<line x1="149.5" y1="397.3" x2="149.5" y2="398.3" stroke="#777" stroke-width="0.4"/>
<line x1="145.5" y1="328.3" x2="146.5" y2="328.3" stroke="#777" stroke-width="0.4"/>
<line x1="152.8" y1="397.3" x2="152.8" y2="398.3" stroke="#777" stroke-width="0.4"/>
<line x1="145.5" y1="331.6" x2="146.5" y2="331.6" stroke="#777" stroke-width="0.4"/>
<line x1="156.1" y1="397.3" x2="156.1" y2="398.3" stroke="#777" stroke-width="0.4"/>
<line x1="145.5" y1="334.9" x2="146.5" y2="334.9" stroke="#777" stroke-width="0.4"/>
<line x1="159.4" y1="397.3" x2="159.4" y2="398.3" stroke="#777" stroke-width="0.4"/>
<line x1="145.5" y1="338.2" x2="146.5" y2="338.2" stroke="#777" stroke-width="0.4"/>
<line x1="162.7" y1="397.3" x2="162.7" y2="398.3" stroke="#777" stroke-width="0.4"/>
<line x1="145.5" y1="341.5" x2="146.5" y2="341.5" stroke="#777" stroke-width="0.4"/>
<line x1="166.0" y1="397.3" x2="166.0" y2="398.3" stroke="#777" stroke-width="0.4"/>
<line x1="145.5" y1="344.8" x2="146.5" y2="344.8" stroke="#777" stroke-width="0.4"/>
<line x1="169.3" y1="397.3" x2="169.3" y2="398.3" stroke="#777" stroke-width="0.4"/>
<line x1="145.5" y1="348.1" x2="146.5" y2="348.1" stroke="#777" stroke-width="0.4"/>
<line x1="172.6" y1="397.3" x2="172.6" y2="398.3" stroke="#777" stroke-width="0.4"/>
<line x1="145.5" y1="351.4" x2="146.5" y2="351.4" stroke="#777" stroke-width="0.4"/>
<line x1="175.9" y1="397.3" x2="175.9" y2="398.3" stroke="#777" stroke-width="0.4"/>
<line x1="145.5" y1="354.7" x2="146.5" y2="354.7" stroke="#777" stroke-width="0.4"/>
<line x1="179.2" y1="397.3" x2="179.2" y2="398.3" stroke="#777" stroke-width="0.4"/>
<line x1="145.5" y1="358.0" x2="146.5" y2="358.0" stroke="#777" stroke-width="0.4"/>
<line x1="182.5" y1="397.3" x2="182.5" y2="398.3" stroke="#777" stroke-width="0.4"/>
<line x1="145.5" y1="361.3" x2="146.5" y2="361.3" stroke="#777" stroke-width="0.4"/>
<line x1="185.8" y1="397.3" x2="185.8" y2="398.3" stroke="#777" stroke-width="0.4"/>
<line x1="145.5" y1="364.6" x2="146.5" y2="364.6" stroke="#777" stroke-width="0.4"/>
<line x1="189.1" y1="397.3" x2="189.1" y2="398.3" stroke="#777" stroke-width="0.4"/>
<line x1="145.5" y1="367.9" x2="146.5" y2="367.9" stroke="#777" stroke-width="0.4"/>
<line x1="192.4" y1="397.3" x2="192.4" y2="398.3" stroke="#777" stroke-width="0.4"/>
<line x1="145.5" y1="371.2" x2="146.5" y2="371.2" stroke="#777" stroke-width="0.4"/>
<line x1="195.7" y1="397.3" x2="195.7" y2="398.3" stroke="#777" stroke-width="0.4"/>
<line x1="145.5" y1="374.5" x2="146.5" y2="374.5" stroke="#777" stroke-width="0.4"/>
<line x1="199.0" y1="397.3" x2="199.0" y2="398.3" stroke="#777" stroke-width="0.4"/>
<line x1="145.5" y1="377.8" x2="146.5" y2="377.8" stroke="#777" stroke-width="0.4"/>
<line x1="202.3" y1="397.3" x2="202.3" y2="398.3" stroke="#777" stroke-width="0.4"/>
<line x1="145.5" y1="381.1" x2="146.5" y2="381.1" stroke="#777" stroke-width="0.4"/>
<line x1="205.6" y1="397.3" x2="205.6" y2="398.3" stroke="#777" stroke-width="0.4"/>
<line x1="145.5" y1="384.4" x2="146.5" y2="384.4" stroke="#777" stroke-width="0.4"/>
<line x1="208.9" y1="397.3" x2="208.9" y2="398.3" stroke="#777" stroke-width="0.4"/>
<line x1="145.5" y1="387.7" x2="146.5" y2="387.7" stroke="#777" stroke-width="0.4"/>
<line x1="212.2" y1="397.3" x2="212.2" y2="398.3" stroke="#777" stroke-width="0.4"/>
<line x1="145.5" y1="391.0" x2="146.5" y2="391.0" stroke="#777" stroke-width="0.4"/>
<line x1="215.5" y1="397.3" x2="215.5" y2="398.3" stroke="#777" stroke-width="0.4"/>
<line x1="145.5" y1="394.3" x2="146.5" y2="394.3" stroke="#777" stroke-width="0.4"/>
<line x1="218.8" y1="397.3" x2="218.8" y2="398.3" stroke="#777" stroke-width="0.4"/>
<g clip-path="url(#cf39)">
<ellipse cx="196.5" cy="348.0" rx="12" ry="6.5" fill="#4f78d8" opacity="0.75" filter="url(#b15)" transform="rotate(-52 196.5 348.0)"/>
<ellipse cx="195.5" cy="348.0" rx="7" ry="4.5" fill="#39a0b8" opacity="0.85" filter="url(#b15)" transform="rotate(-52 195.5 348.0)"/>
<ellipse cx="194.5" cy="348.0" rx="4" ry="3" fill="#7ac040" opacity="0.95" filter="url(#b15)" transform="rotate(-52 194.5 348.0)"/>
<ellipse cx="194.0" cy="348.0" rx="1.8" ry="1.8" fill="#f0c030" opacity="1" filter="url(#b06)" transform="rotate(-52 194.0 348.0)"/>
<ellipse cx="202.5" cy="352.0" rx="12" ry="3" fill="#45a088" opacity="0.7" filter="url(#b15)" transform="rotate(-52 202.5 352.0)"/>
<rect x="207.7" y="342.1" width="0.8" height="0.8" fill="#6a88d8" opacity="0.6"/>
<rect x="205.6" y="334.5" width="0.8" height="0.8" fill="#6a88d8" opacity="0.6"/>
<rect x="209.5" y="323.9" width="0.8" height="0.8" fill="#6a88d8" opacity="0.6"/>
<rect x="207.7" y="335.2" width="0.8" height="0.8" fill="#6a88d8" opacity="0.6"/>
<rect x="214.1" y="332.7" width="0.8" height="0.8" fill="#6a88d8" opacity="0.6"/>
<rect x="216.8" y="326.5" width="0.8" height="0.8" fill="#6a88d8" opacity="0.6"/>
<rect x="208.5" y="334.8" width="0.8" height="0.8" fill="#6a88d8" opacity="0.6"/>
<rect x="196.8" y="360.3" width="0.8" height="0.8" fill="#6a88d8" opacity="0.6"/>
<rect x="195.2" y="347.2" width="0.8" height="0.8" fill="#6a88d8" opacity="0.6"/>
<rect x="191.5" y="357.7" width="0.8" height="0.8" fill="#6a88d8" opacity="0.6"/>
<rect x="200.1" y="342.3" width="0.8" height="0.8" fill="#6a88d8" opacity="0.6"/>
<rect x="204.1" y="336.3" width="0.8" height="0.8" fill="#6a88d8" opacity="0.6"/>
<rect x="218.4" y="328.7" width="0.8" height="0.8" fill="#6a88d8" opacity="0.6"/>
<rect x="190.1" y="359.5" width="0.8" height="0.8" fill="#6a88d8" opacity="0.6"/>
<rect x="203.9" y="335.1" width="0.8" height="0.8" fill="#6a88d8" opacity="0.6"/>
<rect x="195.7" y="354.6" width="0.8" height="0.8" fill="#6a88d8" opacity="0.6"/>
<rect x="210.0" y="334.2" width="0.8" height="0.8" fill="#6a88d8" opacity="0.6"/>
<rect x="207.8" y="329.4" width="0.8" height="0.8" fill="#6a88d8" opacity="0.6"/>
<rect x="189.0" y="349.9" width="0.8" height="0.8" fill="#6a88d8" opacity="0.6"/>
<rect x="199.9" y="359.4" width="0.8" height="0.8" fill="#6a88d8" opacity="0.6"/>
<rect x="195.4" y="360.8" width="0.8" height="0.8" fill="#6a88d8" opacity="0.6"/>
<rect x="212.1" y="333.3" width="0.8" height="0.8" fill="#6a88d8" opacity="0.6"/>
<rect x="184.9" y="357.5" width="0.8" height="0.8" fill="#6a88d8" opacity="0.6"/>
<rect x="196.8" y="350.6" width="0.8" height="0.8" fill="#6a88d8" opacity="0.6"/>
<rect x="192.2" y="352.4" width="0.8" height="0.8" fill="#6a88d8" opacity="0.6"/>
<rect x="215.3" y="329.8" width="0.8" height="0.8" fill="#6a88d8" opacity="0.6"/>
<rect x="188.1" y="351.1" width="0.8" height="0.8" fill="#6a88d8" opacity="0.6"/>
<rect x="205.2" y="337.5" width="0.8" height="0.8" fill="#6a88d8" opacity="0.6"/>
<rect x="193.4" y="338.7" width="0.8" height="0.8" fill="#6a88d8" opacity="0.6"/>
<rect x="190.6" y="354.8" width="0.8" height="0.8" fill="#6a88d8" opacity="0.6"/>
<rect x="190.9" y="353.4" width="0.8" height="0.8" fill="#6a88d8" opacity="0.6"/>
<rect x="204.1" y="350.9" width="0.8" height="0.8" fill="#6a88d8" opacity="0.6"/>
<rect x="199.6" y="349.2" width="0.8" height="0.8" fill="#6a88d8" opacity="0.6"/>
<rect x="206.8" y="339.2" width="0.8" height="0.8" fill="#6a88d8" opacity="0.6"/>
<rect x="191.1" y="351.8" width="0.8" height="0.8" fill="#6a88d8" opacity="0.6"/>
<rect x="196.4" y="351.3" width="0.8" height="0.8" fill="#6a88d8" opacity="0.6"/>
<rect x="195.9" y="358.3" width="0.8" height="0.8" fill="#6a88d8" opacity="0.6"/>
<rect x="198.7" y="342.4" width="0.8" height="0.8" fill="#6a88d8" opacity="0.6"/>
<rect x="195.5" y="355.6" width="0.8" height="0.8" fill="#6a88d8" opacity="0.6"/>
<rect x="187.1" y="354.2" width="0.8" height="0.8" fill="#6a88d8" opacity="0.6"/>
<rect x="194.6" y="357.8" width="0.8" height="0.8" fill="#6a88d8" opacity="0.6"/>
<rect x="198.0" y="346.5" width="0.8" height="0.8" fill="#6a88d8" opacity="0.6"/>
<rect x="191.0" y="360.0" width="0.8" height="0.8" fill="#6a88d8" opacity="0.6"/>
<rect x="201.7" y="340.3" width="0.8" height="0.8" fill="#6a88d8" opacity="0.6"/>
<rect x="205.2" y="333.4" width="0.8" height="0.8" fill="#6a88d8" opacity="0.6"/>
<rect x="193.6" y="352.0" width="0.8" height="0.8" fill="#6a88d8" opacity="0.6"/>
<rect x="207.1" y="336.9" width="0.8" height="0.8" fill="#6a88d8" opacity="0.6"/>
<rect x="219.6" y="331.3" width="0.8" height="0.8" fill="#6a88d8" opacity="0.6"/>
<rect x="212.2" y="327.1" width="0.8" height="0.8" fill="#6a88d8" opacity="0.6"/>
<rect x="187.5" y="353.1" width="0.8" height="0.8" fill="#6a88d8" opacity="0.6"/>
<rect x="213.3" y="334.8" width="0.8" height="0.8" fill="#6a88d8" opacity="0.6"/>
<rect x="186.8" y="358.4" width="0.8" height="0.8" fill="#6a88d8" opacity="0.6"/>
<rect x="196.9" y="338.1" width="0.8" height="0.8" fill="#6a88d8" opacity="0.6"/>
<rect x="211.7" y="337.1" width="0.8" height="0.8" fill="#6a88d8" opacity="0.6"/>
<rect x="195.9" y="343.4" width="0.8" height="0.8" fill="#6a88d8" opacity="0.6"/>
<rect x="205.6" y="337.6" width="0.8" height="0.8" fill="#6a88d8" opacity="0.6"/>
<rect x="204.5" y="338.0" width="0.8" height="0.8" fill="#6a88d8" opacity="0.6"/>
<rect x="208.8" y="331.5" width="0.8" height="0.8" fill="#6a88d8" opacity="0.6"/>
<rect x="187.8" y="359.8" width="0.8" height="0.8" fill="#6a88d8" opacity="0.6"/>
<rect x="191.3" y="364.5" width="0.8" height="0.8" fill="#6a88d8" opacity="0.6"/>
</g>
<polygon points="180.7,362.7 184.6,350.4 194.3,333.4 209.7,323.7 215.9,323.4 214.2,328.8 190.3,361.2" fill="none" stroke="#3a3a3a" stroke-width="0.8"/>
<polygon points="185.8,368.9 218.8,328.3 220.1,330.0 219.9,339.1 208.5,353.9 191.5,366.9" fill="none" stroke="#3a3a3a" stroke-width="0.8"/>
<text x="151.5" y="330.6" font-size="3.6" text-anchor="start" fill="#333">Polarized</text>
<text x="151.5" y="335.5" font-size="3.6" text-anchor="start" fill="#333">74.9%</text>
<text x="197.5" y="389.0" font-size="3.6" text-anchor="start" fill="#333">Depolarized</text>
<text x="197.5" y="394.0" font-size="3.6" text-anchor="start" fill="#333">20.7%</text>
<rect x="233.2" y="322.0" width="75.3" height="75.3" fill="#fff" stroke="#5a5a5a" stroke-width="0.9"/>
<line x1="233.2" y1="321.6" x2="233.2" y2="397.7" stroke="#333" stroke-width="1"/>
<line x1="232.8" y1="397.3" x2="308.9" y2="397.3" stroke="#333" stroke-width="1"/>
<line x1="231.4" y1="395.5" x2="233.2" y2="395.5" stroke="#444" stroke-width="0.6"/>
<text x="230.0" y="397.1" font-size="4.2" text-anchor="end" fill="#555">10<tspan font-size="3" dy="-2">1</tspan></text>
<line x1="231.4" y1="385.2" x2="233.2" y2="385.2" stroke="#444" stroke-width="0.6"/>
<text x="230.0" y="386.9" font-size="4.2" text-anchor="end" fill="#555">10<tspan font-size="3" dy="-2">2</tspan></text>
<line x1="231.4" y1="375.0" x2="233.2" y2="375.0" stroke="#444" stroke-width="0.6"/>
<text x="230.0" y="376.6" font-size="4.2" text-anchor="end" fill="#555">10<tspan font-size="3" dy="-2">3</tspan></text>
<line x1="231.4" y1="364.8" x2="233.2" y2="364.8" stroke="#444" stroke-width="0.6"/>
<text x="230.0" y="366.4" font-size="4.2" text-anchor="end" fill="#555">10<tspan font-size="3" dy="-2">4</tspan></text>
<line x1="231.4" y1="354.5" x2="233.2" y2="354.5" stroke="#444" stroke-width="0.6"/>
<text x="230.0" y="356.1" font-size="4.2" text-anchor="end" fill="#555">10<tspan font-size="3" dy="-2">5</tspan></text>
<line x1="231.4" y1="344.2" x2="233.2" y2="344.2" stroke="#444" stroke-width="0.6"/>
<text x="230.0" y="345.9" font-size="4.2" text-anchor="end" fill="#555">10<tspan font-size="3" dy="-2">6</tspan></text>
<line x1="231.4" y1="334.0" x2="233.2" y2="334.0" stroke="#444" stroke-width="0.6"/>
<text x="230.0" y="335.6" font-size="4.2" text-anchor="end" fill="#555">10<tspan font-size="3" dy="-2">7</tspan></text>
<line x1="231.4" y1="323.8" x2="233.2" y2="323.8" stroke="#444" stroke-width="0.6"/>
<text x="230.0" y="325.4" font-size="4.2" text-anchor="end" fill="#555">10<tspan font-size="3" dy="-2">8</tspan></text>
<line x1="237.2" y1="397.3" x2="237.2" y2="399.1" stroke="#444" stroke-width="0.6"/>
<text x="236.7" y="404.8" font-size="4.2" text-anchor="middle" fill="#555">10<tspan font-size="3" dy="-2">1</tspan></text>
<line x1="244.7" y1="397.3" x2="244.7" y2="399.1" stroke="#444" stroke-width="0.6"/>
<text x="244.2" y="404.8" font-size="4.2" text-anchor="middle" fill="#555">10<tspan font-size="3" dy="-2">2</tspan></text>
<line x1="254.7" y1="397.3" x2="254.7" y2="399.1" stroke="#444" stroke-width="0.6"/>
<text x="254.2" y="404.8" font-size="4.2" text-anchor="middle" fill="#555">10<tspan font-size="3" dy="-2">3</tspan></text>
<line x1="264.2" y1="397.3" x2="264.2" y2="399.1" stroke="#444" stroke-width="0.6"/>
<text x="263.7" y="404.8" font-size="4.2" text-anchor="middle" fill="#555">10<tspan font-size="3" dy="-2">4</tspan></text>
<line x1="273.7" y1="397.3" x2="273.7" y2="399.1" stroke="#444" stroke-width="0.6"/>
<text x="273.2" y="404.8" font-size="4.2" text-anchor="middle" fill="#555">10<tspan font-size="3" dy="-2">5</tspan></text>
<line x1="283.2" y1="397.3" x2="283.2" y2="399.1" stroke="#444" stroke-width="0.6"/>
<text x="282.7" y="404.8" font-size="4.2" text-anchor="middle" fill="#555">10<tspan font-size="3" dy="-2">6</tspan></text>
<line x1="292.7" y1="397.3" x2="292.7" y2="399.1" stroke="#444" stroke-width="0.6"/>
<text x="292.2" y="404.8" font-size="4.2" text-anchor="middle" fill="#555">10<tspan font-size="3" dy="-2">7</tspan></text>
<line x1="302.2" y1="397.3" x2="302.2" y2="399.1" stroke="#444" stroke-width="0.6"/>
<text x="301.7" y="404.8" font-size="4.2" text-anchor="middle" fill="#555">10<tspan font-size="3" dy="-2">8</tspan></text>
<line x1="232.2" y1="325.0" x2="233.2" y2="325.0" stroke="#777" stroke-width="0.4"/>
<line x1="236.2" y1="397.3" x2="236.2" y2="398.3" stroke="#777" stroke-width="0.4"/>
<line x1="232.2" y1="328.3" x2="233.2" y2="328.3" stroke="#777" stroke-width="0.4"/>
<line x1="239.5" y1="397.3" x2="239.5" y2="398.3" stroke="#777" stroke-width="0.4"/>
<line x1="232.2" y1="331.6" x2="233.2" y2="331.6" stroke="#777" stroke-width="0.4"/>
<line x1="242.8" y1="397.3" x2="242.8" y2="398.3" stroke="#777" stroke-width="0.4"/>
<line x1="232.2" y1="334.9" x2="233.2" y2="334.9" stroke="#777" stroke-width="0.4"/>
<line x1="246.1" y1="397.3" x2="246.1" y2="398.3" stroke="#777" stroke-width="0.4"/>
<line x1="232.2" y1="338.2" x2="233.2" y2="338.2" stroke="#777" stroke-width="0.4"/>
<line x1="249.4" y1="397.3" x2="249.4" y2="398.3" stroke="#777" stroke-width="0.4"/>
<line x1="232.2" y1="341.5" x2="233.2" y2="341.5" stroke="#777" stroke-width="0.4"/>
<line x1="252.7" y1="397.3" x2="252.7" y2="398.3" stroke="#777" stroke-width="0.4"/>
<line x1="232.2" y1="344.8" x2="233.2" y2="344.8" stroke="#777" stroke-width="0.4"/>
<line x1="256.0" y1="397.3" x2="256.0" y2="398.3" stroke="#777" stroke-width="0.4"/>
<line x1="232.2" y1="348.1" x2="233.2" y2="348.1" stroke="#777" stroke-width="0.4"/>
<line x1="259.3" y1="397.3" x2="259.3" y2="398.3" stroke="#777" stroke-width="0.4"/>
<line x1="232.2" y1="351.4" x2="233.2" y2="351.4" stroke="#777" stroke-width="0.4"/>
<line x1="262.6" y1="397.3" x2="262.6" y2="398.3" stroke="#777" stroke-width="0.4"/>
<line x1="232.2" y1="354.7" x2="233.2" y2="354.7" stroke="#777" stroke-width="0.4"/>
<line x1="265.9" y1="397.3" x2="265.9" y2="398.3" stroke="#777" stroke-width="0.4"/>
<line x1="232.2" y1="358.0" x2="233.2" y2="358.0" stroke="#777" stroke-width="0.4"/>
<line x1="269.2" y1="397.3" x2="269.2" y2="398.3" stroke="#777" stroke-width="0.4"/>
<line x1="232.2" y1="361.3" x2="233.2" y2="361.3" stroke="#777" stroke-width="0.4"/>
<line x1="272.5" y1="397.3" x2="272.5" y2="398.3" stroke="#777" stroke-width="0.4"/>
<line x1="232.2" y1="364.6" x2="233.2" y2="364.6" stroke="#777" stroke-width="0.4"/>
<line x1="275.8" y1="397.3" x2="275.8" y2="398.3" stroke="#777" stroke-width="0.4"/>
<line x1="232.2" y1="367.9" x2="233.2" y2="367.9" stroke="#777" stroke-width="0.4"/>
<line x1="279.1" y1="397.3" x2="279.1" y2="398.3" stroke="#777" stroke-width="0.4"/>
<line x1="232.2" y1="371.2" x2="233.2" y2="371.2" stroke="#777" stroke-width="0.4"/>
<line x1="282.4" y1="397.3" x2="282.4" y2="398.3" stroke="#777" stroke-width="0.4"/>
<line x1="232.2" y1="374.5" x2="233.2" y2="374.5" stroke="#777" stroke-width="0.4"/>
<line x1="285.7" y1="397.3" x2="285.7" y2="398.3" stroke="#777" stroke-width="0.4"/>
<line x1="232.2" y1="377.8" x2="233.2" y2="377.8" stroke="#777" stroke-width="0.4"/>
<line x1="289.0" y1="397.3" x2="289.0" y2="398.3" stroke="#777" stroke-width="0.4"/>
<line x1="232.2" y1="381.1" x2="233.2" y2="381.1" stroke="#777" stroke-width="0.4"/>
<line x1="292.3" y1="397.3" x2="292.3" y2="398.3" stroke="#777" stroke-width="0.4"/>
<line x1="232.2" y1="384.4" x2="233.2" y2="384.4" stroke="#777" stroke-width="0.4"/>
<line x1="295.6" y1="397.3" x2="295.6" y2="398.3" stroke="#777" stroke-width="0.4"/>
<line x1="232.2" y1="387.7" x2="233.2" y2="387.7" stroke="#777" stroke-width="0.4"/>
<line x1="298.9" y1="397.3" x2="298.9" y2="398.3" stroke="#777" stroke-width="0.4"/>
<line x1="232.2" y1="391.0" x2="233.2" y2="391.0" stroke="#777" stroke-width="0.4"/>
<line x1="302.2" y1="397.3" x2="302.2" y2="398.3" stroke="#777" stroke-width="0.4"/>
<line x1="232.2" y1="394.3" x2="233.2" y2="394.3" stroke="#777" stroke-width="0.4"/>
<line x1="305.5" y1="397.3" x2="305.5" y2="398.3" stroke="#777" stroke-width="0.4"/>
<g clip-path="url(#cf40)">
<ellipse cx="285.2" cy="347.0" rx="13" ry="6.5" fill="#4f78d8" opacity="0.65" filter="url(#b15)" transform="rotate(-52 285.2 347.0)"/>
<ellipse cx="284.2" cy="348.0" rx="7" ry="4.5" fill="#39a0b8" opacity="0.85" filter="url(#b15)" transform="rotate(-52 284.2 348.0)"/>
<ellipse cx="283.2" cy="348.0" rx="4" ry="3" fill="#70c050" opacity="0.9" filter="url(#b15)" transform="rotate(-52 283.2 348.0)"/>
<ellipse cx="290.2" cy="352.0" rx="12" ry="3" fill="#3a9a90" opacity="0.7" filter="url(#b15)" transform="rotate(-52 290.2 352.0)"/>
<rect x="273.2" y="357.6" width="0.8" height="0.8" fill="#6a88d8" opacity="0.6"/>
<rect x="287.5" y="346.8" width="0.8" height="0.8" fill="#6a88d8" opacity="0.6"/>
<rect x="283.5" y="355.0" width="0.8" height="0.8" fill="#6a88d8" opacity="0.6"/>
<rect x="292.4" y="332.6" width="0.8" height="0.8" fill="#6a88d8" opacity="0.6"/>
<rect x="297.5" y="325.6" width="0.8" height="0.8" fill="#6a88d8" opacity="0.6"/>
<rect x="277.2" y="357.5" width="0.8" height="0.8" fill="#6a88d8" opacity="0.6"/>
<rect x="299.4" y="336.1" width="0.8" height="0.8" fill="#6a88d8" opacity="0.6"/>
<rect x="279.5" y="357.1" width="0.8" height="0.8" fill="#6a88d8" opacity="0.6"/>
<rect x="291.4" y="332.7" width="0.8" height="0.8" fill="#6a88d8" opacity="0.6"/>
<rect x="290.0" y="343.8" width="0.8" height="0.8" fill="#6a88d8" opacity="0.6"/>
<rect x="301.5" y="334.2" width="0.8" height="0.8" fill="#6a88d8" opacity="0.6"/>
<rect x="299.2" y="330.0" width="0.8" height="0.8" fill="#6a88d8" opacity="0.6"/>
<rect x="291.7" y="334.0" width="0.8" height="0.8" fill="#6a88d8" opacity="0.6"/>
<rect x="271.2" y="347.6" width="0.8" height="0.8" fill="#6a88d8" opacity="0.6"/>
<rect x="280.1" y="348.2" width="0.8" height="0.8" fill="#6a88d8" opacity="0.6"/>
<rect x="282.2" y="351.8" width="0.8" height="0.8" fill="#6a88d8" opacity="0.6"/>
<rect x="286.5" y="361.1" width="0.8" height="0.8" fill="#6a88d8" opacity="0.6"/>
<rect x="295.5" y="327.0" width="0.8" height="0.8" fill="#6a88d8" opacity="0.6"/>
<rect x="294.8" y="331.5" width="0.8" height="0.8" fill="#6a88d8" opacity="0.6"/>
<rect x="286.8" y="348.8" width="0.8" height="0.8" fill="#6a88d8" opacity="0.6"/>
<rect x="276.4" y="363.6" width="0.8" height="0.8" fill="#6a88d8" opacity="0.6"/>
<rect x="288.1" y="349.1" width="0.8" height="0.8" fill="#6a88d8" opacity="0.6"/>
<rect x="291.5" y="337.3" width="0.8" height="0.8" fill="#6a88d8" opacity="0.6"/>
<rect x="298.1" y="331.0" width="0.8" height="0.8" fill="#6a88d8" opacity="0.6"/>
<rect x="283.0" y="344.1" width="0.8" height="0.8" fill="#6a88d8" opacity="0.6"/>
<rect x="284.6" y="349.1" width="0.8" height="0.8" fill="#6a88d8" opacity="0.6"/>
<rect x="302.8" y="330.6" width="0.8" height="0.8" fill="#6a88d8" opacity="0.6"/>
<rect x="300.3" y="328.6" width="0.8" height="0.8" fill="#6a88d8" opacity="0.6"/>
<rect x="298.7" y="333.8" width="0.8" height="0.8" fill="#6a88d8" opacity="0.6"/>
<rect x="297.8" y="327.7" width="0.8" height="0.8" fill="#6a88d8" opacity="0.6"/>
<rect x="289.9" y="340.4" width="0.8" height="0.8" fill="#6a88d8" opacity="0.6"/>
<rect x="288.9" y="343.6" width="0.8" height="0.8" fill="#6a88d8" opacity="0.6"/>
<rect x="276.9" y="354.4" width="0.8" height="0.8" fill="#6a88d8" opacity="0.6"/>
<rect x="289.6" y="354.9" width="0.8" height="0.8" fill="#6a88d8" opacity="0.6"/>
<rect x="296.6" y="331.8" width="0.8" height="0.8" fill="#6a88d8" opacity="0.6"/>
<rect x="286.3" y="348.7" width="0.8" height="0.8" fill="#6a88d8" opacity="0.6"/>
<rect x="280.9" y="358.3" width="0.8" height="0.8" fill="#6a88d8" opacity="0.6"/>
<rect x="298.0" y="340.2" width="0.8" height="0.8" fill="#6a88d8" opacity="0.6"/>
<rect x="278.2" y="355.0" width="0.8" height="0.8" fill="#6a88d8" opacity="0.6"/>
<rect x="272.3" y="355.1" width="0.8" height="0.8" fill="#6a88d8" opacity="0.6"/>
<rect x="274.1" y="356.6" width="0.8" height="0.8" fill="#6a88d8" opacity="0.6"/>
<rect x="291.3" y="326.6" width="0.8" height="0.8" fill="#6a88d8" opacity="0.6"/>
<rect x="295.9" y="344.5" width="0.8" height="0.8" fill="#6a88d8" opacity="0.6"/>
<rect x="277.2" y="361.6" width="0.8" height="0.8" fill="#6a88d8" opacity="0.6"/>
<rect x="303.7" y="340.1" width="0.8" height="0.8" fill="#6a88d8" opacity="0.6"/>
<rect x="292.1" y="348.5" width="0.8" height="0.8" fill="#6a88d8" opacity="0.6"/>
<rect x="281.7" y="355.9" width="0.8" height="0.8" fill="#6a88d8" opacity="0.6"/>
<rect x="295.8" y="337.9" width="0.8" height="0.8" fill="#6a88d8" opacity="0.6"/>
<rect x="285.9" y="356.3" width="0.8" height="0.8" fill="#6a88d8" opacity="0.6"/>
<rect x="280.7" y="358.1" width="0.8" height="0.8" fill="#6a88d8" opacity="0.6"/>
<rect x="278.7" y="356.3" width="0.8" height="0.8" fill="#6a88d8" opacity="0.6"/>
<rect x="282.3" y="354.7" width="0.8" height="0.8" fill="#6a88d8" opacity="0.6"/>
<rect x="276.9" y="360.8" width="0.8" height="0.8" fill="#6a88d8" opacity="0.6"/>
<rect x="285.1" y="348.0" width="0.8" height="0.8" fill="#6a88d8" opacity="0.6"/>
<rect x="302.9" y="330.6" width="0.8" height="0.8" fill="#6a88d8" opacity="0.6"/>
<rect x="274.7" y="353.2" width="0.8" height="0.8" fill="#6a88d8" opacity="0.6"/>
<rect x="300.7" y="328.2" width="0.8" height="0.8" fill="#6a88d8" opacity="0.6"/>
<rect x="293.8" y="345.1" width="0.8" height="0.8" fill="#6a88d8" opacity="0.6"/>
<rect x="286.6" y="347.8" width="0.8" height="0.8" fill="#6a88d8" opacity="0.6"/>
<rect x="283.1" y="363.8" width="0.8" height="0.8" fill="#6a88d8" opacity="0.6"/>
</g>
<polygon points="267.4,362.7 271.3,350.4 281.0,333.4 296.4,323.7 302.6,323.4 300.9,328.8 277.0,361.2" fill="none" stroke="#3a3a3a" stroke-width="0.8"/>
<polygon points="272.5,368.9 305.5,328.3 306.8,330.0 306.6,339.1 295.2,353.9 278.2,366.9" fill="none" stroke="#3a3a3a" stroke-width="0.8"/>
<text x="238.2" y="330.6" font-size="3.6" text-anchor="start" fill="#333">Polarized</text>
<text x="238.2" y="335.5" font-size="3.6" text-anchor="start" fill="#333">40.4%</text>
<text x="284.2" y="389.0" font-size="3.6" text-anchor="start" fill="#333">Depolarized</text>
<text x="284.2" y="394.0" font-size="3.6" text-anchor="start" fill="#333">55.3%</text>
<text x="6.8" y="454.5" font-size="17" text-anchor="start" fill="#111" font-weight="bold">D</text>
<text x="171.4" y="471.8" font-size="12.6" text-anchor="middle" fill="#262626">Azelastine (μM)</text>
<line x1="72.8" y1="476.2" x2="262.5" y2="476.2" stroke="#333" stroke-width="1.3"/>
<text x="73.9" y="489.5" font-size="12.6" text-anchor="middle" fill="#262626">0</text>
<text x="166.9" y="489.5" font-size="12.6" text-anchor="middle" fill="#262626">10</text>
<text x="258.3" y="489.5" font-size="12.6" text-anchor="middle" fill="#262626">20</text>
<text x="0" y="0" font-size="12.6" text-anchor="middle" fill="#262626" textLength="28.9" lengthAdjust="spacingAndGlyphs" transform="translate(28.0,524.2) rotate(-90)">HT29</text>
<text x="0" y="0" font-size="12.6" text-anchor="middle" fill="#262626" textLength="28.8" lengthAdjust="spacingAndGlyphs" transform="translate(28.0,596.7) rotate(-90)">DLD1</text>
<g clip-path="url(#ce41)">
<rect x="29.6" y="491.5" width="89.5" height="66.9" fill="rgb(140,143,148)" stroke="none" stroke-width="1"/>
<rect x="29.6" y="491.5" width="89.5" height="66.9" fill="#808080" stroke="none" stroke-width="1" filter="url(#emm1)" opacity="0.35"/>
<rect x="29.6" y="491.5" width="89.5" height="66.9" fill="#808080" stroke="none" stroke-width="1" filter="url(#emn1)" opacity="0.5"/>
<ellipse cx="73.6" cy="503.5" rx="7" ry="9" fill="#606060" opacity="0.81" filter="url(#b1)" transform="rotate(0 73.6 503.5)"/>
<ellipse cx="52.6" cy="509.7" rx="8" ry="6" fill="#666" opacity="0.63" filter="url(#b1)" transform="rotate(0 52.6 509.7)"/>
<ellipse cx="71.1" cy="520.8" rx="8" ry="7" fill="#606060" opacity="0.7200000000000001" filter="url(#b1)" transform="rotate(0 71.1 520.8)"/>
<ellipse cx="85.9" cy="549.1" rx="8" ry="6" fill="#5a5a5a" opacity="0.9" filter="url(#b1)" transform="rotate(0 85.9 549.1)"/>
<ellipse cx="97" cy="527" rx="7" ry="6" fill="#666" opacity="0.63" filter="url(#b1)" transform="rotate(0 97 527)"/>
<ellipse cx="55" cy="500" rx="2" ry="2" fill="#ddd" opacity="0.6" filter="url(#b1)" transform="rotate(0 55 500)"/>
<ellipse cx="86" cy="525" rx="2" ry="2" fill="#ddd" opacity="0.6" filter="url(#b1)" transform="rotate(0 86 525)"/>
<ellipse cx="82" cy="513" rx="1.8" ry="1.8" fill="#ddd" opacity="0.6" filter="url(#b1)" transform="rotate(0 82 513)"/>
<rect x="29.6" y="491.5" width="89.5" height="66.9" fill="#808080" stroke="none" stroke-width="1" filter="url(#emn2)" opacity="0.22"/>
<line x1="56.3" y1="538" x2="64.3" y2="533.1" stroke="#111" stroke-width="2.2" marker-end="url(#ah)"/>
<line x1="65" y1="554.7" x2="74.8" y2="552.2" stroke="#111" stroke-width="2.2" marker-end="url(#ah)"/>
<text x="107.7" y="555.3" font-size="9" text-anchor="middle" fill="#111">1μm</text>
<line x1="94.5" y1="557.3" x2="119.1" y2="557.3" stroke="#111" stroke-width="1.4"/>
</g>
<g clip-path="url(#ce42)">
<rect x="121.9" y="491.5" width="89.7" height="66.9" fill="rgb(137,140,145)" stroke="none" stroke-width="1"/>
<rect x="121.9" y="491.5" width="89.7" height="66.9" fill="#808080" stroke="none" stroke-width="1" filter="url(#emm2)" opacity="0.35"/>
<rect x="121.9" y="491.5" width="89.7" height="66.9" fill="#808080" stroke="none" stroke-width="1" filter="url(#emn2)" opacity="0.5"/>
<ellipse cx="165.3" cy="527.7" rx="6" ry="19" fill="#5a5a5a" opacity="0.95" filter="url(#b1)" transform="rotate(-15 165.3 527.7)"/>
<ellipse cx="140" cy="520" rx="14" ry="20" fill="#7a7a7a" opacity="0.54" filter="url(#b1)" transform="rotate(0 140 520)"/>
<polygon points="171,491 185,491 189,503 198,513 201,521 211.6,527 211.6,533 204,531 193,521 184,511 177,501" fill="#e4e4e4" opacity="0.95" filter="url(#b06)"/>
<ellipse cx="139" cy="494" rx="3" ry="5" fill="#d8d8d8" opacity="0.7" filter="url(#b1)" transform="rotate(0 139 494)"/>
<ellipse cx="185" cy="507" rx="3.5" ry="2.5" fill="#8a8a8a" opacity="0.85" filter="url(#b1)" transform="rotate(30 185 507)"/>
<ellipse cx="181" cy="502" rx="1.5" ry="1" fill="#444" opacity="0.8" filter="url(#b1)" transform="rotate(30 181 502)"/>
<rect x="121.9" y="491.5" width="89.7" height="66.9" fill="#808080" stroke="none" stroke-width="1" filter="url(#emn3)" opacity="0.22"/>
<line x1="151.5" y1="537.2" x2="159.6" y2="532.5" stroke="#111" stroke-width="2.2" marker-end="url(#ah)"/>
<text x="200" y="555.3" font-size="9" text-anchor="middle" fill="#111">1μm</text>
<line x1="187.3" y1="557.3" x2="210.6" y2="557.3" stroke="#111" stroke-width="1.4"/>
</g>
<g clip-path="url(#ce43)">
<rect x="215.3" y="491.5" width="89.4" height="66.9" fill="rgb(139,142,147)" stroke="none" stroke-width="1"/>
<rect x="215.3" y="491.5" width="89.4" height="66.9" fill="#808080" stroke="none" stroke-width="1" filter="url(#emm3)" opacity="0.35"/>
<rect x="215.3" y="491.5" width="89.4" height="66.9" fill="#808080" stroke="none" stroke-width="1" filter="url(#emn3)" opacity="0.5"/>
<ellipse cx="246.7" cy="526" rx="9" ry="28" fill="#5e5e5e" opacity="0.95" filter="url(#b1)" transform="rotate(15 246.7 526)"/>
<ellipse cx="283.2" cy="530.3" rx="10" ry="10" fill="#666" opacity="0.9" filter="url(#b1)" transform="rotate(0 283.2 530.3)"/>
<ellipse cx="294" cy="505" rx="8" ry="12" fill="#6a6a6a" opacity="0.63" filter="url(#b1)" transform="rotate(0 294 505)"/>
<polygon points="215.3,491.5 252,491.5 247,497 238,504 233,512 232,521 227,527 222,532 215.3,535" fill="#d4d4d4" opacity="0.95" filter="url(#b06)"/>
<ellipse cx="220.3" cy="501.3" rx="5" ry="5" fill="#909090" opacity="0.85" filter="url(#b1)" transform="rotate(0 220.3 501.3)"/>
<ellipse cx="239.2" cy="506.4" rx="6" ry="6" fill="#a0a0a0" opacity="0.85" filter="url(#b1)" transform="rotate(0 239.2 506.4)"/>
<ellipse cx="239.2" cy="506.4" rx="3" ry="3" fill="#d0d0d0" opacity="0.8" filter="url(#b1)" transform="rotate(0 239.2 506.4)"/>
<ellipse cx="219" cy="524" rx="5.5" ry="5.5" fill="#959595" opacity="0.85" filter="url(#b1)" transform="rotate(0 219 524)"/>
<ellipse cx="264" cy="513" rx="1.2" ry="15" fill="#e0e0e0" opacity="0.85" filter="url(#b1)" transform="rotate(12 264 513)"/>
<rect x="215.3" y="491.5" width="89.4" height="66.9" fill="#808080" stroke="none" stroke-width="1" filter="url(#emn4)" opacity="0.22"/>
<line x1="259.3" y1="532.8" x2="264.3" y2="540.3" stroke="#111" stroke-width="2.2" marker-end="url(#ah)"/>
<text x="292" y="555.3" font-size="9" text-anchor="middle" fill="#111">1μm</text>
<line x1="279.4" y1="557.3" x2="304.0" y2="557.3" stroke="#111" stroke-width="1.4"/>
</g>
<g clip-path="url(#ce44)">
<rect x="29.6" y="563.5" width="89.5" height="66.6" fill="rgb(138,141,146)" stroke="none" stroke-width="1"/>
<rect x="29.6" y="563.5" width="89.5" height="66.6" fill="#808080" stroke="none" stroke-width="1" filter="url(#emm4)" opacity="0.35"/>
<rect x="29.6" y="563.5" width="89.5" height="66.6" fill="#808080" stroke="none" stroke-width="1" filter="url(#emn4)" opacity="0.5"/>
<ellipse cx="60" cy="595" rx="18" ry="14" fill="#7a7a7a" opacity="0.54" filter="url(#b1)" transform="rotate(0 60 595)"/>
<polygon points="104,630.1 119.1,608 119.1,630.1" fill="#e2e2e2" opacity="0.95" filter="url(#b06)"/>
<rect x="29.6" y="563.5" width="89.5" height="66.6" fill="#808080" stroke="none" stroke-width="1" filter="url(#emn5)" opacity="0.22"/>
<line x1="71.1" y1="571.7" x2="81" y2="572.9" stroke="#111" stroke-width="2.2" marker-end="url(#ah)"/>
<line x1="69.9" y1="624.7" x2="79.1" y2="622.2" stroke="#111" stroke-width="2.2" marker-end="url(#ah)"/>
<text x="106" y="626.5" font-size="9" text-anchor="middle" fill="#111">1μm</text>
<line x1="92.0" y1="628.3" x2="118.5" y2="628.3" stroke="#111" stroke-width="1.4"/>
</g>
<g clip-path="url(#ce45)">
<rect x="121.9" y="563.5" width="89.7" height="66.6" fill="rgb(138,141,146)" stroke="none" stroke-width="1"/>
<rect x="121.9" y="563.5" width="89.7" height="66.6" fill="#808080" stroke="none" stroke-width="1" filter="url(#emm5)" opacity="0.35"/>
<rect x="121.9" y="563.5" width="89.7" height="66.6" fill="#808080" stroke="none" stroke-width="1" filter="url(#emn5)" opacity="0.5"/>
<ellipse cx="170" cy="612" rx="40" ry="10" fill="#707070" opacity="0.63" filter="url(#b1)" transform="rotate(0 170 612)"/>
<ellipse cx="167.8" cy="602.2" rx="4" ry="5" fill="#e8e8e8" opacity="0.95" filter="url(#b1)" transform="rotate(0 167.8 602.2)"/>
<ellipse cx="140" cy="608" rx="9" ry="1.6" fill="#d8d8d8" opacity="0.85" filter="url(#b1)" transform="rotate(25 140 608)"/>
<rect x="121.9" y="563.5" width="89.7" height="66.6" fill="#808080" stroke="none" stroke-width="1" filter="url(#emn6)" opacity="0.22"/>
<line x1="162.8" y1="595.9" x2="171.6" y2="597.1" stroke="#111" stroke-width="2.2" marker-end="url(#ah)"/>
<line x1="160.3" y1="616.6" x2="165.3" y2="624.8" stroke="#111" stroke-width="2.2" marker-end="url(#ah)"/>
<text x="198" y="627.2" font-size="9" text-anchor="middle" fill="#111">1μm</text>
<line x1="185.4" y1="629.0" x2="210.0" y2="629.0" stroke="#111" stroke-width="1.4"/>
</g>
<g clip-path="url(#ce46)">
<rect x="215.3" y="563.5" width="89.4" height="66.6" fill="rgb(137,140,145)" stroke="none" stroke-width="1"/>
<rect x="215.3" y="563.5" width="89.4" height="66.6" fill="#808080" stroke="none" stroke-width="1" filter="url(#emm6)" opacity="0.35"/>
<rect x="215.3" y="563.5" width="89.4" height="66.6" fill="#808080" stroke="none" stroke-width="1" filter="url(#emn6)" opacity="0.5"/>
<ellipse cx="273" cy="576.4" rx="24" ry="4" fill="#5e5e5e" opacity="0.95" filter="url(#b1)" transform="rotate(-5 273 576.4)"/>
<ellipse cx="252" cy="594" rx="38" ry="5" fill="#5a5a5a" opacity="0.95" filter="url(#b1)" transform="rotate(-4 252 594)"/>
<ellipse cx="248" cy="609" rx="30" ry="4" fill="#5e5e5e" opacity="0.95" filter="url(#b1)" transform="rotate(-3 248 609)"/>
<ellipse cx="290" cy="588" rx="12" ry="3" fill="#666" opacity="0.7200000000000001" filter="url(#b1)" transform="rotate(0 290 588)"/>
<polygon points="258,630.1 262,618 285,616 304.7,619 304.7,630.1" fill="#d8d8d8" opacity="0.9" filter="url(#b06)"/>
<rect x="215.3" y="563.5" width="89.4" height="66.6" fill="#808080" stroke="none" stroke-width="1" filter="url(#emn7)" opacity="0.22"/>
<line x1="268.1" y1="577" x2="273.1" y2="585.2" stroke="#111" stroke-width="2.2" marker-end="url(#ah)"/>
<line x1="256.2" y1="601.5" x2="261.2" y2="609.7" stroke="#111" stroke-width="2.2" marker-end="url(#ah)"/>
<text x="291" y="627" font-size="9" text-anchor="middle" fill="#111">1μm</text>
<line x1="278.8" y1="628.6" x2="304.0" y2="628.6" stroke="#111" stroke-width="1.4"/>
</g>
<text x="11.2" y="853.4" font-size="17" font-weight="bold" fill="#111">I</text>
<text x="48.5" y="865.3" font-size="12.2" text-anchor="middle" fill="#262626">Azelastine</text>
<text x="42.6" y="880.0" font-size="12.2" text-anchor="middle" fill="#262626">(μM)</text>
<text x="175.8" y="863.0" font-size="12.4" text-anchor="middle" fill="#262626">MEK</text>
<line x1="82.5" y1="867.4" x2="269.7" y2="867.4" stroke="#333" stroke-width="1.3"/>
<text x="83.5" y="882.0" font-size="12.4" text-anchor="middle" fill="#262626">0</text>
<text x="171.3" y="882.0" font-size="12.4" text-anchor="middle" fill="#262626">10</text>
<text x="265.5" y="882.0" font-size="12.4" text-anchor="middle" fill="#262626">20</text>
<text x="0" y="0" font-size="12.6" text-anchor="middle" fill="#262626" textLength="28.7" lengthAdjust="spacingAndGlyphs" transform="translate(31.9,922.4) rotate(-90)">HT29</text>
<text x="0" y="0" font-size="12.6" text-anchor="middle" fill="#262626" textLength="28.7" lengthAdjust="spacingAndGlyphs" transform="translate(31.9,993.4) rotate(-90)">DLD1</text>
<g clip-path="url(#ce47)">
<rect x="34.3" y="884.5" width="89.3" height="67.0" fill="rgb(137,140,145)" stroke="none" stroke-width="1"/>
<rect x="34.3" y="884.5" width="89.3" height="67.0" fill="#808080" stroke="none" stroke-width="1" filter="url(#emm7)" opacity="0.35"/>
<rect x="34.3" y="884.5" width="89.3" height="67.0" fill="#808080" stroke="none" stroke-width="1" filter="url(#emn7)" opacity="0.5"/>
<ellipse cx="60.9" cy="897.1" rx="5" ry="12" fill="#5e5e5e" opacity="0.9" filter="url(#b1)" transform="rotate(0 60.9 897.1)"/>
<ellipse cx="73.5" cy="897.1" rx="5" ry="10" fill="#666" opacity="0.81" filter="url(#b1)" transform="rotate(0 73.5 897.1)"/>
<ellipse cx="60.9" cy="934.8" rx="9" ry="12" fill="#5a5a5a" opacity="0.9" filter="url(#b1)" transform="rotate(0 60.9 934.8)"/>
<ellipse cx="77.3" cy="926" rx="6" ry="5" fill="#5e5e5e" opacity="0.9" filter="url(#b1)" transform="rotate(0 77.3 926)"/>
<ellipse cx="89.9" cy="939.9" rx="4" ry="6" fill="#5a5a5a" opacity="0.9" filter="url(#b1)" transform="rotate(0 89.9 939.9)"/>
<ellipse cx="39.5" cy="918.5" rx="6" ry="6" fill="#777" opacity="0.63" filter="url(#b1)" transform="rotate(0 39.5 918.5)"/>
<ellipse cx="85" cy="905" rx="2" ry="3" fill="#ddd" opacity="0.5" filter="url(#b1)" transform="rotate(0 85 905)"/>
<ellipse cx="105" cy="925" rx="3" ry="2" fill="#ddd" opacity="0.5" filter="url(#b1)" transform="rotate(0 105 925)"/>
<ellipse cx="75" cy="940" rx="3" ry="3" fill="#ccc" opacity="0.5" filter="url(#b1)" transform="rotate(0 75 940)"/>
<rect x="34.3" y="884.5" width="89.3" height="67.0" fill="#808080" stroke="none" stroke-width="1" filter="url(#emn8)" opacity="0.22"/>
<line x1="57.2" y1="919.8" x2="66.6" y2="916.6" stroke="#111" stroke-width="2.2" marker-end="url(#ah)"/>
<line x1="38.9" y1="943" x2="48.4" y2="939.9" stroke="#111" stroke-width="2.2" marker-end="url(#ah)"/>
<text x="110" y="948" font-size="9" text-anchor="middle" fill="#111">1μm</text>
<line x1="98.0" y1="950.0" x2="122.6" y2="950.0" stroke="#111" stroke-width="1.4"/>
</g>
<g clip-path="url(#ce48)">
<rect x="126.9" y="884.5" width="89.4" height="67.0" fill="rgb(138,141,146)" stroke="none" stroke-width="1"/>
<rect x="126.9" y="884.5" width="89.4" height="67.0" fill="#808080" stroke="none" stroke-width="1" filter="url(#emm8)" opacity="0.35"/>
<rect x="126.9" y="884.5" width="89.4" height="67.0" fill="#808080" stroke="none" stroke-width="1" filter="url(#emn8)" opacity="0.5"/>
<ellipse cx="186.9" cy="913.5" rx="10" ry="5" fill="#5e5e5e" opacity="0.9" filter="url(#b1)" transform="rotate(20 186.9 913.5)"/>
<ellipse cx="159.2" cy="939.9" rx="9" ry="7" fill="#606060" opacity="0.9" filter="url(#b1)" transform="rotate(0 159.2 939.9)"/>
<ellipse cx="155.5" cy="913.5" rx="7" ry="6" fill="#6a6a6a" opacity="0.7200000000000001" filter="url(#b1)" transform="rotate(0 155.5 913.5)"/>
<ellipse cx="158" cy="931.7" rx="16" ry="1.5" fill="#dcdcdc" opacity="0.8" filter="url(#b1)" transform="rotate(5 158 931.7)"/>
<ellipse cx="134" cy="902" rx="1.2" ry="6" fill="#ddd" opacity="0.6" filter="url(#b1)" transform="rotate(0 134 902)"/>
<ellipse cx="144" cy="914" rx="1.2" ry="5" fill="#ddd" opacity="0.6" filter="url(#b1)" transform="rotate(0 144 914)"/>
<rect x="126.9" y="884.5" width="89.4" height="67.0" fill="#808080" stroke="none" stroke-width="1" filter="url(#emn9)" opacity="0.22"/>
<line x1="176.9" y1="923.5" x2="181.9" y2="916" stroke="#111" stroke-width="2.2" marker-end="url(#ah)"/>
<line x1="146" y1="950.6" x2="151" y2="943.7" stroke="#111" stroke-width="2.2" marker-end="url(#ah)"/>
<text x="202" y="948" font-size="9" text-anchor="middle" fill="#111">1μm</text>
<line x1="190.0" y1="950.0" x2="214.6" y2="950.0" stroke="#111" stroke-width="1.4"/>
</g>
<g clip-path="url(#ce49)">
<rect x="219.6" y="884.5" width="89.4" height="67.0" fill="rgb(127,130,135)" stroke="none" stroke-width="1"/>
<rect x="219.6" y="884.5" width="89.4" height="67.0" fill="#808080" stroke="none" stroke-width="1" filter="url(#emm9)" opacity="0.35"/>
<rect x="219.6" y="884.5" width="89.4" height="67.0" fill="#808080" stroke="none" stroke-width="1" filter="url(#emn9)" opacity="0.5"/>
<ellipse cx="244.7" cy="914.7" rx="10" ry="8" fill="#555" opacity="0.9" filter="url(#b1)" transform="rotate(0 244.7 914.7)"/>
<ellipse cx="267.3" cy="907.2" rx="9" ry="9" fill="#555" opacity="0.9" filter="url(#b1)" transform="rotate(0 267.3 907.2)"/>
<ellipse cx="295" cy="917.2" rx="10" ry="9" fill="#555" opacity="0.9" filter="url(#b1)" transform="rotate(0 295 917.2)"/>
<ellipse cx="232.1" cy="934.8" rx="12" ry="10" fill="#5a5a5a" opacity="0.81" filter="url(#b1)" transform="rotate(0 232.1 934.8)"/>
<ellipse cx="297.5" cy="894.6" rx="5" ry="7" fill="#5a5a5a" opacity="0.81" filter="url(#b1)" transform="rotate(0 297.5 894.6)"/>
<ellipse cx="222" cy="909" rx="4" ry="9" fill="#e4e4e4" opacity="0.9" filter="url(#b1)" transform="rotate(0 222 909)"/>
<ellipse cx="302" cy="943" rx="6" ry="4" fill="#e0e0e0" opacity="0.9" filter="url(#b1)" transform="rotate(0 302 943)"/>
<ellipse cx="285" cy="901" rx="3" ry="2" fill="#ccc" opacity="0.6" filter="url(#b1)" transform="rotate(0 285 901)"/>
<rect x="219.6" y="884.5" width="89.4" height="67.0" fill="#808080" stroke="none" stroke-width="1" filter="url(#emn10)" opacity="0.22"/>
<line x1="253.5" y1="924.8" x2="258.5" y2="933" stroke="#111" stroke-width="2.2" marker-end="url(#ah)"/>
<line x1="285" y1="927.3" x2="279.9" y2="935.5" stroke="#111" stroke-width="2.2" marker-end="url(#ah)"/>
<text x="295.5" y="948" font-size="9" text-anchor="middle" fill="#111">1μm</text>
<line x1="283.0" y1="950.0" x2="307.6" y2="950.0" stroke="#111" stroke-width="1.4"/>
</g>
<g clip-path="url(#ce50)">
<rect x="34.3" y="956.5" width="89.3" height="67.0" fill="rgb(139,142,147)" stroke="none" stroke-width="1"/>
<rect x="34.3" y="956.5" width="89.3" height="67.0" fill="#808080" stroke="none" stroke-width="1" filter="url(#emm10)" opacity="0.35"/>
<rect x="34.3" y="956.5" width="89.3" height="67.0" fill="#808080" stroke="none" stroke-width="1" filter="url(#emn10)" opacity="0.5"/>
<ellipse cx="79.8" cy="979.2" rx="8" ry="10" fill="#6a6a6a" opacity="0.7200000000000001" filter="url(#b1)" transform="rotate(0 79.8 979.2)"/>
<ellipse cx="82.3" cy="1000.6" rx="8" ry="6" fill="#6a6a6a" opacity="0.7200000000000001" filter="url(#b1)" transform="rotate(0 82.3 1000.6)"/>
<rect x="34.3" y="956.5" width="89.3" height="67.0" fill="#808080" stroke="none" stroke-width="1" filter="url(#emn11)" opacity="0.22"/>
<line x1="90.5" y1="982.3" x2="95.5" y2="990.5" stroke="#111" stroke-width="2.2" marker-end="url(#ah)"/>
<line x1="85.5" y1="1005" x2="90.5" y2="1013.8" stroke="#111" stroke-width="2.2" marker-end="url(#ah)"/>
<text x="111.6" y="1020.6" font-size="9" text-anchor="middle" fill="#111">1μm</text>
<line x1="98.7" y1="1022.6" x2="122.6" y2="1022.6" stroke="#111" stroke-width="1.4"/>
</g>
<g clip-path="url(#ce51)">
<rect x="126.9" y="956.5" width="89.4" height="67.0" fill="rgb(135,138,143)" stroke="none" stroke-width="1"/>
<rect x="126.9" y="956.5" width="89.4" height="67.0" fill="#808080" stroke="none" stroke-width="1" filter="url(#emm11)" opacity="0.35"/>
<rect x="126.9" y="956.5" width="89.4" height="67.0" fill="#808080" stroke="none" stroke-width="1" filter="url(#emn11)" opacity="0.5"/>
<ellipse cx="163" cy="995.5" rx="9" ry="8" fill="#5e5e5e" opacity="0.9" filter="url(#b1)" transform="rotate(0 163 995.5)"/>
<ellipse cx="199.5" cy="981.7" rx="9" ry="9" fill="#5e5e5e" opacity="0.81" filter="url(#b1)" transform="rotate(0 199.5 981.7)"/>
<polygon points="164,956.5 216.3,956.5 216.3,976.7 206,975.4 194.5,970.4 182,971.6 174.3,967.8 167,962.8" fill="#dedede" opacity="0.95" filter="url(#b06)"/>
<ellipse cx="138.4" cy="1000.4" rx="10" ry="5.5" fill="#d8d8d8" opacity="0.9" filter="url(#b1)" transform="rotate(30 138.4 1000.4)"/>
<rect x="126.9" y="956.5" width="89.4" height="67.0" fill="#808080" stroke="none" stroke-width="1" filter="url(#emn12)" opacity="0.22"/>
<line x1="170.6" y1="1001.8" x2="175.6" y2="1010" stroke="#111" stroke-width="2.2" marker-end="url(#ah)"/>
<line x1="197.6" y1="989.9" x2="193.2" y2="997.4" stroke="#111" stroke-width="2.2" marker-end="url(#ah)"/>
<text x="203.6" y="1020.6" font-size="9" text-anchor="middle" fill="#111">1μm</text>
<line x1="190.7" y1="1022.6" x2="214.6" y2="1022.6" stroke="#111" stroke-width="1.4"/>
</g>
<g clip-path="url(#ce52)">
<rect x="219.6" y="956.5" width="89.4" height="67.0" fill="rgb(137,140,145)" stroke="none" stroke-width="1"/>
<rect x="219.6" y="956.5" width="89.4" height="67.0" fill="#808080" stroke="none" stroke-width="1" filter="url(#emm12)" opacity="0.35"/>
<rect x="219.6" y="956.5" width="89.4" height="67.0" fill="#808080" stroke="none" stroke-width="1" filter="url(#emn12)" opacity="0.5"/>
<ellipse cx="250" cy="995" rx="14" ry="10" fill="#6e6e6e" opacity="0.63" filter="url(#b1)" transform="rotate(0 250 995)"/>
<ellipse cx="301" cy="966" rx="6" ry="8" fill="#e0e0e0" opacity="0.9" filter="url(#b1)" transform="rotate(0 301 966)"/>
<ellipse cx="270" cy="977" rx="6" ry="6" fill="#d0d0d0" opacity="0.8" filter="url(#b1)" transform="rotate(0 270 977)"/>
<ellipse cx="226" cy="975" rx="4" ry="5" fill="#d0d0d0" opacity="0.8" filter="url(#b1)" transform="rotate(0 226 975)"/>
<ellipse cx="231.5" cy="999" rx="1.2" ry="13" fill="#d0d0d0" opacity="0.8" filter="url(#b1)" transform="rotate(-40 231.5 999)"/>
<rect x="219.6" y="956.5" width="89.4" height="67.0" fill="#808080" stroke="none" stroke-width="1" filter="url(#emn1)" opacity="0.22"/>
<line x1="239" y1="1013.1" x2="244" y2="1005.6" stroke="#111" stroke-width="2.2" marker-end="url(#ah)"/>
<line x1="254.8" y1="1004.3" x2="259.8" y2="996.8" stroke="#111" stroke-width="2.2" marker-end="url(#ah)"/>
<text x="296.6" y="1020.6" font-size="9" text-anchor="middle" fill="#111">1μm</text>
<line x1="283.7" y1="1022.6" x2="307.6" y2="1022.6" stroke="#111" stroke-width="1.4"/>
</g>
<text x="489.5" y="203.4" font-size="17" text-anchor="start" fill="#111" font-weight="bold">F</text>
<line x1="591.9" y1="206.2" x2="657.7" y2="393.4" stroke="#555" stroke-width="0.62"/>
<polygon points="656.0,388.7 653.8,386.1 656.2,385.2" fill="#444"/>
<line x1="591.9" y1="206.2" x2="695.3" y2="354.2" stroke="#555" stroke-width="0.62"/>
<polygon points="692.4,350.1 689.5,348.2 691.7,346.7" fill="#444"/>
<line x1="591.9" y1="206.2" x2="687.8" y2="370.8" stroke="#555" stroke-width="0.62"/>
<polygon points="685.3,366.5 682.5,364.4 684.8,363.1" fill="#444"/>
<line x1="591.9" y1="206.2" x2="672.7" y2="382.8" stroke="#555" stroke-width="0.62"/>
<polygon points="670.6,378.3 668.1,375.9 670.5,374.8" fill="#444"/>
<line x1="591.9" y1="206.2" x2="702.8" y2="337.7" stroke="#555" stroke-width="0.62"/>
<polygon points="699.6,333.9 696.5,332.3 698.5,330.6" fill="#444"/>
<line x1="591.9" y1="206.2" x2="707.3" y2="318.0" stroke="#555" stroke-width="0.62"/>
<polygon points="703.7,314.5 700.5,313.2 702.3,311.4" fill="#444"/>
<line x1="591.9" y1="206.2" x2="690.0" y2="248.0" stroke="#555" stroke-width="0.62"/>
<polygon points="685.4,246.0 681.9,246.0 683.0,243.6" fill="#444"/>
<line x1="591.9" y1="206.2" x2="676.7" y2="232.7" stroke="#555" stroke-width="0.62"/>
<polygon points="671.9,231.2 668.5,231.5 669.3,229.0" fill="#444"/>
<line x1="591.9" y1="206.2" x2="604.9" y2="406.9" stroke="#555" stroke-width="0.62"/>
<polygon points="604.6,401.9 603.1,398.8 605.7,398.6" fill="#444"/>
<line x1="591.9" y1="206.2" x2="556.7" y2="390.4" stroke="#555" stroke-width="0.62"/>
<polygon points="557.6,385.5 557.0,382.1 559.5,382.6" fill="#444"/>
<line x1="591.9" y1="206.2" x2="641.1" y2="400.9" stroke="#555" stroke-width="0.62"/>
<polygon points="639.9,396.1 637.8,393.3 640.4,392.6" fill="#444"/>
<line x1="557.0" y1="218.6" x2="690.0" y2="248.0" stroke="#555" stroke-width="0.62"/>
<polygon points="685.1,246.9 681.7,247.5 682.3,245.0" fill="#444"/>
<line x1="541.2" y1="229.8" x2="676.7" y2="232.7" stroke="#555" stroke-width="0.62"/>
<polygon points="671.7,232.6 668.5,233.8 668.5,231.2" fill="#444"/>
<line x1="690.0" y1="248.0" x2="510.0" y2="276.2" stroke="#555" stroke-width="0.62"/>
<polygon points="514.9,275.4 517.9,273.6 518.3,276.2" fill="#444"/>
<line x1="690.0" y1="248.0" x2="518.0" y2="259.0" stroke="#555" stroke-width="0.62"/>
<polygon points="523.0,258.7 526.1,257.2 526.3,259.8" fill="#444"/>
<line x1="690.0" y1="248.0" x2="505.9" y2="295.1" stroke="#555" stroke-width="0.62"/>
<polygon points="510.7,293.9 513.5,291.8 514.2,294.3" fill="#444"/>
<line x1="690.0" y1="248.0" x2="537.2" y2="379.8" stroke="#555" stroke-width="0.62"/>
<polygon points="541.0,376.5 542.6,373.5 544.3,375.4" fill="#444"/>
<line x1="690.0" y1="248.0" x2="525.1" y2="364.8" stroke="#555" stroke-width="0.62"/>
<polygon points="529.2,361.9 531.0,359.0 532.5,361.1" fill="#444"/>
<line x1="513.7" y1="348.2" x2="695.3" y2="354.2" stroke="#555" stroke-width="0.62"/>
<polygon points="690.3,354.0 687.1,355.2 687.1,352.6" fill="#444"/>
<line x1="513.7" y1="348.2" x2="687.8" y2="370.8" stroke="#555" stroke-width="0.62"/>
<polygon points="682.8,370.2 679.5,371.0 679.8,368.5" fill="#444"/>
<line x1="513.7" y1="348.2" x2="672.7" y2="382.8" stroke="#555" stroke-width="0.62"/>
<polygon points="667.8,381.7 664.4,382.3 665.0,379.8" fill="#444"/>
<line x1="513.7" y1="348.2" x2="657.7" y2="393.4" stroke="#555" stroke-width="0.62"/>
<polygon points="652.9,391.9 649.5,392.2 650.3,389.7" fill="#444"/>
<line x1="513.7" y1="348.2" x2="623.0" y2="406.9" stroke="#555" stroke-width="0.62"/>
<polygon points="618.6,404.5 615.2,404.2 616.4,401.9" fill="#444"/>
<line x1="513.7" y1="348.2" x2="604.9" y2="406.9" stroke="#555" stroke-width="0.62"/>
<polygon points="600.7,404.2 597.3,403.6 598.7,401.4" fill="#444"/>
<line x1="513.7" y1="348.2" x2="690.0" y2="248.0" stroke="#555" stroke-width="0.62"/>
<polygon points="685.7,250.5 683.5,253.2 682.2,250.9" fill="#444"/>
<line x1="604.9" y1="406.9" x2="607.0" y2="304.0" stroke="#555" stroke-width="0.62"/>
<polygon points="606.9,309.0 608.1,312.2 605.5,312.2" fill="#444"/>
<line x1="623.0" y1="406.9" x2="607.0" y2="304.0" stroke="#555" stroke-width="0.62"/>
<polygon points="607.8,308.9 609.5,311.9 607.0,312.3" fill="#444"/>
<line x1="507.0" y1="330.0" x2="690.0" y2="248.0" stroke="#555" stroke-width="0.62"/>
<polygon points="685.4,250.0 683.0,252.5 682.0,250.2" fill="#444"/>
<line x1="507.0" y1="330.0" x2="607.0" y2="304.0" stroke="#555" stroke-width="0.62"/>
<polygon points="602.2,305.3 599.4,307.3 598.7,304.8" fill="#444"/>
<line x1="518.0" y1="259.0" x2="657.7" y2="393.4" stroke="#555" stroke-width="0.62"/>
<polygon points="654.1,389.9 650.9,388.7 652.7,386.8" fill="#444"/>
<line x1="510.0" y1="276.2" x2="585.4" y2="403.9" stroke="#555" stroke-width="0.62"/>
<polygon points="582.9,399.6 580.1,397.5 582.4,396.2" fill="#444"/>
<line x1="505.9" y1="295.1" x2="706.2" y2="281.0" stroke="#555" stroke-width="0.62"/>
<polygon points="701.2,281.4 698.1,282.9 697.9,280.3" fill="#444"/>
<line x1="702.8" y1="337.7" x2="513.7" y2="348.2" stroke="#555" stroke-width="0.62"/>
<polygon points="518.7,347.9 521.8,346.4 522.0,349.0" fill="#444"/>
<line x1="525.1" y1="364.8" x2="687.8" y2="370.8" stroke="#555" stroke-width="0.62"/>
<polygon points="682.8,370.6 679.6,371.8 679.7,369.2" fill="#444"/>
<line x1="591.9" y1="206.2" x2="706.2" y2="281.0" stroke="#555" stroke-width="0.62"/>
<polygon points="702.0,278.3 698.6,277.6 700.1,275.4" fill="#444"/>
<line x1="695.3" y1="354.2" x2="627.2" y2="208.3" stroke="#555" stroke-width="0.62"/>
<polygon points="629.3,212.8 631.8,215.2 629.5,216.3" fill="#444"/>
<line x1="609.6" y1="205.3" x2="687.8" y2="370.8" stroke="#555" stroke-width="0.62"/>
<polygon points="685.7,366.3 683.1,363.9 685.5,362.8" fill="#444"/>
<line x1="698.2" y1="264.8" x2="695.3" y2="354.2" stroke="#555" stroke-width="0.62"/>
<polygon points="695.5,349.2 694.3,346.0 696.9,346.0" fill="#444"/>
<line x1="690.0" y1="248.0" x2="672.7" y2="382.8" stroke="#555" stroke-width="0.62"/>
<polygon points="673.3,377.8 672.5,374.5 675.0,374.8" fill="#444"/>
<line x1="528.3" y1="243.4" x2="567.3" y2="399.4" stroke="#555" stroke-width="0.62"/>
<polygon points="566.1,394.5 564.1,391.8 566.6,391.1" fill="#444"/>
<line x1="607.0" y1="304.0" x2="657.7" y2="393.4" stroke="#555" stroke-width="0.62"/>
<polygon points="655.2,389.1 652.5,386.9 654.8,385.6" fill="#444"/>
<line x1="627.2" y1="208.3" x2="556.7" y2="390.4" stroke="#555" stroke-width="0.62"/>
<polygon points="558.5,385.7 558.4,382.3 560.9,383.2" fill="#444"/>
<line x1="607.0" y1="304.0" x2="525.1" y2="364.8" stroke="#555" stroke-width="0.62"/>
<polygon points="529.1,361.8 530.9,358.9 532.5,361.0" fill="#444"/>
<line x1="607.0" y1="304.0" x2="510.0" y2="276.2" stroke="#606060" stroke-width="0.58" stroke-dasharray="3 1.8"/>
<polygon points="514.8,277.6 518.2,277.2 517.5,279.7" fill="#555"/>
<line x1="607.0" y1="304.0" x2="505.5" y2="312.0" stroke="#606060" stroke-width="0.58" stroke-dasharray="3 1.8"/>
<polygon points="510.5,311.6 513.6,310.1 513.8,312.7" fill="#555"/>
<line x1="607.0" y1="304.0" x2="507.0" y2="330.0" stroke="#606060" stroke-width="0.58" stroke-dasharray="3 1.8"/>
<polygon points="511.8,328.7 514.6,326.7 515.3,329.2" fill="#555"/>
<line x1="607.0" y1="304.0" x2="591.9" y2="206.2" stroke="#606060" stroke-width="0.58" stroke-dasharray="3 1.8"/>
<polygon points="592.7,211.1 594.4,214.1 591.9,214.5" fill="#555"/>
<line x1="607.0" y1="304.0" x2="609.6" y2="205.3" stroke="#606060" stroke-width="0.58" stroke-dasharray="3 1.8"/>
<polygon points="609.5,210.3 610.7,213.5 608.1,213.5" fill="#555"/>
<line x1="607.0" y1="304.0" x2="690.0" y2="248.0" stroke="#606060" stroke-width="0.58" stroke-dasharray="3 1.8"/>
<polygon points="685.9,250.8 683.9,253.7 682.5,251.5" fill="#555"/>
<line x1="607.0" y1="304.0" x2="513.7" y2="348.2" stroke="#606060" stroke-width="0.58" stroke-dasharray="3 1.8"/>
<polygon points="518.2,346.1 520.6,343.5 521.7,345.9" fill="#555"/>
<line x1="607.0" y1="304.0" x2="537.2" y2="379.8" stroke="#606060" stroke-width="0.58" stroke-dasharray="3 1.8"/>
<polygon points="540.6,376.1 541.8,372.9 543.7,374.6" fill="#555"/>
<line x1="607.0" y1="304.0" x2="556.7" y2="390.4" stroke="#606060" stroke-width="0.58" stroke-dasharray="3 1.8"/>
<polygon points="559.2,386.1 559.7,382.7 561.9,384.0" fill="#555"/>
<line x1="607.0" y1="304.0" x2="567.3" y2="399.4" stroke="#606060" stroke-width="0.58" stroke-dasharray="3 1.8"/>
<polygon points="569.2,394.8 569.3,391.3 571.7,392.3" fill="#555"/>
<line x1="607.0" y1="304.0" x2="641.1" y2="400.9" stroke="#606060" stroke-width="0.58" stroke-dasharray="3 1.8"/>
<polygon points="639.4,396.2 637.2,393.6 639.6,392.7" fill="#555"/>
<line x1="591.9" y1="206.2" x2="585.4" y2="403.9" stroke="#606060" stroke-width="0.58" stroke-dasharray="3 1.8"/>
<polygon points="585.6,398.9 584.4,395.7 587.0,395.7" fill="#555"/>
<line x1="591.9" y1="206.2" x2="567.3" y2="399.4" stroke="#606060" stroke-width="0.58" stroke-dasharray="3 1.8"/>
<polygon points="567.9,394.4 567.0,391.1 569.6,391.4" fill="#555"/>
<line x1="627.2" y1="208.3" x2="623.0" y2="406.9" stroke="#606060" stroke-width="0.58" stroke-dasharray="3 1.8"/>
<polygon points="623.1,401.9 621.9,398.7 624.5,398.7" fill="#555"/>
<line x1="690.0" y1="248.0" x2="604.9" y2="406.9" stroke="#606060" stroke-width="0.58" stroke-dasharray="3 1.8"/>
<polygon points="607.3,402.5 607.6,399.1 609.9,400.3" fill="#555"/>
<line x1="690.0" y1="248.0" x2="641.1" y2="400.9" stroke="#606060" stroke-width="0.58" stroke-dasharray="3 1.8"/>
<polygon points="642.6,396.1 642.4,392.7 644.8,393.5" fill="#555"/>
<line x1="690.0" y1="248.0" x2="623.0" y2="406.9" stroke="#606060" stroke-width="0.58" stroke-dasharray="3 1.8"/>
<polygon points="624.9,402.3 625.0,398.8 627.4,399.8" fill="#555"/>
<line x1="518.0" y1="259.0" x2="706.2" y2="281.0" stroke="#606060" stroke-width="0.58" stroke-dasharray="3 1.8"/>
<polygon points="701.2,280.4 697.9,281.3 698.2,278.8" fill="#555"/>
<line x1="510.0" y1="276.2" x2="706.2" y2="281.0" stroke="#606060" stroke-width="0.58" stroke-dasharray="3 1.8"/>
<polygon points="701.2,280.9 698.0,282.1 698.0,279.5" fill="#555"/>
<line x1="505.9" y1="295.1" x2="690.0" y2="248.0" stroke="#606060" stroke-width="0.58" stroke-dasharray="3 1.8"/>
<polygon points="685.2,249.2 682.4,251.3 681.7,248.8" fill="#555"/>
<line x1="609.6" y1="205.3" x2="604.9" y2="406.9" stroke="#606060" stroke-width="0.58" stroke-dasharray="3 1.8"/>
<polygon points="605.0,401.9 603.8,398.7 606.4,398.7" fill="#555"/>
<line x1="573.6" y1="210.3" x2="537.2" y2="379.8" stroke="#606060" stroke-width="0.58" stroke-dasharray="3 1.8"/>
<polygon points="538.2,374.9 537.7,371.5 540.2,372.1" fill="#555"/>
<line x1="513.7" y1="348.2" x2="567.3" y2="399.4" stroke="#606060" stroke-width="0.58" stroke-dasharray="3 1.8"/>
<polygon points="563.7,395.9 560.5,394.7 562.3,392.8" fill="#555"/>
<line x1="525.1" y1="364.8" x2="556.7" y2="390.4" stroke="#606060" stroke-width="0.58" stroke-dasharray="3 1.8"/>
<polygon points="552.8,387.3 549.5,386.2 551.1,384.2" fill="#555"/>
<line x1="657.7" y1="393.4" x2="591.9" y2="206.2" stroke="#606060" stroke-width="0.58" stroke-dasharray="3 1.8"/>
<polygon points="593.6,210.9 595.8,213.5 593.4,214.4" fill="#555"/>
<line x1="505.5" y1="312.0" x2="690.0" y2="248.0" stroke="#606060" stroke-width="0.58" stroke-dasharray="3 1.8"/>
<polygon points="685.3,249.6 682.7,251.9 681.8,249.5" fill="#555"/>
<line x1="557.0" y1="218.6" x2="706.2" y2="281.0" stroke="#606060" stroke-width="0.58" stroke-dasharray="3 1.8"/>
<polygon points="701.6,279.1 698.1,279.0 699.1,276.6" fill="#555"/>
<polygon points="591.9,208 604,222 598,224" fill="#9a9a9a" opacity="0.6"/>
<circle cx="556" cy="212" r="5.5" fill="none" stroke="#666" stroke-width="0.6"/>
<circle cx="645.8" cy="206.5" r="5.5" fill="none" stroke="#666" stroke-width="0.6"/>
<circle cx="689.4" cy="241.5" r="5.5" fill="none" stroke="#666" stroke-width="0.6"/>
<circle cx="514.6" cy="342" r="5.5" fill="none" stroke="#666" stroke-width="0.6"/>
<circle cx="507" cy="324" r="5" fill="none" stroke="#666" stroke-width="0.6"/>
<circle cx="604.9" cy="400.5" r="5" fill="none" stroke="#666" stroke-width="0.6"/>
<circle cx="641.1" cy="394.5" r="5" fill="none" stroke="#666" stroke-width="0.6"/>
<circle cx="688" cy="364" r="5" fill="none" stroke="#666" stroke-width="0.6"/>
<circle cx="672" cy="376" r="5" fill="none" stroke="#666" stroke-width="0.6"/>
<circle cx="696" cy="348" r="5" fill="none" stroke="#666" stroke-width="0.6"/>
<circle cx="607" cy="297" r="5" fill="none" stroke="#666" stroke-width="0.6"/>
<path d="M518,252 C500,248 498,275 510,278" fill="none" stroke="#666" stroke-width="0.6" stroke-dasharray="3 1.8"/>
<circle cx="557" cy="218.6" r="3.9" fill="#b2d9ae" stroke="#80a87c" stroke-width="0.5"/>
<text x="558.0" y="220.6" font-size="4.9" text-anchor="middle" fill="#151515">ANAPC7</text>
<circle cx="573.6" cy="210.3" r="3.9" fill="#f4d8dc" stroke="#b49a9c" stroke-width="0.5"/>
<text x="573.6" y="212.3" font-size="4.9" text-anchor="middle" fill="#151515">CDK5RAP3</text>
<circle cx="591.9" cy="206.2" r="3.9" fill="#f4d8dc" stroke="#b49a9c" stroke-width="0.5"/>
<text x="591.9" y="205.2" font-size="4.9" text-anchor="middle" fill="#151515">Cytoskeleton</text>
<circle cx="609.6" cy="205.3" r="3.9" fill="#e4e4e4" stroke="#a8a8a8" stroke-width="0.5"/>
<text x="611.6" y="204.3" font-size="4.9" text-anchor="middle" fill="#151515">Dynamin</text>
<polygon points="621.2,208.3 624.2,204.8 630.2,204.8 633.2,208.3 630.2,211.8 624.2,211.8" fill="#b2d9ae" stroke="#80a87c" stroke-width="0.5"/>
<text x="627.2" y="210.3" font-size="4.9" text-anchor="middle" fill="#151515">ECE1</text>
<circle cx="645.8" cy="213.3" r="3.9" fill="#b2d9ae" stroke="#80a87c" stroke-width="0.5"/>
<text x="645.8" y="215.3" font-size="4.9" text-anchor="middle" fill="#151515">FAR1</text>
<polygon points="662.9,214 667.4,223 662.9,232 658.4,223" fill="#b2d9ae" stroke="#80a87c" stroke-width="0.5"/>
<text x="662.9" y="225.0" font-size="4.9" text-anchor="middle" fill="#151515">GBP2</text>
<rect x="672.7" y="228.7" width="8" height="8" fill="#f4d8dc" stroke="#b49a9c" stroke-width="0.5"/>
<text x="676.7" y="234.7" font-size="4.9" text-anchor="middle" fill="#151515">RB1</text>
<circle cx="690" cy="248" r="3.9" fill="#f4d8dc" stroke="#b49a9c" stroke-width="0.5"/>
<text x="690.0" y="250.0" font-size="4.9" text-anchor="middle" fill="#151515">HSPB1</text>
<circle cx="698.2" cy="264.8" r="3.9" fill="#f4d8dc" stroke="#b49a9c" stroke-width="0.5"/>
<text x="698.2" y="266.8" font-size="4.9" text-anchor="middle" fill="#151515">IFI35</text>
<circle cx="706.2" cy="281" r="3.9" fill="#e4e4e4" stroke="#a8a8a8" stroke-width="0.5"/>
<text x="692.2" y="283.0" font-size="4.9" text-anchor="middle" fill="#151515">Inflammasome (Casp3, Asc, Casp1)</text>
<circle cx="707.7" cy="299.6" r="3.9" fill="#b2d9ae" stroke="#80a87c" stroke-width="0.5"/>
<text x="707.7" y="301.6" font-size="4.9" text-anchor="middle" fill="#151515">KLC1</text>
<circle cx="707.3" cy="318" r="3.9" fill="#f4d8dc" stroke="#b49a9c" stroke-width="0.5"/>
<text x="707.3" y="320.0" font-size="4.9" text-anchor="middle" fill="#151515">KRT1</text>
<circle cx="702.8" cy="337.7" r="3.9" fill="#f4d8dc" stroke="#b49a9c" stroke-width="0.5"/>
<text x="702.8" y="339.7" font-size="4.9" text-anchor="middle" fill="#151515">KRT10</text>
<circle cx="695.3" cy="354.2" r="3.9" fill="#f4d8dc" stroke="#b49a9c" stroke-width="0.5"/>
<text x="695.3" y="356.2" font-size="4.9" text-anchor="middle" fill="#151515">KRT18</text>
<circle cx="687.8" cy="370.8" r="3.9" fill="#f4d8dc" stroke="#b49a9c" stroke-width="0.5"/>
<text x="687.8" y="372.8" font-size="4.9" text-anchor="middle" fill="#151515">KRT19</text>
<circle cx="672.7" cy="382.8" r="3.9" fill="#f4d8dc" stroke="#b49a9c" stroke-width="0.5"/>
<text x="672.7" y="384.8" font-size="4.9" text-anchor="middle" fill="#151515">KRT20</text>
<circle cx="657.7" cy="393.4" r="3.9" fill="#f4d8dc" stroke="#b49a9c" stroke-width="0.5"/>
<text x="657.7" y="395.4" font-size="4.9" text-anchor="middle" fill="#151515">KRT8</text>
<polygon points="635.1,400.9 638.1,397.4 644.1,397.4 647.1,400.9 644.1,404.4 638.1,404.4" fill="#b2d9ae" stroke="#80a87c" stroke-width="0.5"/>
<text x="641.1" y="402.9" font-size="4.9" text-anchor="middle" fill="#151515">LONP1</text>
<circle cx="623" cy="406.9" r="3.9" fill="#e4e4e4" stroke="#a8a8a8" stroke-width="0.5"/>
<text x="623.0" y="408.9" font-size="4.9" text-anchor="middle" fill="#151515">MAP2K1/2</text>
<circle cx="604.9" cy="406.9" r="3.9" fill="#e4e4e4" stroke="#a8a8a8" stroke-width="0.5"/>
<text x="604.9" y="408.9" font-size="4.9" text-anchor="middle" fill="#151515">Mek</text>
<circle cx="585.4" cy="403.9" r="3.9" fill="#f4d8dc" stroke="#b49a9c" stroke-width="0.5"/>
<text x="585.4" y="405.9" font-size="4.9" text-anchor="middle" fill="#151515">NPTN</text>
<rect x="563.3" y="395.4" width="8" height="8" fill="#f4d8dc" stroke="#b49a9c" stroke-width="0.5"/>
<text x="567.3" y="401.4" font-size="4.9" text-anchor="middle" fill="#151515">OSBPL2</text>
<circle cx="556.7" cy="390.4" r="3.9" fill="#e4e4e4" stroke="#a8a8a8" stroke-width="0.5"/>
<text x="552.7" y="392.4" font-size="4.9" text-anchor="middle" fill="#151515">PDGF BB</text>
<circle cx="537.2" cy="379.8" r="3.9" fill="#f4d8dc" stroke="#b49a9c" stroke-width="0.5"/>
<text x="533.2" y="381.8" font-size="4.9" text-anchor="middle" fill="#151515">PI3K (complex)</text>
<circle cx="525.1" cy="364.8" r="3.9" fill="#f4d8dc" stroke="#b49a9c" stroke-width="0.5"/>
<text x="525.1" y="366.8" font-size="4.9" text-anchor="middle" fill="#151515">PKP3</text>
<circle cx="513.7" cy="348.2" r="3.9" fill="#e4e4e4" stroke="#a8a8a8" stroke-width="0.5"/>
<text x="515.7" y="350.2" font-size="4.9" text-anchor="middle" fill="#151515">Ras</text>
<circle cx="507" cy="330" r="3.9" fill="#f4d8dc" stroke="#b49a9c" stroke-width="0.5"/>
<text x="507.0" y="332.0" font-size="4.9" text-anchor="middle" fill="#151515">S100A4</text>
<polygon points="505.5,304 509.5,316 501.5,316" fill="#f4d8dc" stroke="#b49a9c" stroke-width="0.5"/>
<text x="505.5" y="314.0" font-size="4.9" text-anchor="middle" fill="#151515">SCD</text>
<circle cx="505.9" cy="295.1" r="3.9" fill="#f4d8dc" stroke="#b49a9c" stroke-width="0.5"/>
<text x="505.9" y="297.1" font-size="4.9" text-anchor="middle" fill="#151515">SNX27</text>
<rect x="506" y="267.2" width="7.5" height="7.5" fill="#f4d8dc" stroke="#b49a9c" stroke-width="0.3"/>
<rect x="506.5" y="277.8" width="7.5" height="7.5" fill="#f4d8dc" stroke="#b49a9c" stroke-width="0.3"/>
<text x="510.0" y="278.2" font-size="4.9" text-anchor="middle" fill="#151515">VDAC1</text>
<rect x="514" y="250" width="7.5" height="7.5" fill="#f4d8dc" stroke="#b49a9c" stroke-width="0.3"/>
<rect x="514.5" y="260.6" width="7.5" height="7.5" fill="#f4d8dc" stroke="#b49a9c" stroke-width="0.3"/>
<text x="518.0" y="261.0" font-size="4.9" text-anchor="middle" fill="#151515">VDAC2</text>
<rect x="524.3" y="234.4" width="7.5" height="7.5" fill="#f4d8dc" stroke="#b49a9c" stroke-width="0.3"/>
<rect x="524.8" y="245.0" width="7.5" height="7.5" fill="#f4d8dc" stroke="#b49a9c" stroke-width="0.3"/>
<text x="528.3" y="245.4" font-size="4.9" text-anchor="middle" fill="#151515">VDAC3</text>
<circle cx="541.2" cy="229.8" r="3.9" fill="#f4d8dc" stroke="#b49a9c" stroke-width="0.5"/>
<text x="541.2" y="231.8" font-size="4.9" text-anchor="middle" fill="#151515">VDAC4</text>
<text x="608.0" y="312.6" font-size="16" text-anchor="middle" fill="#111">ERK</text>
</svg>
</body></html>
